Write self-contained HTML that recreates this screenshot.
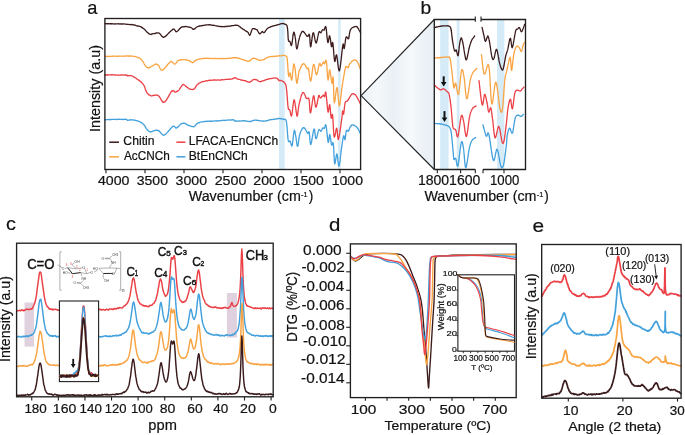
<!DOCTYPE html>
<html><head><meta charset="utf-8"><style>
html,body{margin:0;padding:0;background:#fff;}
svg{display:block;will-change:transform;}
text{font-family:"Liberation Sans", sans-serif;}
</style></head><body>
<svg width="685" height="435" viewBox="0 0 685 435">
<rect x="0" y="0" width="685" height="435" fill="#fff"/>
<rect x="279" y="19" width="5.7" height="150" fill="#d6ebf8" />
<rect x="338.1" y="19" width="2.6" height="150" fill="#d6ebf8" />
<path d="M105.2,23.7 L105.47,23.6 L105.76,23.77 L106.08,23.6 L106.42,23.71 L106.79,23.93 L107.18,23.55 L107.6,23.65 L108.03,23.82 L108.48,23.56 L108.95,23.6 L109.44,23.9 L109.94,23.97 L110.46,23.68 L110.99,23.63 L111.53,23.98 L112.08,23.7 L112.65,23.83 L113.22,23.84 L113.8,23.86 L114.39,23.99 L114.98,24.01 L115.58,23.9 L116.17,23.97 L116.77,23.97 L117.38,23.91 L117.98,23.83 L118.58,23.75 L119.17,23.78 L119.77,24.08 L120.35,23.99 L120.94,23.75 L121.51,24.12 L122.08,23.85 L122.63,24.05 L123.18,23.97 L123.71,23.9 L124.23,23.9 L124.73,24.08 L125.22,24.03 L125.7,24.15 L126.15,24.2 L126.59,24.28 L127,24.33 L127.4,24.26 L128.12,24.46 L128.82,24.32 L129.49,24.56 L130.13,24.61 L130.76,24.68 L131.35,24.46 L131.93,24.74 L132.49,24.81 L133.03,24.71 L133.55,24.93 L134.05,25.09 L134.53,24.96 L135,25.06 L135.46,25.42 L135.89,25.45 L136.32,25.8 L136.73,25.84 L137.13,25.94 L137.52,26.03 L137.91,25.88 L138.28,26.2 L138.64,26.02 L139,26.14 L139.75,26.47 L140.4,26.63 L140.95,26.76 L141.43,27.19 L141.86,27.62 L142.24,27.46 L142.6,27.77 L142.95,28.33 L143.31,28.43 L143.7,28.68 L144.14,29.01 L144.56,29.57 L144.96,29.82 L145.34,30.21 L145.71,30.62 L146.08,31.22 L146.45,31.28 L146.82,31.84 L147.2,32.26 L147.61,32.34 L147.99,32.83 L148.36,33.18 L148.73,33.63 L149.13,33.85 L149.58,34.06 L150.1,34.13 L150.7,34.27 L151.1,34.48 L151.56,34.08 L152.05,33.99 L152.58,33.91 L153.13,33.72 L153.7,33.61 L154.27,33.52 L154.85,33.55 L155.4,33.49 L155.94,32.92 L156.45,33.01 L156.92,32.79 L157.34,33.01 L157.7,33.02 L158.43,32.92 L158.87,32.79 L159.17,33.25 L159.49,33.57 L160,34.02 L160.32,34.16 L160.65,34.46 L160.98,35.18 L161.33,35.77 L161.7,36.04 L162.1,36.5 L162.55,36.71 L163.04,37.16 L163.59,37.36 L164.2,37.09 L164.49,36.8 L164.81,36.61 L165.15,36.7 L165.51,36.36 L165.89,35.84 L166.28,35.59 L166.68,35.04 L167.1,34.82 L167.52,34.16 L167.95,33.84 L168.38,33.47 L168.81,33.01 L169.24,32.48 L169.66,32.2 L170.08,31.59 L170.49,31.41 L170.89,31.03 L171.27,30.56 L171.64,30.4 L171.99,29.79 L172.32,29.86 L172.62,29.25 L172.9,29.33 L173.58,29.01 L174.11,29.15 L174.54,29.61 L174.9,30.17 L175.23,30.54 L175.56,31.14 L175.94,31.74 L176.4,31.73 L176.76,31.55 L177.13,31.45 L177.53,30.94 L177.94,30.7 L178.36,30.36 L178.78,29.76 L179.2,29.3 L179.61,28.72 L180.02,28.64 L180.4,28 L180.76,27.62 L181.1,27.38 L181.66,27.27 L182.1,26.8 L182.49,26.81 L182.91,26.71 L183.42,26.8 L184.1,26.74 L184.52,26.81 L185.01,26.51 L185.53,26.47 L186.1,26.53 L186.68,26.67 L187.28,26.7 L187.88,26.81 L188.47,27.16 L189.04,27.14 L189.57,27.17 L190.06,27.39 L190.5,27.37 L191.13,27.69 L191.66,28.03 L192.11,28.25 L192.52,28.99 L192.92,29.26 L193.33,29.21 L193.8,29.35 L194.18,28.98 L194.55,28.92 L194.92,28.72 L195.3,28.29 L195.68,27.78 L196.09,27.55 L196.52,27.07 L196.99,26.91 L197.5,26.68 L197.91,26.47 L198.34,26.46 L198.79,26.31 L199.26,25.9 L199.75,26.17 L200.24,25.93 L200.75,25.79 L201.27,25.68 L201.8,25.75 L202.33,25.45 L202.86,25.54 L203.4,25.35 L203.86,25.36 L204.31,25.32 L204.76,25.22 L205.22,25.18 L205.68,24.88 L206.14,24.9 L206.61,24.92 L207.1,24.85 L207.6,24.83 L208.11,24.78 L208.65,24.76 L209.21,24.84 L209.79,24.71 L210.4,24.73 L210.83,25.11 L211.27,25.06 L211.74,25.18 L212.22,25.05 L212.71,25.37 L213.21,25.26 L213.73,25.37 L214.25,25.28 L214.78,25.46 L215.31,25.75 L215.85,25.92 L216.38,25.82 L216.92,26.15 L217.45,26.18 L217.97,26 L218.49,26.19 L219,26.6 L219.5,26.46 L219.98,26.3 L220.45,26.64 L220.9,26.54 L221.47,26.45 L222.03,26.84 L222.58,26.6 L223.12,26.72 L223.64,26.55 L224.16,26.76 L224.66,26.6 L225.16,26.44 L225.65,26.37 L226.14,26.6 L226.62,26.42 L227.1,26.51 L227.58,26.11 L228.05,26.17 L228.53,26.23 L229,26.31 L229.55,26.16 L230.11,25.96 L230.67,26.09 L231.24,25.94 L231.81,25.67 L232.36,25.61 L232.91,25.62 L233.45,25.72 L233.96,25.49 L234.45,25.32 L234.91,25.38 L235.35,25.08 L235.74,25.24 L236.1,25.25 L236.96,25.29 L237.4,25.41 L237.77,25.22 L238.4,25.86 L238.74,26 L239.11,26.17 L239.51,26.56 L239.93,26.78 L240.37,27.1 L240.83,27.76 L241.29,28 L241.75,28.13 L242.21,28.59 L242.66,28.8 L243.1,29.24 L243.54,29.53 L243.99,29.67 L244.45,29.95 L244.92,30.37 L245.38,30.87 L245.84,30.82 L246.28,31.36 L246.71,31.26 L247.1,31.82 L247.47,31.77 L247.8,32.28 L248.23,32.55 L248.58,33.47 L248.86,34.1 L249.11,34.38 L249.35,35.15 L249.6,35.25 L249.9,34.9 L250.08,35.07 L250.25,34.55 L250.43,34.12 L250.61,33.63 L250.79,32.96 L250.97,32.65 L251.16,31.93 L251.35,31.33 L251.54,30.76 L251.75,29.96 L251.96,29.67 L252.17,29.3 L252.4,28.84 L252.87,28.67 L253.39,28.55 L253.93,28.75 L254.49,28.74 L255.02,28.9 L255.5,29.21 L255.9,29.42 L256.51,29.57 L256.91,29.7 L257.4,30.34 L257.66,30.86 L257.94,31.23 L258.23,31.83 L258.54,32.17 L258.86,32.86 L259.18,33.37 L259.49,33.62 L259.8,33.92 L260.2,33.63 L260.61,33.25 L261.03,32.79 L261.43,32.39 L261.82,31.93 L262.2,31.4 L262.71,31.85 L263.17,32.39 L263.65,32.64 L264.2,32.65 L264.48,32.36 L264.76,31.96 L265.06,31.81 L265.37,31.11 L265.69,30.48 L266.02,30.2 L266.36,29.66 L266.72,28.98 L267.1,28.8 L267.47,28.54 L267.84,28.12 L268.2,28 L268.58,27.57 L268.99,27.57 L269.43,27.36 L269.92,27.18 L270.47,26.85 L271.1,26.52 L271.5,26.63 L271.94,26.47 L272.41,26.11 L272.91,26.13 L273.44,25.89 L273.98,25.82 L274.54,25.66 L275.1,25.51 L275.66,25.24 L276.22,25.34 L276.76,25.05 L277.29,24.86 L277.79,24.64 L278.26,24.58 L278.7,24.71 L279.1,24.35 L279.8,24.17 L280.4,23.88 L280.92,23.83 L281.39,23.58 L281.83,23.58 L282.24,23.58 L282.66,23.61 L283.1,23.43 L283.63,23.66 L284.16,23.98 L284.67,23.99 L285.17,24.27 L285.63,24.42 L286.04,24.49 L286.4,24.98 L286.65,25.2 L286.86,25.72 L287.02,25.83 L287.16,26.48 L287.27,27.05 L287.38,27.45 L287.48,28.33 L287.6,28.94 L287.64,29.49 L287.68,30.01 L287.72,30.55 L287.76,30.98 L287.79,31.36 L287.83,31.89 L287.86,32.47 L287.89,33.02 L287.92,33.6 L287.95,34.26 L287.97,34.73 L288,35.29 L288.04,35.96 L288.07,36.49 L288.1,37.05 L288.13,37.86 L288.17,38.16 L288.21,38.79 L288.25,39.22 L288.3,39.48 L288.35,40.01 L288.4,40.25 L288.74,41.21 L289.15,41.48 L289.58,41.22 L290,41.64 L290.23,42.22 L290.45,42.68 L290.66,43.57 L290.89,44.5 L291.11,45.24 L291.35,45.51 L291.6,45.01 L291.67,45.01 L291.75,44.51 L291.82,44.45 L291.9,43.74 L291.98,43.31 L292.06,42.85 L292.14,42.31 L292.22,41.62 L292.31,41.12 L292.39,40.46 L292.47,39.65 L292.56,39.33 L292.64,38.42 L292.73,37.9 L292.81,37.15 L292.89,36.47 L292.98,35.96 L293.06,35.32 L293.14,34.91 L293.22,34.48 L293.3,33.94 L293.38,33.51 L293.45,33.12 L293.53,32.96 L293.6,32.48 L293.8,32.2 L293.98,32.24 L294.16,32.51 L294.34,33.22 L294.51,33.87 L294.68,34.5 L294.85,35.13 L295.02,36.18 L295.2,37.15 L295.27,37.69 L295.34,38.07 L295.41,38.38 L295.47,38.81 L295.54,39.59 L295.61,40.12 L295.67,40.98 L295.74,41.64 L295.81,42.24 L295.87,42.93 L295.94,43.25 L296.01,44.09 L296.08,44.53 L296.14,45.25 L296.21,46.13 L296.28,46.67 L296.35,47.07 L296.43,47.66 L296.5,47.99 L296.57,48.3 L296.65,48.68 L296.72,48.56 L296.8,48.93 L296.91,48.81 L297.02,48.55 L297.13,48.49 L297.24,48.25 L297.36,47.83 L297.48,47.3 L297.6,46.66 L297.71,45.9 L297.84,45.27 L297.96,44.71 L298.08,43.84 L298.2,43.41 L298.32,42.43 L298.44,41.76 L298.56,41.43 L298.68,40.78 L298.8,40.18 L298.95,39.7 L299.1,39.38 L299.25,38.45 L299.4,38.07 L299.55,37.6 L299.7,37.13 L299.85,36.48 L300,35.85 L300.16,35.32 L300.31,34.97 L300.47,34.68 L300.63,34.37 L300.8,33.85 L301.16,33.3 L301.51,32.64 L301.87,31.8 L302.26,31.4 L302.7,31.25 L303.2,31.62 L303.49,31.53 L303.81,32.17 L304.15,32.29 L304.51,32.6 L304.89,33.27 L305.27,33.94 L305.65,34.41 L306.02,35.01 L306.38,35.26 L306.71,35.82 L307.02,35.96 L307.3,36.49 L307.86,36.32 L308.32,35.48 L308.71,34.86 L309.06,34.06 L309.4,34.76 L309.47,34.97 L309.53,35.3 L309.59,35.62 L309.65,36.23 L309.7,36.86 L309.75,37.46 L309.8,37.93 L309.85,38.44 L309.89,39.45 L309.94,39.93 L309.98,40.97 L310.02,41.48 L310.07,42.28 L310.11,42.64 L310.16,43.37 L310.21,44.18 L310.26,44.5 L310.31,45.17 L310.36,45.82 L310.42,46.21 L310.49,46.5 L310.55,46.48 L310.62,46.83 L310.7,46.63 L310.77,46.67 L310.84,46.46 L310.91,46.16 L310.99,45.76 L311.07,45.67 L311.15,45.02 L311.23,44.46 L311.32,43.86 L311.4,43.26 L311.49,42.52 L311.58,41.8 L311.67,41.26 L311.76,40.72 L311.85,40.07 L311.94,39.28 L312.04,38.34 L312.13,37.69 L312.23,37.06 L312.32,36.52 L312.42,35.59 L312.52,35.4 L312.62,34.53 L312.71,34.14 L312.81,33.57 L312.91,33.22 L313.01,33.04 L313.1,33.06 L313.2,32.74 L313.33,32.98 L313.46,32.91 L313.59,33.2 L313.73,33.39 L313.86,34.03 L314,34.52 L314.14,34.96 L314.28,35.85 L314.42,36.38 L314.56,37.49 L314.7,38.23 L314.84,38.59 L314.98,39.66 L315.13,40.11 L315.27,40.98 L315.41,41.26 L315.55,41.89 L315.69,42.15 L315.83,42.69 L315.96,42.69 L316.1,43.1 L316.23,43.05 L316.36,42.75 L316.49,42.54 L316.63,42 L316.76,41.62 L316.9,41.05 L317.03,40.54 L317.16,39.94 L317.3,39.54 L317.43,38.9 L317.56,37.96 L317.69,37.45 L317.82,36.72 L317.95,36.07 L318.08,35.63 L318.2,34.81 L318.33,34.34 L318.45,33.75 L318.56,33.26 L318.68,32.71 L318.79,32.52 L318.9,32.1 L319.6,31.55 L320.2,32.27 L320.8,32.88 L321.08,32.37 L321.36,32.03 L321.65,31.49 L321.93,30.81 L322.2,30.25 L322.46,30.07 L322.7,29.69 L323.35,29.97 L324,30.09 L324.24,30.1 L324.5,29.06 L324.77,28.2 L325.05,27.61 L325.34,26.61 L325.62,26.46 L325.9,27.07 L325.96,27.53 L326.03,27.75 L326.09,28.12 L326.15,28.51 L326.22,28.99 L326.28,29.14 L326.34,29.93 L326.41,30.46 L326.47,31.14 L326.53,31.43 L326.6,32.25 L326.66,32.69 L326.72,33.49 L326.79,34.24 L326.85,35.01 L326.91,35.45 L326.98,36.11 L327.04,36.74 L327.1,37.4 L327.17,38.17 L327.23,38.79 L327.29,39.26 L327.36,39.93 L327.42,40.18 L327.48,40.81 L327.55,41.04 L327.61,41.35 L327.67,41.91 L327.74,41.91 L327.8,42.47 L327.95,42.49 L328.09,42.53 L328.24,41.97 L328.39,41.49 L328.54,40.69 L328.68,39.69 L328.83,38.87 L328.98,38.09 L329.12,37.23 L329.27,36.79 L329.41,36.12 L329.56,35.8 L329.7,36.16 L329.79,36.34 L329.88,36.59 L329.97,36.74 L330.06,37.08 L330.15,37.63 L330.24,38.14 L330.33,39.04 L330.42,39.59 L330.5,40.21 L330.59,40.74 L330.68,41.32 L330.77,42.24 L330.86,42.99 L330.94,43.77 L331.03,44.14 L331.11,44.59 L331.19,45.13 L331.27,45.9 L331.35,46.03 L331.43,46.5 L331.5,46.69 L331.68,46.63 L331.85,46.32 L332,45.24 L332.14,44.4 L332.29,43.3 L332.44,42.48 L332.61,42.44 L332.8,42.9 L332.84,43.21 L332.89,43.19 L332.94,43.63 L332.98,44.32 L333.03,44.65 L333.08,44.97 L333.13,45.35 L333.18,45.8 L333.23,46.6 L333.28,47.27 L333.34,47.75 L333.39,48.12 L333.44,48.72 L333.5,49.41 L333.55,50.23 L333.6,50.68 L333.66,51.7 L333.71,52.24 L333.77,53.08 L333.82,53.49 L333.88,54.06 L333.93,54.89 L333.99,55.49 L334.04,56.11 L334.1,56.56 L334.16,57.42 L334.21,57.86 L334.27,58.52 L334.32,59.06 L334.38,59.4 L334.43,59.81 L334.49,60.21 L334.54,60.56 L334.59,60.64 L334.65,61.02 L334.7,61.26 L334.84,61.65 L334.98,61.21 L335.12,61.02 L335.26,60.25 L335.39,59.36 L335.53,58.78 L335.66,57.74 L335.8,56.86 L335.95,55.93 L336.1,55.38 L336.26,54.98 L336.42,54.87 L336.6,55.11 L336.67,55.06 L336.75,55.29 L336.83,55.6 L336.9,56.29 L336.98,56.53 L337.06,57.26 L337.14,57.81 L337.22,58.27 L337.3,59.11 L337.39,59.76 L337.47,60.13 L337.55,61.07 L337.64,61.89 L337.73,62.59 L337.81,63.07 L337.9,64.04 L337.99,64.96 L338.08,65.57 L338.17,66.3 L338.26,66.72 L338.35,67.44 L338.44,67.95 L338.54,68.84 L338.63,69.15 L338.72,69.72 L338.82,70.17 L338.91,70.43 L339.01,70.44 L339.11,70.78 L339.2,70.88 L339.3,70.68 L339.4,70.62 L339.46,70.73 L339.52,70.37 L339.59,70.22 L339.65,70.1 L339.72,69.65 L339.79,69.23 L339.85,68.87 L339.92,68.87 L339.99,68.27 L340.06,67.9 L340.13,67.25 L340.2,67.01 L340.28,66.33 L340.35,66.08 L340.42,65.49 L340.5,64.84 L340.57,64.41 L340.65,63.81 L340.72,63.25 L340.8,62.25 L340.87,61.75 L340.95,61.26 L341.02,60.6 L341.09,59.98 L341.17,59.28 L341.24,58.62 L341.32,57.76 L341.39,57.34 L341.47,56.6 L341.54,55.78 L341.61,55.16 L341.68,54.63 L341.75,54.01 L341.82,53.42 L341.89,52.66 L341.96,51.82 L342.03,51.35 L342.1,50.53 L342.16,50 L342.23,49.39 L342.29,49.15 L342.35,48.44 L342.42,47.95 L342.48,47.77 L342.53,47.01 L342.59,46.87 L342.65,46.27 L342.7,45.86 L342.75,45.78 L342.8,45.31 L342.85,45.24 L342.9,44.96 L343.16,43.93 L343.37,44.15 L343.52,44.82 L343.65,45.76 L343.77,46.89 L343.88,47.95 L344.02,48.54 L344.2,48.61 L344.27,48.27 L344.34,48.22 L344.41,47.98 L344.49,47.48 L344.56,46.77 L344.64,46.45 L344.71,45.75 L344.79,45.22 L344.87,44.79 L344.95,44.17 L345.03,43.42 L345.12,42.9 L345.2,42.01 L345.29,41.53 L345.37,40.82 L345.46,40.34 L345.55,39.68 L345.64,38.9 L345.73,38.84 L345.82,38.25 L345.91,37.8 L346,37.61 L346.1,37.02 L346.57,36.79 L347.09,37.32 L347.61,38.1 L348.13,38.88 L348.6,38.57 L348.72,38.44 L348.82,37.81 L348.91,37.34 L349,37.01 L349.08,36.56 L349.16,35.9 L349.23,35.36 L349.31,34.78 L349.39,34.41 L349.47,33.62 L349.56,33.07 L349.65,32.56 L349.76,32.11 L349.87,31.54 L350.01,31.01 L350.15,30.61 L350.32,30.15 L350.5,29.8 L350.85,29.12 L351.27,28.63 L351.73,28.15 L352.23,27.66 L352.75,27.53 L353.28,27.18 L353.8,27.15 L354.31,26.78 L354.79,26.6 L355.22,26.72 L355.6,26.54 L356.17,26.33 L356.63,26.5 L357.01,26.79 L357.36,27.21 L357.71,27.8 L358.1,28.38 L358.36,28.59 L358.64,29.25 L358.93,29.87 L359.22,30.29 L359.51,30.78 L359.78,31.14 L360.03,31.91 L360.26,31.95 L360.45,32.64 L360.6,32.97" fill="none" stroke="#3b1b1c" stroke-width="1.3" stroke-linejoin="round" stroke-linecap="round" />
<path d="M105,56.29 L105.27,56.4 L105.56,56.24 L105.88,56.53 L106.22,56.26 L106.58,56.4 L106.97,56.55 L107.38,56.31 L107.8,56.55 L108.25,56.44 L108.71,56.35 L109.19,56.37 L109.69,56.34 L110.2,56.23 L110.73,56.5 L111.26,56.23 L111.81,56.47 L112.37,56.4 L112.94,56.02 L113.52,56.11 L114.11,56.2 L114.71,56.33 L115.31,56.04 L115.91,56.22 L116.52,56.1 L117.14,56.27 L117.75,56.32 L118.37,56.24 L118.98,55.97 L119.6,56.21 L120.21,56.06 L120.82,56.23 L121.43,56.06 L122.03,56.24 L122.63,56.27 L123.21,56.19 L123.8,56.19 L124.37,56.18 L124.93,56.08 L125.48,55.89 L126.02,56.24 L126.55,56.01 L127.06,55.82 L127.56,56 L128.04,56 L128.51,55.91 L128.96,56.25 L129.39,55.88 L129.8,56.24 L130.19,56.1 L130.56,55.94 L130.9,56.04 L131.9,56.13 L132.79,56.04 L133.58,56.39 L134.27,56.42 L134.88,56.65 L135.42,56.68 L135.89,56.76 L136.31,56.96 L136.69,57.05 L137.04,57.05 L137.36,57.14 L137.67,57.27 L137.98,57.55 L138.3,57.75 L138.64,57.87 L139,58.05 L139.53,57.96 L140.02,58.44 L140.47,58.62 L140.88,59.19 L141.26,59.56 L141.62,59.92 L141.95,60.43 L142.26,60.52 L142.55,61.11 L142.83,61.4 L143.1,61.57 L143.46,62.41 L143.73,62.5 L143.94,63.16 L144.13,63.66 L144.33,64.15 L144.57,64.77 L144.9,65.02 L145.23,65.59 L145.57,65.79 L145.93,66.36 L146.33,66.67 L146.76,67.29 L147.24,67.52 L147.78,67.88 L148.4,67.63 L148.77,67.72 L149.19,67.82 L149.64,67.22 L150.12,67.27 L150.63,67.02 L151.14,66.74 L151.67,66.35 L152.2,66.01 L152.73,65.89 L153.24,65.28 L153.74,65.17 L154.21,64.89 L154.65,64.7 L155.05,64.41 L155.4,64.09 L156.11,64.27 L156.63,64.03 L157.03,64.35 L157.4,64.66 L157.79,64.89 L158.3,65.16 L158.59,65.67 L158.87,65.89 L159.14,66.38 L159.43,67.06 L159.72,67.7 L160.02,68.31 L160.34,68.82 L160.69,69.26 L161.06,69.82 L161.47,69.93 L161.91,70.19 L162.4,69.88 L162.68,69.83 L162.98,69.98 L163.3,69.46 L163.63,69.26 L163.99,68.76 L164.35,68.7 L164.73,68.1 L165.11,67.54 L165.5,67.18 L165.9,66.99 L166.3,66.42 L166.7,65.6 L167.1,65.52 L167.5,64.64 L167.89,64.35 L168.27,63.91 L168.65,63.59 L169.01,62.9 L169.37,62.84 L169.7,62.27 L170.02,62.19 L170.32,62.05 L170.6,61.74 L171.24,61.3 L171.79,61.68 L172.27,61.87 L172.7,62.42 L173.1,62.93 L173.49,63.11 L173.87,63.72 L174.27,64.01 L174.7,64.19 L175.07,63.93 L175.42,63.7 L175.77,63.46 L176.12,62.82 L176.46,62.71 L176.81,62.15 L177.18,61.74 L177.55,61.1 L177.95,60.88 L178.36,60.51 L178.8,60.17 L179.27,60.31 L179.78,60.12 L180.31,59.82 L180.87,59.56 L181.43,59.88 L182,59.45 L182.57,59.59 L183.14,59.6 L183.68,59.73 L184.21,59.65 L184.7,59.65 L185.28,59.65 L185.83,59.94 L186.38,59.98 L186.9,59.91 L187.42,60.25 L187.91,60.48 L188.39,60.45 L188.85,60.45 L189.3,60.61 L189.84,61.27 L190.32,61.27 L190.78,61.89 L191.22,61.97 L191.66,62.27 L192.11,62.42 L192.6,62.74 L192.98,62.32 L193.35,62.28 L193.71,62.15 L194.08,61.7 L194.46,61.11 L194.88,60.74 L195.33,60.73 L195.83,60.18 L196.4,59.82 L196.79,59.87 L197.19,59.84 L197.61,59.49 L198.03,59.29 L198.48,59.18 L198.93,59.19 L199.41,59.21 L199.91,58.8 L200.43,58.99 L200.97,58.87 L201.54,58.73 L202.13,58.57 L202.75,58.35 L203.4,58.5 L203.81,58.43 L204.24,58.52 L204.69,58.23 L205.14,58.26 L205.61,58.19 L206.1,58.39 L206.59,58.2 L207.09,58.4 L207.6,58.36 L208.12,58.32 L208.64,58.27 L209.17,58.6 L209.7,58.41 L210.24,58.26 L210.78,58.48 L211.31,58.57 L211.85,58.46 L212.39,58.64 L212.92,58.63 L213.45,58.57 L213.97,58.29 L214.49,58.46 L215,58.5 L215.51,58.36 L216.03,58.5 L216.55,58.58 L217.07,58.62 L217.6,58.63 L218.13,58.63 L218.67,58.44 L219.2,58.58 L219.73,58.54 L220.27,58.66 L220.8,58.38 L221.33,58.41 L221.85,58.65 L222.37,58.66 L222.89,58.44 L223.39,58.68 L223.89,58.68 L224.39,58.62 L224.87,58.53 L225.35,58.34 L225.81,58.41 L226.26,58.63 L226.7,58.69 L227.31,58.32 L227.91,58.22 L228.49,58.3 L229.05,58.5 L229.6,58.11 L230.14,58.36 L230.66,58.22 L231.17,58.17 L231.67,58.16 L232.15,57.96 L232.63,57.69 L233.1,57.74 L233.56,57.69 L234.01,57.78 L234.46,57.63 L234.9,57.8 L235.51,57.53 L236.07,57.67 L236.59,57.76 L237.08,57.84 L237.56,58.21 L238.04,58.4 L238.52,58.19 L239.01,58.51 L239.53,58.46 L240.09,58.73 L240.7,58.84 L241.16,59.21 L241.64,59.41 L242.16,59.58 L242.69,59.5 L243.24,59.75 L243.81,59.86 L244.37,60.24 L244.94,60.23 L245.51,60.65 L246.06,60.68 L246.6,60.87 L247.12,61.14 L247.62,61.26 L248.08,61.05 L248.51,61.3 L248.9,61.1 L249.56,60.86 L250.11,60.95 L250.56,60.28 L250.94,59.87 L251.29,59.6 L251.64,59.23 L251.99,58.68 L252.4,58.6 L252.9,58.33 L253.41,58.13 L253.92,58.39 L254.42,58.3 L254.92,58.43 L255.42,58.64 L255.9,58.86 L256.43,58.86 L256.94,59.1 L257.43,59.52 L257.94,59.66 L258.49,60 L259.1,60.18 L259.55,60.06 L260.04,60.34 L260.54,60.38 L261.07,59.95 L261.61,59.92 L262.14,59.88 L262.68,59.96 L263.2,59.76 L263.7,59.8 L264.15,59.72 L264.55,59.24 L264.91,58.87 L265.27,58.54 L265.65,58.52 L266.08,58.15 L266.58,57.88 L267.18,57.65 L267.9,57.18 L268.28,57.22 L268.68,56.95 L269.12,56.78 L269.59,56.95 L270.07,56.73 L270.58,56.73 L271.11,56.68 L271.64,56.47 L272.19,56.31 L272.75,56.57 L273.31,56.52 L273.87,56.47 L274.43,56.23 L274.98,56.18 L275.53,56.26 L276.06,56.1 L276.57,56.23 L277.07,56.09 L277.55,56.05 L278,56.16 L278.62,55.77 L279.25,55.75 L279.87,55.82 L280.47,55.89 L281.07,55.85 L281.65,55.77 L282.22,55.42 L282.76,55.43 L283.28,55.38 L283.77,55.36 L284.23,55.36 L284.66,55.38 L285.05,55.74 L285.4,55.71 L285.95,56.09 L286.33,56.1 L286.58,56.36 L286.75,56.77 L286.88,57.16 L287.01,57.86 L287.2,59.16 L287.25,59.5 L287.3,59.74 L287.34,60.31 L287.39,60.84 L287.43,61.11 L287.48,61.47 L287.52,62.03 L287.57,62.69 L287.61,63.17 L287.65,63.87 L287.7,64.69 L287.74,64.97 L287.78,65.64 L287.82,66.37 L287.86,66.8 L287.9,67.74 L287.95,68.42 L287.99,68.61 L288.03,69.4 L288.07,70.18 L288.11,70.43 L288.15,71.24 L288.19,71.91 L288.23,72.52 L288.27,72.7 L288.31,73.51 L288.35,73.83 L288.39,74.32 L288.43,74.49 L288.47,74.77 L288.52,75.28 L288.56,75.78 L288.6,75.69 L288.83,76.56 L289.05,76.16 L289.28,74.99 L289.5,73.91 L289.74,73.33 L290,72.79 L290.12,73.28 L290.24,73.53 L290.36,74.34 L290.49,74.9 L290.61,75.71 L290.74,76.39 L290.88,77.39 L291.01,78.12 L291.14,78.46 L291.27,79.29 L291.41,79.58 L291.54,80.18 L291.67,80.25 L291.8,80.03 L291.86,79.8 L291.92,79.66 L291.98,79.08 L292.04,78.74 L292.1,78.61 L292.17,78.04 L292.23,77.38 L292.29,77.09 L292.35,76.44 L292.41,75.56 L292.48,75.34 L292.54,74.61 L292.6,73.95 L292.66,72.99 L292.73,72.29 L292.79,71.64 L292.85,71.26 L292.91,70.28 L292.97,69.73 L293.03,69.11 L293.09,68.53 L293.15,67.88 L293.21,67.23 L293.27,66.89 L293.32,66.2 L293.38,65.91 L293.44,65.46 L293.49,65.03 L293.55,64.74 L293.6,64.8 L293.82,63.95 L294.01,64.06 L294.2,64.44 L294.39,65.23 L294.58,66.04 L294.78,67.25 L295,68.56 L295.06,68.58 L295.12,68.95 L295.17,69.73 L295.23,69.98 L295.29,70.6 L295.35,71.1 L295.42,71.62 L295.48,72.35 L295.54,73.02 L295.6,73.83 L295.67,74.24 L295.73,74.86 L295.8,75.76 L295.86,76.55 L295.93,77.02 L295.99,77.62 L296.06,78.52 L296.13,79.12 L296.2,79.37 L296.26,79.97 L296.33,80.71 L296.4,81.11 L296.47,81.6 L296.54,81.96 L296.61,82.18 L296.68,82.75 L296.76,83.03 L296.83,83.06 L296.9,83.01 L296.99,83.2 L297.07,82.93 L297.16,82.68 L297.24,82.65 L297.32,82.31 L297.4,82.06 L297.49,81.4 L297.57,80.77 L297.65,80.42 L297.74,79.6 L297.82,79.08 L297.91,78.74 L298,77.81 L298.09,77.12 L298.19,76.7 L298.29,75.64 L298.39,75.26 L298.49,74.58 L298.6,74.03 L298.71,73.07 L298.82,72.63 L298.94,72.06 L299.07,71.42 L299.2,71.05 L299.41,70.43 L299.63,69.79 L299.86,69.44 L300.1,68.83 L300.35,68.09 L300.61,67.69 L300.87,67.12 L301.14,66.59 L301.41,65.8 L301.68,65.4 L301.96,64.88 L302.23,64.46 L302.51,64.56 L302.78,64.12 L303.04,63.98 L303.3,63.82 L303.62,63.7 L303.96,63.75 L304.31,64.16 L304.66,64.61 L305.02,64.94 L305.37,65.57 L305.72,66.42 L306.05,66.63 L306.37,67.42 L306.67,67.85 L306.94,68.42 L307.19,68.72 L307.4,68.86 L308.01,68.06 L308.4,67.92 L308.46,68.04 L308.53,68.58 L308.6,68.97 L308.68,69.55 L308.75,69.86 L308.83,70.35 L308.91,71.11 L308.99,71.85 L309.08,72.45 L309.16,73.02 L309.25,73.92 L309.34,74.45 L309.43,75.17 L309.52,76.16 L309.62,76.67 L309.71,77.62 L309.81,78.25 L309.91,78.78 L310,79.04 L310.1,79.58 L310.2,80.12 L310.3,80.5 L310.4,80.72 L310.5,80.7 L310.6,80.87 L310.7,81.19 L310.78,80.87 L310.86,80.75 L310.94,80.69 L311.02,80.09 L311.11,79.81 L311.19,79.5 L311.28,78.86 L311.36,78.42 L311.45,78.01 L311.53,77.43 L311.62,76.78 L311.71,76.16 L311.8,75.14 L311.89,74.47 L311.98,74 L312.07,73.34 L312.16,72.33 L312.25,71.77 L312.34,71.12 L312.43,70.33 L312.52,69.5 L312.61,69.06 L312.7,68.44 L312.79,67.82 L312.88,67.07 L312.97,66.6 L313.06,65.98 L313.15,65.75 L313.24,65.22 L313.33,65.01 L313.42,64.91 L313.51,64.52 L313.6,64.3 L313.74,64.42 L313.88,64.53 L314.01,64.54 L314.15,65.01 L314.29,65.57 L314.43,65.85 L314.57,66.72 L314.7,67.22 L314.84,68 L314.98,68.84 L315.12,69.79 L315.26,70.24 L315.4,71.02 L315.53,72.06 L315.67,72.34 L315.81,73.02 L315.95,73.75 L316.09,74.1 L316.22,74.56 L316.36,74.5 L316.5,74.83 L316.63,74.54 L316.77,74.3 L316.91,74.21 L317.04,73.72 L317.18,73.35 L317.32,73.07 L317.46,72.49 L317.61,71.82 L317.75,71.13 L317.89,70.22 L318.02,69.68 L318.16,69.18 L318.3,68.48 L318.43,67.47 L318.57,67 L318.7,66.48 L318.82,65.84 L318.95,65.24 L319.07,64.7 L319.18,64.37 L319.29,63.84 L319.4,63.98 L319.81,63.32 L320.14,63.93 L320.43,65.2 L320.74,65.86 L321.1,65.94 L321.34,65.79 L321.59,65.5 L321.87,64.85 L322.15,64.22 L322.43,63.63 L322.7,63.05 L322.96,62.62 L323.19,62.37 L323.4,61.96 L323.74,62.23 L323.98,62.81 L324.2,63.55 L324.5,63.79 L324.76,63.23 L325.05,62.42 L325.36,61.46 L325.68,60.47 L326,60.36 L326.3,60.9 L326.35,61.15 L326.39,61.37 L326.44,61.72 L326.48,62.11 L326.53,62.75 L326.57,62.97 L326.62,63.53 L326.66,64.08 L326.71,64.33 L326.75,64.86 L326.8,65.62 L326.84,66.13 L326.89,66.86 L326.93,67.4 L326.98,68.2 L327.02,68.8 L327.07,69.37 L327.11,70.27 L327.16,71.04 L327.2,71.4 L327.25,72.17 L327.29,72.74 L327.33,73.63 L327.38,73.96 L327.42,74.48 L327.47,75.46 L327.51,75.96 L327.56,76.39 L327.6,76.72 L327.64,77.33 L327.69,77.85 L327.73,78.31 L327.78,78.53 L327.82,78.93 L327.87,79.14 L327.91,79.41 L327.96,79.61 L328,79.86 L328.09,80.06 L328.18,80.1 L328.26,79.57 L328.35,79.49 L328.43,78.68 L328.52,77.94 L328.6,77.48 L328.68,76.8 L328.77,75.98 L328.86,74.93 L328.94,74.28 L329.03,73.43 L329.12,72.47 L329.21,71.84 L329.3,71.26 L329.4,70.8 L329.5,70.11 L329.6,70.07 L329.7,69.89 L329.78,70.01 L329.86,70.39 L329.94,70.53 L330.03,70.85 L330.12,71.69 L330.21,71.79 L330.31,72.64 L330.4,73.07 L330.49,73.68 L330.59,74.38 L330.69,75.1 L330.78,75.58 L330.88,76.63 L330.98,77.34 L331.07,77.98 L331.17,78.53 L331.26,79.28 L331.35,79.68 L331.44,80.45 L331.53,81.14 L331.62,81.66 L331.7,82.23 L331.78,82.36 L331.86,83.04 L331.93,82.91 L332,83.14 L332.15,83.51 L332.29,82.79 L332.41,82.49 L332.52,81.41 L332.63,80.16 L332.72,79.15 L332.82,78.03 L332.91,77.44 L333,76.87 L333.1,77.15 L333.2,77.8 L333.22,77.83 L333.24,78.03 L333.27,78.49 L333.29,78.86 L333.31,78.95 L333.33,79.52 L333.35,80.05 L333.36,80.37 L333.38,80.6 L333.4,81.44 L333.42,81.65 L333.44,82.29 L333.45,82.81 L333.47,83.45 L333.49,84.23 L333.5,84.57 L333.52,85.33 L333.54,85.96 L333.55,86.79 L333.57,87.28 L333.59,87.93 L333.6,88.53 L333.62,89.36 L333.64,90.13 L333.66,90.58 L333.67,91.46 L333.69,91.91 L333.71,92.55 L333.73,93.17 L333.75,93.89 L333.77,94.59 L333.79,95.18 L333.81,95.87 L333.83,96.56 L333.86,97.16 L333.88,97.42 L333.9,98.05 L333.93,98.76 L333.95,99.38 L333.98,99.5 L334.01,100.14 L334.03,100.37 L334.06,101.11 L334.09,101.48 L334.13,101.69 L334.16,101.89 L334.19,102.24 L334.23,102.47 L334.26,102.39 L334.3,102.78 L334.37,102.71 L334.43,102.54 L334.51,102.39 L334.58,102.33 L334.66,101.81 L334.74,101.74 L334.83,101.07 L334.92,100.76 L335,100.13 L335.1,99.31 L335.19,98.84 L335.28,97.84 L335.38,97.01 L335.48,96.4 L335.57,95.72 L335.67,94.86 L335.77,93.86 L335.87,92.99 L335.97,92.36 L336.07,91.83 L336.17,90.85 L336.27,90.16 L336.36,89.87 L336.46,89.26 L336.55,88.63 L336.65,88.29 L336.74,87.76 L336.83,87.76 L336.92,87.62 L337,87.48 L337.07,87.57 L337.14,87.7 L337.21,87.89 L337.27,88.37 L337.34,88.64 L337.4,89.14 L337.47,89.72 L337.53,89.91 L337.6,90.76 L337.66,91.14 L337.73,92 L337.79,92.34 L337.85,93.39 L337.91,93.91 L337.98,94.69 L338.04,95.33 L338.1,96.07 L338.16,96.61 L338.22,97.41 L338.29,98.48 L338.35,99.03 L338.41,99.63 L338.47,100.6 L338.53,101.27 L338.6,101.89 L338.66,102.31 L338.72,102.87 L338.78,103.58 L338.85,103.92 L338.91,104.5 L338.97,104.65 L339.04,105 L339.1,105.35 L339.17,105.79 L339.23,105.64 L339.3,105.81 L339.37,105.6 L339.44,105.75 L339.52,105.41 L339.59,105.35 L339.66,105.14 L339.74,104.95 L339.82,104.6 L339.89,104.09 L339.97,103.87 L340.05,103.15 L340.12,102.65 L340.2,102.31 L340.28,101.71 L340.36,100.84 L340.43,100.33 L340.51,99.93 L340.59,99.32 L340.66,98.41 L340.74,97.58 L340.82,97.27 L340.89,96.36 L340.97,95.75 L341.04,95.21 L341.12,94.31 L341.19,93.92 L341.26,93.04 L341.33,92.45 L341.4,91.75 L341.47,91.34 L341.54,90.59 L341.61,90.41 L341.67,89.79 L341.74,89.03 L341.8,88.59 L341.9,88.02 L341.99,87.64 L342.08,86.98 L342.16,86.46 L342.25,85.84 L342.33,85.25 L342.4,84.78 L342.48,84.36 L342.55,83.7 L342.63,83.4 L342.7,83 L342.77,82.44 L342.84,81.8 L342.92,81.42 L342.99,80.93 L343.07,80.47 L343.15,79.8 L343.23,79.34 L343.32,79.08 L343.41,78.46 L343.5,77.96 L343.59,77.64 L343.68,76.9 L343.77,76.43 L343.86,75.73 L343.96,75.17 L344.06,74.98 L344.16,74.36 L344.26,73.64 L344.36,73.15 L344.46,72.46 L344.56,71.9 L344.66,71.54 L344.77,70.6 L344.87,70.32 L344.98,69.72 L345.08,69.33 L345.18,68.66 L345.29,68.24 L345.39,67.78 L345.5,67.71 L345.6,67.04 L345.7,66.82 L345.8,66.65 L346.27,66.37 L346.75,66.58 L347.22,67.25 L347.68,67.61 L348.1,67.77 L348.33,67.69 L348.53,67.05 L348.7,66.59 L348.88,65.99 L349.06,65.45 L349.26,64.67 L349.51,64.13 L349.8,63.61 L350.11,63.34 L350.46,62.99 L350.84,62.6 L351.24,62.15 L351.65,61.42 L352.07,61.13 L352.49,60.81 L352.91,60.6 L353.3,60.4 L353.87,60.04 L354.44,60.07 L355,59.97 L355.56,60.1 L356.13,60.55 L356.7,61.05 L356.92,61.03 L357.16,61.66 L357.4,61.77 L357.65,62.45 L357.9,62.92 L358.16,63.61 L358.41,64.19 L358.66,64.61 L358.91,65.13 L359.14,65.62 L359.36,66.54 L359.57,67.03 L359.76,67.28 L359.93,67.67 L360.08,67.96 L360.2,68.55" fill="none" stroke="#f9a443" stroke-width="1.3" stroke-linejoin="round" stroke-linecap="round" />
<path d="M105,75.11 L105.27,74.71 L105.57,75 L105.9,74.9 L106.27,75.1 L106.66,74.87 L107.08,75.1 L107.53,74.77 L108,75.14 L108.49,74.88 L109.01,74.78 L109.54,74.86 L110.08,74.98 L110.65,74.72 L111.22,74.88 L111.81,74.72 L112.4,74.75 L113.01,74.79 L113.62,74.82 L114.23,74.85 L114.85,75.07 L115.47,74.92 L116.08,75.12 L116.7,75.14 L117.31,75.14 L117.91,75.17 L118.51,75.01 L119.09,75.06 L119.66,75.16 L120.22,75.02 L120.77,74.85 L121.3,75.02 L121.81,75.03 L122.3,74.89 L122.76,74.86 L123.21,74.91 L123.62,75.14 L124.01,75.2 L124.37,75.15 L124.7,75.06 L125,74.89 L126.57,75.02 L127.12,75.48 L127.13,75.62 L127.06,75.76 L127.4,75.76 L127.8,75.74 L128.23,75.73 L128.68,75.63 L129.16,75.75 L129.67,75.55 L130.21,75.62 L130.77,75.58 L131.37,75.73 L132,76.01 L132.38,76.18 L132.78,76.09 L133.2,76.67 L133.64,76.86 L134.09,77.11 L134.55,77.23 L135.02,77.75 L135.49,78 L135.97,78.07 L136.44,78.59 L136.9,78.99 L137.36,79.27 L137.8,79.66 L138.22,79.81 L138.62,80.18 L139,80.21 L139.44,80.82 L139.87,80.92 L140.28,81.5 L140.67,81.91 L141.06,82 L141.43,82.19 L141.78,82.51 L142.13,83.06 L142.46,83.25 L142.79,83.88 L143.1,84.21 L143.4,84.57 L143.7,85.08 L143.94,85.25 L144.17,85.82 L144.38,86.1 L144.57,86.8 L144.76,87.4 L144.93,87.63 L145.1,88.38 L145.27,89.02 L145.44,89.24 L145.61,89.69 L145.79,90.19 L145.97,90.91 L146.17,91.02 L146.38,91.74 L146.6,91.9 L146.93,92.6 L147.26,93.12 L147.62,93.54 L147.98,93.68 L148.35,94.22 L148.73,94.48 L149.11,95.06 L149.51,95.09 L149.9,95.29 L150.3,95.6 L150.7,95.62 L151.2,95.78 L151.73,95.98 L152.27,95.73 L152.81,95.52 L153.36,95.67 L153.9,95.19 L154.42,95.27 L154.93,95.11 L155.4,95.02 L155.95,95.08 L156.43,95.06 L156.89,95.22 L157.34,95.26 L157.8,95.26 L158.32,95.73 L158.9,96.1 L159.18,96.57 L159.46,96.58 L159.75,97.17 L160.04,97.9 L160.35,98.05 L160.65,98.91 L160.97,99.57 L161.29,100.01 L161.63,100.32 L161.96,101.14 L162.31,101.36 L162.67,101.85 L163.04,102.27 L163.42,102.24 L163.8,102.27 L164.2,102.13 L164.45,102.1 L164.72,101.81 L165,101.82 L165.28,101.57 L165.58,100.88 L165.88,100.69 L166.19,100.37 L166.5,99.89 L166.82,99.16 L167.14,98.76 L167.47,98.28 L167.79,97.66 L168.11,97.3 L168.43,96.69 L168.75,96.15 L169.07,95.22 L169.38,94.62 L169.69,94.34 L169.99,93.82 L170.28,93.19 L170.56,92.73 L170.83,92.55 L171.09,92.17 L171.34,91.49 L171.58,91.26 L171.8,91.3 L172.52,90.69 L173.1,90.52 L173.59,91.1 L174.02,91.22 L174.42,91.53 L174.84,91.99 L175.3,92.06 L175.74,92.07 L176.18,91.97 L176.61,91.48 L177.05,91.41 L177.49,91.31 L177.93,90.79 L178.36,90.59 L178.8,90.18 L179.1,89.8 L179.4,89.35 L179.71,88.67 L180.03,88.58 L180.34,87.79 L180.66,87.3 L180.96,86.89 L181.26,86.43 L181.54,86.1 L181.82,85.61 L182.07,85.44 L182.3,85.13 L182.99,84.55 L183.48,84.4 L184.1,84.86 L184.46,85 L184.85,85.4 L185.27,85.53 L185.7,86.14 L186.14,86.49 L186.58,86.63 L187,87.29 L187.47,87.45 L187.92,87.8 L188.38,88.11 L188.84,88.46 L189.35,88.92 L189.9,89.19 L190.36,89.12 L190.87,89.28 L191.4,89.37 L191.95,89.31 L192.5,89.69 L193.03,89.46 L193.54,89.18 L194,89.08 L194.33,88.87 L194.64,88.76 L194.92,88.11 L195.19,87.66 L195.45,87.52 L195.71,86.77 L195.98,86.57 L196.26,85.7 L196.57,85.3 L196.9,84.97 L197.24,84.71 L197.58,84.44 L197.91,84.03 L198.26,84 L198.62,83.7 L199.01,83.25 L199.43,83.17 L199.9,82.85 L200.42,82.65 L201,82.24 L201.39,81.88 L201.8,81.94 L202.23,81.58 L202.68,81.6 L203.14,81.73 L203.62,81.34 L204.12,81.35 L204.62,81.35 L205.15,81.13 L205.69,80.88 L206.24,80.84 L206.81,80.57 L207.39,80.77 L207.98,80.62 L208.58,80.4 L209.2,80.37 L209.64,80.51 L210.09,80.11 L210.56,80.15 L211.04,80.3 L211.53,80.34 L212.03,80.21 L212.54,80.22 L213.06,79.93 L213.58,80.16 L214.11,80.14 L214.64,79.91 L215.17,80.1 L215.71,79.97 L216.25,80 L216.78,80.18 L217.31,80.19 L217.85,79.81 L218.37,79.83 L218.89,80.05 L219.41,80.16 L219.91,80.01 L220.41,79.86 L220.9,80.01 L221.43,80.05 L221.98,79.64 L222.52,79.59 L223.08,79.73 L223.63,79.81 L224.19,79.69 L224.75,79.63 L225.3,79.45 L225.85,79.41 L226.39,79.31 L226.93,79.45 L227.45,79.32 L227.96,79.41 L228.46,79.32 L228.95,79.2 L229.41,79.35 L229.85,79.12 L230.28,79.13 L230.68,79.08 L231.05,79.14 L231.4,79.21 L232.27,78.94 L232.91,78.41 L233.39,78.52 L233.77,78.22 L234.1,78.1 L234.46,77.72 L234.9,77.69 L235.37,77.75 L235.8,77.95 L236.22,78.15 L236.66,78.65 L237.14,78.94 L237.72,79.03 L238.4,79.17 L238.8,79.38 L239.24,79.34 L239.72,79.5 L240.23,79.7 L240.76,80.01 L241.31,80.04 L241.86,79.88 L242.42,80.29 L242.97,80.48 L243.51,80.55 L244.03,80.34 L244.52,80.63 L244.98,80.89 L245.4,80.69 L246.05,81.04 L246.63,81.31 L247.15,81.71 L247.63,81.9 L248.09,81.96 L248.54,82.17 L249.01,82.09 L249.5,82.34 L249.96,81.96 L250.42,81.9 L250.89,81.36 L251.36,81.25 L251.82,80.9 L252.28,80.21 L252.73,80.01 L253.17,79.63 L253.6,79.61 L254.14,79.38 L254.67,79.68 L255.19,79.69 L255.7,79.45 L256.19,79.67 L256.66,79.84 L257.1,79.94 L257.64,80.41 L258.11,80.88 L258.56,81.18 L259.04,81.53 L259.6,81.55 L260.07,81.69 L260.57,81.79 L261.1,81.34 L261.65,81.24 L262.21,81.18 L262.76,80.98 L263.3,80.67 L263.78,80.73 L264.2,80.62 L264.6,80.18 L265.03,80.17 L265.54,79.92 L266.18,79.61 L267,79.21 L267.38,79.25 L267.82,79.33 L268.29,79.2 L268.8,78.93 L269.34,78.74 L269.9,78.64 L270.48,78.6 L271.07,78.68 L271.66,78.42 L272.26,78.38 L272.84,78.17 L273.41,78.2 L273.96,78.02 L274.49,77.93 L274.98,77.97 L275.43,78.1 L275.84,78.15 L276.2,78.21 L276.93,78.22 L277.44,78.63 L277.81,79.13 L278.08,79.16 L278.31,79.8 L278.57,80.02 L278.9,80.6 L279.44,80.4 L279.97,80.49 L280.51,80.47 L281.08,80.68 L281.7,80.88 L282.08,80.81 L282.51,81.24 L282.96,81.45 L283.41,81.67 L283.87,81.96 L284.31,82.54 L284.72,83.12 L285.09,83.68 L285.4,83.88 L285.57,84.27 L285.71,84.77 L285.83,85.1 L285.94,85.37 L286.03,85.65 L286.11,86.34 L286.19,86.57 L286.25,86.99 L286.32,87.6 L286.38,87.97 L286.45,88.75 L286.52,89.26 L286.61,90.1 L286.7,91.06 L286.74,91.47 L286.78,91.98 L286.83,92.28 L286.87,92.47 L286.91,93.18 L286.95,93.53 L287,94.02 L287.04,94.75 L287.08,95.15 L287.13,95.96 L287.17,96.37 L287.21,96.8 L287.26,97.38 L287.3,97.94 L287.35,98.93 L287.39,99.53 L287.44,99.93 L287.48,100.73 L287.53,101.24 L287.57,101.83 L287.62,102.38 L287.66,102.98 L287.71,103.25 L287.75,104.04 L287.8,104.49 L287.84,104.97 L287.89,105.37 L287.93,106.04 L287.98,106.54 L288.02,106.91 L288.07,107.03 L288.11,107.38 L288.16,107.97 L288.2,108.27 L288.57,109.39 L288.92,109.46 L289.3,109.55 L289.7,109.92 L289.84,110.27 L289.99,110.73 L290.14,111.18 L290.29,112.05 L290.44,112.84 L290.6,113.69 L290.76,114.63 L290.92,115.25 L291.09,115.39 L291.26,115.83 L291.43,116.01 L291.6,115.82 L291.67,115.43 L291.74,115.03 L291.81,114.93 L291.88,114.3 L291.96,114.18 L292.03,113.77 L292.11,113.27 L292.18,112.68 L292.26,111.86 L292.34,111.41 L292.42,110.66 L292.5,109.94 L292.58,109.62 L292.66,108.62 L292.74,108.18 L292.81,107.38 L292.89,106.83 L292.97,106.05 L293.05,105.53 L293.13,105.01 L293.2,104.03 L293.28,103.68 L293.35,103.03 L293.43,102.68 L293.5,101.91 L293.57,101.73 L293.64,101.16 L293.71,100.54 L293.77,100.29 L293.84,100.2 L293.9,100.04 L294.05,99.91 L294.19,99.69 L294.32,100.02 L294.45,100.25 L294.57,100.68 L294.68,101.51 L294.79,102.1 L294.91,102.69 L295.02,103.58 L295.14,104.25 L295.27,105.34 L295.4,106.09 L295.48,106.55 L295.57,106.85 L295.65,107.3 L295.74,108.09 L295.83,108.71 L295.91,109.54 L296,109.97 L296.09,110.88 L296.18,111.4 L296.27,112.13 L296.37,112.86 L296.46,113.39 L296.55,113.77 L296.64,114.38 L296.74,115.07 L296.83,115.47 L296.92,115.66 L297.01,115.89 L297.11,116.21 L297.2,116 L297.28,115.88 L297.36,115.74 L297.43,115.69 L297.5,115.35 L297.57,114.99 L297.64,114.83 L297.71,113.95 L297.78,113.77 L297.85,113.03 L297.92,112.48 L297.99,111.83 L298.07,111.22 L298.14,110.47 L298.22,109.84 L298.3,109.32 L298.39,108.88 L298.47,107.82 L298.57,107.43 L298.66,106.62 L298.76,106.06 L298.87,105.38 L298.98,104.98 L299.1,104.31 L299.22,103.81 L299.34,103.2 L299.48,102.79 L299.61,102.34 L299.75,101.51 L299.9,101.05 L300.04,100.29 L300.2,99.76 L300.35,99.06 L300.51,98.67 L300.67,97.77 L300.83,97.47 L301,96.56 L301.16,96.27 L301.33,95.56 L301.49,95.1 L301.66,94.53 L301.83,94.17 L301.99,93.87 L302.16,93.51 L302.32,93.2 L302.48,92.74 L302.64,92.66 L302.8,92.66 L303.07,92.38 L303.35,92.61 L303.63,92.83 L303.92,92.89 L304.21,93.56 L304.5,94.05 L304.78,94.81 L305.06,95.17 L305.34,96.11 L305.61,96.86 L305.88,97.41 L306.13,97.98 L306.37,98.04 L306.6,98.46 L307.32,98.64 L307.94,98.4 L308.5,97.98 L309,99.31 L309.07,99.37 L309.14,99.69 L309.2,100.29 L309.26,100.78 L309.31,101.41 L309.36,101.79 L309.41,102.56 L309.46,103.15 L309.51,103.83 L309.55,104.63 L309.6,105.49 L309.64,105.82 L309.68,106.95 L309.73,107.37 L309.77,108.16 L309.82,108.89 L309.87,109.54 L309.91,110.26 L309.97,110.57 L310.02,111.19 L310.08,111.73 L310.14,111.91 L310.2,112.36 L310.27,112.73 L310.34,112.63 L310.42,112.73 L310.5,112.83 L310.57,112.84 L310.64,112.62 L310.72,112.48 L310.8,112.13 L310.88,111.83 L310.96,111.53 L311.05,111.01 L311.14,110.22 L311.23,109.67 L311.32,109.22 L311.41,108.47 L311.51,107.92 L311.6,107.11 L311.7,106.58 L311.8,105.78 L311.9,105.13 L312,104.59 L312.1,103.91 L312.2,102.82 L312.3,102.32 L312.4,101.72 L312.5,100.79 L312.6,100.41 L312.7,99.54 L312.8,99.21 L312.89,98.37 L312.99,97.94 L313.08,97.49 L313.17,96.93 L313.26,96.75 L313.35,96.11 L313.44,96.13 L313.52,95.95 L313.6,95.89 L313.72,95.69 L313.83,95.87 L313.94,95.81 L314.04,96.41 L314.14,96.54 L314.24,97.42 L314.34,98.02 L314.44,98.28 L314.53,99.38 L314.62,100 L314.72,100.81 L314.81,101.7 L314.9,102.26 L314.99,103.11 L315.09,103.89 L315.18,104.49 L315.28,105.24 L315.37,105.89 L315.47,106.34 L315.58,106.79 L315.68,106.99 L315.79,106.94 L315.9,107.03 L316.02,107.28 L316.13,107.09 L316.26,106.9 L316.38,106.29 L316.51,106.03 L316.64,105.34 L316.78,105.16 L316.91,104.49 L317.05,103.86 L317.18,103.25 L317.32,102.56 L317.46,101.5 L317.59,101.04 L317.72,100.23 L317.86,99.62 L317.99,98.76 L318.11,98.27 L318.24,97.92 L318.36,97.23 L318.48,96.79 L318.59,96.4 L318.7,96.05 L318.8,95.52 L319.2,95.37 L319.51,95.95 L319.79,96.92 L320.1,97.61 L320.5,97.81 L320.82,97.77 L321.18,97.65 L321.58,97 L321.99,96.38 L322.39,96.27 L322.77,95.76 L323.12,95.15 L323.4,95.21 L323.79,95.37 L324.04,96.15 L324.25,96.49 L324.5,96.91 L324.66,96.59 L324.81,95.76 L324.97,94.92 L325.14,93.63 L325.31,92.93 L325.49,92.15 L325.69,92.03 L325.9,92.66 L325.95,93.15 L325.99,93.49 L326.04,93.8 L326.09,94.06 L326.14,94.16 L326.2,94.91 L326.25,95.38 L326.3,95.59 L326.36,96.12 L326.41,96.68 L326.47,97.58 L326.53,97.86 L326.58,98.65 L326.64,99.02 L326.7,99.75 L326.76,100.69 L326.81,101.23 L326.87,101.77 L326.93,102.7 L326.99,103.1 L327.05,103.97 L327.11,104.26 L327.17,104.88 L327.23,105.82 L327.28,106.27 L327.34,106.92 L327.4,107.66 L327.46,107.92 L327.52,108.78 L327.57,109.21 L327.63,109.47 L327.68,110.21 L327.74,110.4 L327.79,110.58 L327.85,110.9 L327.9,111.31 L327.95,111.84 L328,111.99 L328.13,111.98 L328.27,112.12 L328.39,111.86 L328.52,111.23 L328.64,110.22 L328.77,109.8 L328.89,108.71 L329.01,107.66 L329.12,106.73 L329.24,106.27 L329.36,105.36 L329.47,104.95 L329.59,104.69 L329.7,105.1 L329.76,104.92 L329.82,105.35 L329.88,105.41 L329.94,105.98 L330,106.41 L330.06,107.1 L330.12,107.52 L330.18,108.02 L330.24,108.49 L330.3,109.09 L330.35,109.88 L330.41,110.5 L330.47,111.14 L330.53,111.81 L330.58,112.54 L330.64,113.14 L330.7,113.71 L330.75,114.42 L330.81,115.36 L330.86,115.92 L330.92,116.21 L330.98,116.57 L331.03,117.14 L331.09,117.57 L331.14,117.66 L331.2,118.05 L331.44,118.23 L331.67,117.33 L331.89,116.16 L332.12,114.9 L332.36,114.36 L332.6,115.13 L332.64,115.37 L332.67,115.66 L332.71,116.02 L332.74,116.46 L332.78,117.03 L332.81,117.29 L332.84,117.72 L332.88,118.32 L332.91,118.81 L332.95,119.27 L332.98,119.93 L333.02,120.47 L333.05,121.14 L333.09,121.77 L333.12,122.18 L333.15,123.22 L333.19,123.55 L333.22,124.51 L333.26,124.9 L333.3,125.69 L333.33,126.36 L333.37,127.22 L333.4,127.71 L333.44,128.12 L333.48,129.09 L333.52,129.59 L333.55,130.06 L333.59,130.69 L333.63,131.64 L333.67,132.05 L333.71,132.41 L333.75,133.26 L333.79,133.66 L333.84,134.15 L333.88,134.68 L333.92,135.18 L333.97,135.51 L334.01,135.93 L334.06,135.94 L334.1,136.39 L334.15,136.37 L334.2,136.61 L334.32,137.07 L334.46,136.91 L334.6,136.56 L334.74,136.58 L334.89,136.06 L335.05,135.32 L335.21,134.44 L335.36,133.8 L335.52,132.93 L335.68,132.16 L335.84,130.94 L336,130.31 L336.15,129.51 L336.3,129.04 L336.44,128.61 L336.57,128.36 L336.7,128.24 L336.8,128.69 L336.89,128.6 L336.97,129.07 L337.05,129.55 L337.13,130.48 L337.2,130.84 L337.27,131.64 L337.34,132.44 L337.41,133.26 L337.47,134.26 L337.54,135 L337.61,135.44 L337.68,136.58 L337.75,137.06 L337.83,137.94 L337.91,138.26 L337.99,138.88 L338.09,139.26 L338.18,139.21 L338.29,139.2 L338.4,139.37 L338.47,138.95 L338.54,138.82 L338.61,138.55 L338.68,138.29 L338.76,138.02 L338.84,137.61 L338.93,137.46 L339.01,137.2 L339.1,136.73 L339.19,136.18 L339.28,135.37 L339.37,134.87 L339.47,134.69 L339.56,133.77 L339.66,133.39 L339.75,132.85 L339.85,132.39 L339.95,131.49 L340.04,130.99 L340.14,130.13 L340.24,129.86 L340.33,129.05 L340.43,128.55 L340.52,127.61 L340.61,127.32 L340.7,126.49 L340.79,125.88 L340.88,125.42 L340.96,124.5 L341.04,124.23 L341.12,123.54 L341.2,122.96 L341.28,122.42 L341.35,121.94 L341.42,121.42 L341.48,120.85 L341.54,120.43 L341.6,119.99 L341.71,119.46 L341.81,118.65 L341.89,118.03 L341.97,117.33 L342.04,116.79 L342.1,115.83 L342.15,115.39 L342.2,114.59 L342.24,114.2 L342.28,113.81 L342.31,113.2 L342.35,112.73 L342.38,112.61 L342.42,112.03 L342.46,111.88 L342.5,111.27 L342.55,111.34 L342.6,110.95 L342.76,110.86 L342.91,111.81 L343.06,112.58 L343.22,113.68 L343.4,114.14 L343.6,114.22 L343.66,113.71 L343.71,113.7 L343.77,113.18 L343.83,112.63 L343.89,112.25 L343.96,111.7 L344.02,111.5 L344.08,110.9 L344.15,110.2 L344.22,109.6 L344.28,108.99 L344.35,108.46 L344.42,107.8 L344.5,107.09 L344.57,106.24 L344.64,105.78 L344.72,105.25 L344.79,104.78 L344.87,104.19 L344.95,103.63 L345.03,103.18 L345.12,102.73 L345.2,102.71 L345.62,101.58 L346.09,101.48 L346.58,101.39 L347.06,101.13 L347.5,101 L347.82,100.32 L348.1,99.93 L348.37,99.77 L348.64,99.06 L348.95,98.73 L349.3,98.16 L349.56,97.74 L349.84,96.87 L350.13,96.46 L350.44,96.12 L350.75,95.43 L351.08,95.01 L351.41,94.74 L351.75,94.25 L352.1,93.79 L352.55,93.85 L353,93.85 L353.47,93.69 L353.95,93.91 L354.46,94.27 L355.01,94.32 L355.6,95.05 L355.81,95.57 L356.04,95.76 L356.29,95.91 L356.55,96.62 L356.81,96.83 L357.09,97.34 L357.37,97.72 L357.66,98.64 L357.94,98.95 L358.23,99.29 L358.51,100.07 L358.79,100.46 L359.06,101.12 L359.32,101.45 L359.57,102.09 L359.8,102.72 L360.02,103.11 L360.23,103.31 L360.41,103.62 L360.57,104.16 L360.7,104.25" fill="none" stroke="#ea4046" stroke-width="1.3" stroke-linejoin="round" stroke-linecap="round" />
<path d="M105,119.65 L105.27,119.77 L105.57,119.57 L105.9,119.68 L106.27,119.77 L106.66,119.59 L107.08,119.67 L107.53,119.66 L108,119.71 L108.49,119.34 L109.01,119.39 L109.54,119.75 L110.08,119.63 L110.65,119.4 L111.22,119.6 L111.81,119.34 L112.4,119.42 L113.01,119.44 L113.62,119.34 L114.23,119.29 L114.85,119.44 L115.47,119.49 L116.08,119.34 L116.7,119.48 L117.31,119.62 L117.91,119.2 L118.51,119.29 L119.09,119.2 L119.66,119.46 L120.22,119.34 L120.77,119.34 L121.3,119.26 L121.81,119.49 L122.3,119.48 L122.76,119.34 L123.21,119.51 L123.62,119.25 L124.01,119.31 L124.37,119.58 L124.7,119.27 L125,119.24 L126.57,119.34 L127.12,119.87 L127.13,120.2 L127.06,120.09 L127.4,120.39 L127.8,120.35 L128.23,120.25 L128.68,120.12 L129.16,120.07 L129.67,119.84 L130.21,120.07 L130.77,119.68 L131.37,119.79 L132,119.86 L132.43,119.92 L132.89,119.9 L133.38,120 L133.89,120.27 L134.42,120.04 L134.95,120.17 L135.49,120.34 L136.03,120.67 L136.57,120.67 L137.1,120.8 L137.61,120.82 L138.1,121 L138.57,121.4 L139,121.38 L139.52,121.7 L140.01,121.82 L140.48,122.08 L140.93,122.27 L141.36,122.83 L141.77,122.97 L142.18,123.19 L142.57,123.37 L142.95,123.95 L143.33,124.17 L143.7,124.34 L144.03,124.73 L144.35,125.47 L144.66,125.64 L144.96,126.15 L145.24,126.49 L145.52,127.32 L145.8,127.53 L146.08,128.14 L146.35,128.66 L146.63,129 L146.91,129.31 L147.2,129.59 L147.63,130.22 L148.05,130.42 L148.46,130.92 L148.87,131.37 L149.3,131.6 L149.74,131.68 L150.21,131.77 L150.7,131.65 L151.18,131.92 L151.69,131.85 L152.22,131.42 L152.77,131.07 L153.33,131.03 L153.88,130.75 L154.41,130.72 L154.92,130.51 L155.4,130.27 L155.95,130.26 L156.43,130.21 L156.89,130.3 L157.34,130.35 L157.8,130.48 L158.32,130.49 L158.9,131.03 L159.24,130.94 L159.58,131.36 L159.93,131.89 L160.29,132.11 L160.65,132.85 L161.03,133.21 L161.42,133.68 L161.83,134 L162.26,134.51 L162.71,134.88 L163.18,134.84 L163.68,135.24 L164.2,135.21 L164.5,134.89 L164.82,134.72 L165.16,134.6 L165.51,134.25 L165.88,133.94 L166.26,133.49 L166.65,133.12 L167.04,132.64 L167.44,132.08 L167.85,131.92 L168.25,131.4 L168.66,130.64 L169.07,130.5 L169.47,130.12 L169.87,129.4 L170.26,129.17 L170.64,128.42 L171.01,128.19 L171.37,127.88 L171.71,127.35 L172.04,126.98 L172.35,126.64 L172.63,126.59 L172.9,126.31 L173.66,126.13 L174.24,126.33 L174.7,126.55 L175.09,127.14 L175.46,127.46 L175.88,128.05 L176.4,128.1 L176.75,127.76 L177.13,127.48 L177.52,127.35 L177.92,126.9 L178.33,126.65 L178.74,126.19 L179.16,125.62 L179.57,125.18 L179.97,124.84 L180.37,124.48 L180.74,124.12 L181.1,123.92 L181.66,123.56 L182.18,123.5 L182.67,123.28 L183.14,123.07 L183.63,123.29 L184.14,123.22 L184.7,123.33 L185.12,123.56 L185.55,123.87 L186,123.89 L186.46,124.14 L186.93,124.52 L187.4,124.9 L187.88,125.16 L188.36,125.5 L188.83,125.32 L189.3,125.71 L189.82,125.82 L190.36,126.01 L190.9,126.17 L191.45,126.46 L191.99,126.67 L192.52,126.72 L193.03,126.51 L193.53,126.67 L194,126.74 L194.43,126.37 L194.81,126.04 L195.17,125.72 L195.51,125.43 L195.85,124.86 L196.2,124.37 L196.58,123.88 L197.01,123.55 L197.5,123.48 L197.89,123.01 L198.28,122.93 L198.67,122.72 L199.08,122.79 L199.5,122.63 L199.94,122.14 L200.42,122.03 L200.92,121.95 L201.47,121.78 L202.06,121.81 L202.7,121.9 L203.4,121.56 L203.79,121.63 L204.18,121.51 L204.59,121.65 L205,121.38 L205.43,121.47 L205.87,121.2 L206.32,121.29 L206.78,121.12 L207.25,121.31 L207.73,121.34 L208.22,121.13 L208.72,121.24 L209.24,121.31 L209.76,121.14 L210.3,121.39 L210.84,120.99 L211.4,121.1 L211.97,121.35 L212.56,121.33 L213.15,121.09 L213.75,120.92 L214.37,120.96 L215,120.96 L215.43,120.91 L215.88,120.92 L216.35,120.85 L216.83,121.05 L217.33,120.65 L217.85,120.97 L218.38,120.72 L218.92,120.95 L219.48,120.87 L220.04,120.84 L220.61,120.63 L221.18,120.73 L221.76,120.37 L222.34,120.42 L222.93,120.29 L223.51,120.21 L224.09,120.55 L224.67,120.27 L225.24,120.16 L225.81,120.42 L226.37,120.34 L226.93,120.22 L227.47,120.04 L228,119.93 L228.51,119.9 L229.01,120.09 L229.5,120.19 L229.96,120.05 L230.41,119.86 L230.84,119.8 L231.24,120.08 L231.62,120.03 L231.97,119.9 L232.3,119.94 L232.6,119.7 L233.93,119.84 L234.28,120.45 L234.2,120.34 L234.23,120.96 L234.9,120.85 L235.25,121.12 L235.65,120.88 L236.1,120.85 L236.58,121.1 L237.1,121.2 L237.64,121 L238.21,121.15 L238.79,121.02 L239.38,121.08 L239.98,120.92 L240.58,121.03 L241.17,120.92 L241.75,120.78 L242.32,120.76 L242.86,120.94 L243.37,120.59 L243.86,120.78 L244.3,120.63 L244.97,120.99 L245.59,120.94 L246.17,121.15 L246.72,121.06 L247.24,121.2 L247.74,121.36 L248.22,121.48 L248.69,121.4 L249.16,121.38 L249.63,121.61 L250.1,121.43 L250.65,121.52 L251.13,121.21 L251.58,121.22 L252.02,120.96 L252.46,120.57 L252.94,120.63 L253.47,120.29 L254.09,120.36 L254.8,120.02 L255.2,120.1 L255.64,120.07 L256.11,120.25 L256.6,120.15 L257.12,120.32 L257.65,120.35 L258.2,120.32 L258.76,120.75 L259.32,120.56 L259.88,120.91 L260.45,120.88 L261,120.89 L261.55,120.95 L262.08,120.96 L262.6,120.97 L263.09,121.09 L263.56,121.39 L264,121.05 L264.6,121.17 L265.15,121.1 L265.66,120.95 L266.13,120.7 L266.58,120.89 L267.02,120.65 L267.46,120.54 L267.9,120.32 L268.37,120.37 L268.87,120.06 L269.41,120 L270,119.68 L270.45,119.68 L270.94,119.69 L271.44,119.74 L271.97,119.58 L272.52,119.51 L273.08,119.27 L273.64,119.31 L274.21,119.24 L274.79,119.15 L275.35,118.79 L275.92,118.98 L276.46,119 L277,118.87 L277.51,118.76 L278,118.43 L278.47,118.55 L278.9,118.4 L279.58,118.68 L280.22,118.66 L280.82,118.84 L281.39,118.53 L281.91,118.8 L282.41,119.09 L282.87,119.15 L283.3,118.95 L283.71,119.21 L284.1,119.62 L284.66,119.42 L285.1,119.44 L285.46,119.22 L285.78,119.77 L286.08,120.45 L286.4,121.57 L286.46,121.73 L286.51,122.17 L286.56,122.67 L286.62,123.19 L286.67,123.44 L286.72,123.85 L286.77,124.22 L286.82,124.8 L286.87,125.33 L286.92,126.09 L286.97,126.48 L287.02,127.2 L287.07,127.53 L287.11,128.08 L287.16,128.73 L287.21,129.34 L287.25,130.31 L287.3,130.72 L287.35,131.28 L287.39,131.78 L287.44,132.48 L287.49,133.29 L287.53,133.89 L287.58,134.43 L287.63,134.9 L287.67,135.69 L287.72,136.03 L287.77,136.77 L287.81,136.93 L287.86,137.83 L287.91,138.12 L287.96,138.71 L288,139.17 L288.05,139.18 L288.1,139.5 L288.15,139.92 L288.2,140.16 L288.67,141.74 L289.14,141.56 L289.62,141.02 L290.1,141.2 L290.32,141.36 L290.54,142.18 L290.76,142.83 L290.98,143.85 L291.2,144.84 L291.42,145.11 L291.65,145.78 L291.87,146.03 L292.1,145.64 L292.17,145.18 L292.24,145.12 L292.31,144.64 L292.38,144.34 L292.45,143.69 L292.52,143.52 L292.6,142.95 L292.67,142.29 L292.74,141.7 L292.81,141.04 L292.89,140.75 L292.96,139.93 L293.03,139.21 L293.11,138.87 L293.18,137.86 L293.25,137.29 L293.33,136.49 L293.4,135.91 L293.47,135.39 L293.54,134.67 L293.61,134.37 L293.68,133.51 L293.75,133.24 L293.82,132.6 L293.88,132.24 L293.95,131.87 L294.01,131.54 L294.08,131.23 L294.14,130.88 L294.2,130.43 L294.37,130.19 L294.53,130.24 L294.68,130.72 L294.82,131.04 L294.96,131.78 L295.1,132.18 L295.24,133.43 L295.38,134.28 L295.54,135.15 L295.7,135.74 L295.78,136.14 L295.86,136.71 L295.95,137.33 L296.03,137.58 L296.12,138.44 L296.2,139.24 L296.29,139.94 L296.38,140.42 L296.47,140.9 L296.56,141.92 L296.65,142.47 L296.74,143.14 L296.84,143.6 L296.93,144.37 L297.02,144.84 L297.12,145.04 L297.21,145.72 L297.31,146.14 L297.41,146.1 L297.5,146.29 L297.6,146.2 L297.68,146.04 L297.77,146.27 L297.85,145.94 L297.93,145.4 L298.01,145.39 L298.09,144.82 L298.17,144.4 L298.25,143.72 L298.33,143.16 L298.41,142.5 L298.5,141.97 L298.58,141.49 L298.67,140.57 L298.75,139.88 L298.84,139.29 L298.94,138.66 L299.03,138.27 L299.13,137.66 L299.23,136.98 L299.34,136.16 L299.45,135.5 L299.56,135.39 L299.68,134.76 L299.8,134.51 L300.01,133.79 L300.22,132.85 L300.45,132.49 L300.69,131.62 L300.93,131.03 L301.19,130.66 L301.44,130.19 L301.71,129.56 L301.97,129.3 L302.24,128.75 L302.52,128.19 L302.79,127.86 L303.06,128.01 L303.33,127.75 L303.6,127.74 L303.89,127.58 L304.2,127.83 L304.53,128.12 L304.86,128.74 L305.19,128.9 L305.52,129.38 L305.86,129.99 L306.18,130.67 L306.5,131.43 L306.8,131.84 L307.08,132.38 L307.35,132.58 L307.59,133.24 L307.8,133.43 L308.43,132.78 L308.74,131.67 L309.1,131.97 L309.16,131.98 L309.22,132.67 L309.28,133.02 L309.33,133.2 L309.39,133.95 L309.45,134.56 L309.5,135.27 L309.56,135.94 L309.62,136.39 L309.68,137.19 L309.74,138.1 L309.8,138.73 L309.86,139.26 L309.93,140.13 L309.99,140.51 L310.06,141.29 L310.13,142 L310.2,142.37 L310.28,142.93 L310.36,143.46 L310.44,143.57 L310.52,144.22 L310.61,144.38 L310.7,144.23 L310.8,144.43 L310.88,144.35 L310.97,143.97 L311.06,143.65 L311.15,143.65 L311.24,143.26 L311.34,142.7 L311.44,142.44 L311.55,141.63 L311.66,141.17 L311.76,140.39 L311.87,140.06 L311.98,139.24 L312.1,138.73 L312.21,137.75 L312.32,137.22 L312.44,136.45 L312.55,135.87 L312.67,135.1 L312.78,134.26 L312.89,133.97 L313,133.28 L313.11,132.7 L313.22,132.11 L313.33,131.46 L313.43,130.86 L313.54,130.65 L313.63,129.88 L313.73,129.75 L313.82,129.5 L313.91,129.39 L314,129.29 L314.13,128.85 L314.26,129.33 L314.37,129.29 L314.49,129.83 L314.59,130.15 L314.69,130.99 L314.79,131.85 L314.89,132.37 L314.98,133.2 L315.07,133.79 L315.16,134.89 L315.26,135.54 L315.35,136.27 L315.45,136.9 L315.55,137.55 L315.65,138.22 L315.76,138.52 L315.88,138.51 L316,138.6 L316.14,138.63 L316.28,138.39 L316.43,138.22 L316.58,137.91 L316.74,137.54 L316.9,136.95 L317.06,136.11 L317.23,135.38 L317.39,134.95 L317.56,133.96 L317.72,133.33 L317.89,132.74 L318.05,132.04 L318.21,131.45 L318.36,130.8 L318.52,130.43 L318.66,130.04 L318.8,129.88 L319.27,129.58 L319.7,129.94 L320.1,130.27 L320.5,131.21 L320.9,131.24 L321.2,130.97 L321.5,130.51 L321.8,130.06 L322.09,129.27 L322.38,128.63 L322.65,128.2 L322.9,127.79 L323.4,127.81 L323.83,128.36 L324.3,128.51 L324.56,127.7 L324.83,126.74 L325.1,125.69 L325.39,125.12 L325.68,124.75 L326,125.5 L326.06,125.77 L326.12,125.76 L326.18,126.35 L326.25,126.6 L326.31,127.28 L326.38,127.7 L326.44,128.1 L326.51,128.62 L326.58,129.25 L326.65,129.86 L326.72,130.39 L326.79,131.13 L326.86,131.54 L326.93,132.41 L327,133.06 L327.07,133.59 L327.14,134.34 L327.21,135.11 L327.28,135.95 L327.35,136.54 L327.42,136.97 L327.49,137.83 L327.56,138.08 L327.63,138.94 L327.7,139.26 L327.76,139.69 L327.83,140.44 L327.89,140.68 L327.96,141.06 L328.02,141.71 L328.08,141.73 L328.14,142.07 L328.2,142.4 L328.32,142.47 L328.44,142.23 L328.56,141.97 L328.66,141.42 L328.77,140.95 L328.87,140.01 L328.97,139.32 L329.07,138.39 L329.17,137.44 L329.27,136.79 L329.37,135.89 L329.48,135.56 L329.58,134.82 L329.69,134.53 L329.8,134.76 L329.89,134.75 L329.97,135.04 L330.06,135.47 L330.15,135.88 L330.24,136.31 L330.33,136.66 L330.42,137.64 L330.51,138.26 L330.6,138.77 L330.69,139.52 L330.79,140.01 L330.88,141.08 L330.97,141.73 L331.06,142.15 L331.15,142.87 L331.24,143.38 L331.33,143.75 L331.42,144.4 L331.51,144.53 L331.6,144.85 L332.04,145.14 L332.48,143.81 L332.9,142.54 L333.3,143.8 L333.34,143.92 L333.38,144.17 L333.42,144.64 L333.45,144.69 L333.49,145.37 L333.52,145.77 L333.56,146.46 L333.59,146.75 L333.63,147.25 L333.66,148.11 L333.69,148.64 L333.73,148.99 L333.76,149.57 L333.79,150.2 L333.82,151.19 L333.86,151.6 L333.89,152.16 L333.92,153.07 L333.95,153.74 L333.98,154.53 L334.02,154.96 L334.05,155.53 L334.08,156.2 L334.12,157.03 L334.15,157.72 L334.19,158.1 L334.22,159.02 L334.26,159.46 L334.29,160.05 L334.33,160.59 L334.37,161.15 L334.4,161.25 L334.44,161.77 L334.48,162.4 L334.52,162.74 L334.57,162.93 L334.61,163.3 L334.65,163.54 L334.7,163.49 L334.8,163.83 L334.9,163.46 L335,163.61 L335.11,162.89 L335.22,162.74 L335.34,161.96 L335.46,161.32 L335.57,160.46 L335.7,159.72 L335.82,158.72 L335.94,158.17 L336.06,157.38 L336.19,156.36 L336.31,155.82 L336.43,155 L336.55,154.73 L336.67,154.15 L336.79,153.91 L336.9,153.83 L336.99,154.29 L337.08,154.24 L337.16,154.77 L337.25,155.27 L337.34,155.74 L337.42,156.39 L337.5,157.01 L337.59,157.37 L337.67,158.19 L337.76,159.17 L337.84,159.86 L337.92,160.67 L338.01,161.51 L338.09,162.06 L338.18,162.96 L338.27,163.55 L338.35,164.13 L338.44,164.9 L338.53,165.38 L338.62,165.4 L338.71,165.7 L338.81,166.23 L338.9,166.28 L339,165.91 L339.07,166.16 L339.13,165.71 L339.2,165.48 L339.27,165.25 L339.34,165.06 L339.41,164.69 L339.48,164.41 L339.56,164.05 L339.63,163.58 L339.7,163.06 L339.78,162.37 L339.85,162.18 L339.93,161.57 L340,160.92 L340.08,160.42 L340.15,159.71 L340.23,159.14 L340.31,158.35 L340.38,158.02 L340.46,156.97 L340.53,156.7 L340.61,155.79 L340.68,155.4 L340.76,154.71 L340.83,153.9 L340.91,153.26 L340.98,152.6 L341.05,151.88 L341.12,151.48 L341.2,150.65 L341.27,150.08 L341.33,149.75 L341.4,149.37 L341.47,148.67 L341.54,148.01 L341.6,147.6 L341.7,147.26 L341.8,146.31 L341.89,145.61 L341.99,145.33 L342.09,144.64 L342.18,143.82 L342.27,143.23 L342.36,142.71 L342.45,142.01 L342.54,141.28 L342.63,140.86 L342.72,140.4 L342.8,139.69 L342.89,139.16 L342.97,138.6 L343.05,138.46 L343.14,137.8 L343.22,137.38 L343.3,136.92 L343.37,136.56 L343.45,136.29 L343.53,136.25 L343.6,135.88 L343.83,135.72 L344.04,136.06 L344.24,137.05 L344.43,138.28 L344.62,138.88 L344.81,139.58 L345,139.62 L345.08,139.3 L345.15,138.82 L345.23,138.4 L345.3,138.37 L345.37,137.54 L345.44,136.97 L345.52,136.5 L345.59,135.83 L345.66,135.34 L345.74,134.6 L345.81,133.68 L345.89,133.03 L345.97,132.51 L346.05,132.14 L346.13,131.46 L346.22,131.33 L346.31,130.72 L346.4,130.69 L346.86,130.2 L347.36,130.57 L347.88,131.1 L348.4,131.3 L348.6,130.72 L348.8,130.34 L349,130.13 L349.2,129.6 L349.4,128.95 L349.6,128.36 L349.82,127.66 L350.03,127.19 L350.26,126.69 L350.5,126.51 L350.91,125.99 L351.33,125.58 L351.77,125.01 L352.24,124.91 L352.75,124.8 L353.3,124.96 L353.71,125.29 L354.15,125.19 L354.62,125.72 L355.1,125.79 L355.6,126.22 L356.08,126.3 L356.55,126.98 L356.99,127.47 L357.4,128 L357.69,128.34 L357.97,128.53 L358.26,128.98 L358.53,129.61 L358.8,129.99 L359.06,130.65 L359.3,131.42 L359.52,131.76 L359.73,132.29 L359.91,132.56 L360.07,133.2 L360.2,133.29" fill="none" stroke="#42a0dc" stroke-width="1.3" stroke-linejoin="round" stroke-linecap="round" />
<rect x="104.9" y="18.5" width="255.7" height="151.0" fill="none" stroke="#202020" stroke-width="1.35"/>
<line x1="106" y1="169.4" x2="106" y2="173.3" stroke="#202020" stroke-width="1.1"/>
<line x1="145" y1="169.4" x2="145" y2="173.3" stroke="#202020" stroke-width="1.1"/>
<line x1="184" y1="169.4" x2="184" y2="173.3" stroke="#202020" stroke-width="1.1"/>
<line x1="223" y1="169.4" x2="223" y2="173.3" stroke="#202020" stroke-width="1.1"/>
<line x1="262" y1="169.4" x2="262" y2="173.3" stroke="#202020" stroke-width="1.1"/>
<line x1="301" y1="169.4" x2="301" y2="173.3" stroke="#202020" stroke-width="1.1"/>
<line x1="340" y1="169.4" x2="340" y2="173.3" stroke="#202020" stroke-width="1.1"/>
<text x="97.92" y="185.3" font-size="13.5" fill="#111" textLength="31.47" lengthAdjust="spacingAndGlyphs" stroke="#111" stroke-width="0.2">4000</text>
<text x="136.74" y="185.3" font-size="13.5" fill="#111" textLength="31.25" lengthAdjust="spacingAndGlyphs" stroke="#111" stroke-width="0.2">3500</text>
<text x="175.63" y="185.3" font-size="13.5" fill="#111" textLength="31.46" lengthAdjust="spacingAndGlyphs" stroke="#111" stroke-width="0.2">3000</text>
<text x="214.69" y="185.3" font-size="13.5" fill="#111" textLength="31.71" lengthAdjust="spacingAndGlyphs" stroke="#111" stroke-width="0.2">2500</text>
<text x="253.39" y="185.3" font-size="13.5" fill="#111" textLength="31.5" lengthAdjust="spacingAndGlyphs" stroke="#111" stroke-width="0.2">2000</text>
<text x="292.75" y="185.3" font-size="13.5" fill="#111" textLength="31.03" lengthAdjust="spacingAndGlyphs" stroke="#111" stroke-width="0.2">1500</text>
<text x="331.75" y="185.3" font-size="13.5" fill="#111" textLength="31.24" lengthAdjust="spacingAndGlyphs" stroke="#111" stroke-width="0.2">1000</text>
<text x="188.73" y="201.4" font-size="14" fill="#111" textLength="112.08" lengthAdjust="spacingAndGlyphs" stroke="#111" stroke-width="0.2">Wavenumber (cm</text>
<text x="301.07" y="197" font-size="8" fill="#111" textLength="6.45" lengthAdjust="spacingAndGlyphs" stroke="#111" stroke-width="0.2">-1</text>
<text x="308.63" y="201.4" font-size="14" fill="#111" textLength="4.52" lengthAdjust="spacingAndGlyphs" stroke="#111" stroke-width="0.2">)</text>
<text transform="translate(99.5,130.7) rotate(-90)" x="-1.29" y="0" font-size="14.2" fill="#111" stroke="#111" stroke-width="0.2" textLength="86.9" lengthAdjust="spacingAndGlyphs">Intensity (a.u)</text>
<text x="87.37" y="13.6" font-size="19" fill="#111" textLength="10.15" lengthAdjust="spacingAndGlyphs" stroke="#111" stroke-width="0.2">a</text>
<line x1="109.2" y1="142.2" x2="119" y2="142.2" stroke="#3b1b1c" stroke-width="1.5"/>
<text x="123.39" y="145.3" font-size="12" fill="#111" textLength="31.12" lengthAdjust="spacingAndGlyphs" stroke="#111" stroke-width="0.2">Chitin</text>
<line x1="109.2" y1="156.8" x2="119" y2="156.8" stroke="#f9a443" stroke-width="1.5"/>
<text x="124" y="159.8" font-size="12" fill="#111" textLength="45.76" lengthAdjust="spacingAndGlyphs" stroke="#111" stroke-width="0.2">AcCNCh</text>
<line x1="176.4" y1="142.2" x2="185.4" y2="142.2" stroke="#ea4046" stroke-width="1.5"/>
<text x="188.74" y="145.3" font-size="12" fill="#111" textLength="89.47" lengthAdjust="spacingAndGlyphs" stroke="#111" stroke-width="0.2">LFACA-EnCNCh</text>
<line x1="176.4" y1="156.8" x2="185.4" y2="156.8" stroke="#42a0dc" stroke-width="1.5"/>
<text x="188.73" y="159.8" font-size="12" fill="#111" textLength="59.06" lengthAdjust="spacingAndGlyphs" stroke="#111" stroke-width="0.2">BtEnCNCh</text>
<defs><linearGradient id="zg" x1="0" y1="0" x2="1" y2="0">
<stop offset="0" stop-color="#edf2f6"/><stop offset="0.22" stop-color="#f5f8fa"/>
<stop offset="0.45" stop-color="#e9f0f5"/><stop offset="0.68" stop-color="#f7f9fb"/>
<stop offset="0.88" stop-color="#ebf1f6"/><stop offset="1" stop-color="#e8eff5"/></linearGradient></defs>
<polygon points="361.1,95.7 434.3,19.5 434.3,169.5" fill="url(#zg)"/>
<line x1="361.1" y1="95.7" x2="434.3" y2="19.5" stroke="#202020" stroke-width="1.1"/>
<line x1="361.1" y1="95.7" x2="434.3" y2="169.5" stroke="#202020" stroke-width="1.1"/>
<rect x="440.1" y="20" width="8.5" height="149" fill="#d6ebf8" />
<rect x="456.7" y="20" width="2.9" height="149" fill="#d6ebf8" />
<rect x="497" y="20" width="7.4" height="149" fill="#d6ebf8" />
<path d="M434.5,27.44 L434.79,27.46 L435.15,27.27 L435.57,27.33 L436.05,27.11 L436.57,26.94 L437.12,26.98 L437.7,26.82 L438.3,26.71 L438.9,26.54 L439.5,26.31 L439.98,26.3 L440.5,26.19 L441.04,26.29 L441.61,25.99 L442.2,26.17 L442.79,25.92 L443.37,25.91 L443.95,25.96 L444.51,25.93 L445.04,25.85 L445.54,25.84 L446,25.83 L446.4,25.83 L447.26,25.69 L447.91,25.79 L448.42,25.8 L448.86,26.14 L449.3,26.34 L449.65,26.55 L449.96,26.74 L450.23,27.18 L450.48,27.34 L450.73,28.26 L451,29.32 L451.07,29.44 L451.14,29.99 L451.2,30.19 L451.27,30.75 L451.34,31.05 L451.4,31.58 L451.47,32.13 L451.53,32.62 L451.6,33.28 L451.67,33.78 L451.73,34.15 L451.8,34.88 L451.86,35.32 L451.93,35.92 L452,36.56 L452.07,37.12 L452.13,37.77 L452.2,38.46 L452.27,38.96 L452.34,39.44 L452.41,40.06 L452.48,40.38 L452.55,41.04 L452.63,41.59 L452.7,42.03 L452.8,42.52 L452.91,43.16 L453.02,43.72 L453.13,44.36 L453.25,45.15 L453.36,45.5 L453.48,46.32 L453.6,46.72 L453.71,47.39 L453.83,47.93 L453.94,48.3 L454.06,48.93 L454.17,49.25 L454.28,49.95 L454.39,50.34 L454.5,50.58 L454.6,50.93 L454.7,51.17 L455.22,51.12 L455.69,50.04 L456.2,49.86 L456.35,50.17 L456.5,50.66 L456.66,51.32 L456.82,52.03 L456.98,52.72 L457.15,53.29 L457.32,54.11 L457.48,54.83 L457.64,55.42 L457.8,55.51 L457.95,55.87 L458.1,55.69 L458.17,55.49 L458.24,55.42 L458.31,54.95 L458.38,54.58 L458.45,54.27 L458.51,53.85 L458.58,53.21 L458.64,52.78 L458.71,52.14 L458.77,51.7 L458.83,50.88 L458.89,50.5 L458.96,49.76 L459.02,49.04 L459.08,48.44 L459.14,47.94 L459.2,47.27 L459.27,46.56 L459.33,46 L459.4,45.44 L459.46,45.08 L459.53,44.67 L459.6,44.08 L459.72,43.61 L459.85,42.84 L459.98,42.23 L460.11,41.39 L460.23,40.73 L460.37,40.24 L460.5,39.79 L460.63,39.15 L460.76,38.71 L460.9,38.41 L461.03,37.98 L461.17,37.86 L461.3,37.86 L461.44,38.04 L461.57,38.12 L461.71,38.46 L461.85,38.75 L461.99,39.25 L462.13,39.75 L462.27,40.17 L462.41,40.94 L462.55,41.53 L462.69,42.27 L462.83,42.87 L462.96,43.43 L463.1,44.07 L463.19,44.65 L463.27,45.14 L463.36,45.66 L463.45,45.99 L463.53,46.47 L463.62,47.05 L463.7,47.84 L463.79,48.3 L463.87,48.72 L463.96,49.5 L464.04,50.03 L464.12,50.65 L464.21,51.03 L464.29,51.79 L464.38,52.17 L464.46,52.77 L464.55,53.08 L464.63,53.77 L464.72,54.23 L464.8,54.5 L464.96,55.34 L465.12,56.02 L465.27,57.05 L465.42,57.86 L465.57,58.63 L465.73,59.23 L465.9,59.53 L466.08,59.96 L466.28,59.95 L466.5,59.58 L466.59,59.38 L466.69,59.17 L466.8,58.87 L466.9,58.64 L467.01,58.23 L467.13,57.85 L467.24,57.31 L467.36,56.8 L467.48,56.26 L467.6,55.54 L467.73,55.07 L467.85,54.48 L467.98,53.76 L468.1,53.13 L468.23,52.72 L468.35,51.93 L468.47,51.2 L468.6,50.6 L468.72,50.14 L468.84,49.67 L468.96,48.89 L469.07,48.51 L469.18,47.99 L469.29,47.5 L469.4,47.07 L469.58,46.34 L469.75,45.72 L469.92,45.1 L470.08,44.72 L470.24,44.11 L470.4,43.74 L470.55,43.22 L470.7,42.65 L470.86,42.37 L471.02,41.89 L471.18,41.47 L471.35,41.05 L471.52,40.55 L471.7,40.35 L471.98,39.67 L472.29,39.04 L472.62,38.61 L472.96,38.28 L473.29,37.87 L473.62,37.31 L473.92,36.88 L474.2,36.65 L474.42,36.45 L474.6,35.97" fill="none" stroke="#3b1b1c" stroke-width="1.3" stroke-linejoin="round" stroke-linecap="round" />
<path d="M482.1,27.5 L482.16,27.8 L482.24,28.23 L482.33,28.49 L482.43,28.94 L482.54,29.55 L482.66,30.01 L482.78,30.53 L482.91,31.12 L483.04,31.68 L483.17,32.21 L483.3,32.93 L483.43,33.57 L483.56,34.06 L483.68,34.56 L483.8,34.95 L483.93,35.54 L484.06,36.04 L484.18,36.84 L484.3,37.34 L484.43,37.97 L484.55,38.79 L484.68,39.18 L484.8,39.91 L484.93,40.28 L485.07,40.73 L485.21,41.01 L485.35,41.1 L485.5,41.36 L485.69,41.15 L485.89,40.88 L486.1,40.3 L486.32,39.66 L486.54,39.05 L486.76,38.22 L486.98,37.63 L487.2,37.14 L487.41,36.68 L487.61,36.18 L487.8,35.98 L487.96,36.12 L488.11,36.19 L488.25,36.47 L488.38,36.9 L488.51,37.29 L488.64,37.57 L488.77,38.24 L488.9,38.82 L489.03,39.49 L489.18,40.14 L489.33,41.01 L489.5,41.78 L489.57,42.31 L489.64,42.69 L489.71,43.11 L489.79,43.49 L489.86,44.13 L489.94,44.45 L490.02,44.92 L490.1,45.5 L490.19,46.21 L490.27,46.55 L490.35,47.31 L490.44,47.94 L490.52,48.5 L490.61,48.98 L490.69,49.57 L490.78,50.29 L490.87,50.83 L490.95,51.44 L491.04,51.83 L491.12,52.52 L491.21,53.11 L491.29,53.49 L491.38,54 L491.46,54.69 L491.54,55.08 L491.62,55.48 L491.7,55.93 L491.78,56.25 L491.85,56.61 L491.93,56.89 L492,57.27 L492.5,58.75 L492.94,59.6 L493.38,59.47 L493.9,58.63 L494.03,58.19 L494.16,57.95 L494.3,57.31 L494.44,56.79 L494.58,56.06 L494.72,55.47 L494.87,54.6 L495.02,53.91 L495.17,53.15 L495.32,52.49 L495.48,51.94 L495.63,51.2 L495.79,50.7 L495.95,50.21 L496.11,49.79 L496.27,49.41 L496.44,49.31 L496.6,49.39 L496.7,49.63 L496.81,49.76 L496.91,50.18 L497.02,50.26 L497.12,50.59 L497.23,51.14 L497.34,51.56 L497.45,51.87 L497.56,52.47 L497.67,53.04 L497.79,53.72 L497.9,54.3 L498.01,54.94 L498.12,55.46 L498.24,56.21 L498.35,56.71 L498.46,57.3 L498.58,57.9 L498.69,58.75 L498.81,59.32 L498.92,59.93 L499.03,60.64 L499.14,61.11 L499.25,61.57 L499.36,62.22 L499.47,62.78 L499.58,63.01 L499.69,63.66 L499.8,63.87 L500.04,64.57 L500.27,65.48 L500.51,66.33 L500.74,66.99 L500.97,67.62 L501.2,68.4 L501.43,68.76 L501.66,69.4 L501.89,69.67 L502.12,69.99 L502.35,70.06 L502.57,69.95 L502.8,69.71 L502.91,69.73 L503.01,69.39 L503.12,69.06 L503.23,68.83 L503.34,68.51 L503.44,67.89 L503.55,67.55 L503.66,66.98 L503.77,66.65 L503.88,65.89 L503.99,65.56 L504.1,64.9 L504.21,64.29 L504.31,63.69 L504.42,62.99 L504.53,62.42 L504.63,61.72 L504.73,61.15 L504.84,60.61 L504.94,60.02 L505.04,59.35 L505.14,58.86 L505.24,58.37 L505.33,57.84 L505.43,57.12 L505.52,56.81 L505.61,56.28 L505.7,56.1 L505.88,55.3 L506.05,54.63 L506.21,54.13 L506.36,53.62 L506.51,53.09 L506.65,52.91 L506.79,52.26 L506.93,51.87 L507.07,51.55 L507.22,51.06 L507.37,50.65 L507.53,50.17 L507.7,49.47 L507.81,49.21 L507.92,48.53 L508.03,48.18 L508.14,47.62 L508.26,46.88 L508.38,46.32 L508.5,45.45 L508.63,45.05 L508.75,44.23 L508.88,43.53 L509,43.05 L509.12,42.25 L509.25,41.53 L509.37,40.93 L509.5,40.61 L509.62,39.91 L509.74,39.6 L509.86,39.03 L509.97,38.92 L510.08,38.71 L510.19,38.35 L510.3,38.39 L510.42,38.46 L510.54,38.49 L510.65,38.94 L510.76,39.61 L510.86,40.23 L510.96,40.82 L511.06,41.59 L511.16,42.25 L511.26,43.32 L511.35,44.18 L511.46,44.86 L511.56,45.49 L511.67,46.12 L511.78,46.82 L511.9,47.27 L512.02,47.52 L512.16,47.7 L512.3,47.36 L512.38,47.21 L512.47,47.05 L512.56,46.86 L512.65,46.48 L512.74,46.19 L512.84,45.79 L512.94,45.55 L513.04,44.99 L513.14,44.39 L513.25,43.96 L513.36,43.29 L513.46,42.96 L513.57,42.09 L513.68,41.52 L513.79,40.99 L513.9,40.44 L514.01,39.72 L514.12,38.91 L514.23,38.4 L514.34,37.79 L514.45,37.21 L514.56,36.49 L514.66,35.75 L514.77,35.32 L514.87,34.7 L514.97,34.2 L515.07,33.46 L515.16,33.15 L515.26,32.57 L515.35,32.06 L515.44,31.68 L515.52,31.28 L515.6,31.22 L516.07,29.66 L516.46,29.27 L516.8,29.08 L517.14,29.15 L517.5,29.06 L517.99,28.71 L518.49,27.94 L519,27.7 L519.5,27.75 L519.75,28.1 L520,28.65 L520.25,29.37 L520.51,30.01 L520.76,30.76 L521.01,31.35 L521.25,31.74 L521.5,31.66 L521.75,31.55 L522,31.36 L522.25,30.77 L522.5,30.22 L522.74,29.62 L522.98,28.95 L523.2,28.41 L523.4,27.88 L523.62,27.17 L523.83,26.71 L524.03,26.11 L524.21,25.57 L524.37,25.17 L524.5,24.77 L524.6,24.46" fill="none" stroke="#3b1b1c" stroke-width="1.3" stroke-linejoin="round" stroke-linecap="round" />
<path d="M434.5,58.13 L434.78,57.88 L435.13,58.09 L435.54,57.84 L435.99,57.87 L436.49,57.96 L437.01,57.75 L437.57,57.76 L438.14,57.61 L438.72,57.8 L439.31,57.76 L439.89,57.48 L440.45,57.42 L441,57.49 L441.51,57.47 L442.06,57.5 L442.63,57.31 L443.21,57.33 L443.81,57.14 L444.4,57.1 L444.99,57 L445.57,57.1 L446.13,57.07 L446.67,57.06 L447.17,57.14 L447.63,56.96 L448.04,57 L448.4,57.09 L449.12,57.32 L449.52,57.18 L449.74,57.4 L449.92,58.05 L450.2,59.36 L450.27,59.55 L450.34,59.85 L450.41,60.39 L450.48,60.74 L450.55,61.15 L450.62,61.42 L450.69,61.96 L450.76,62.39 L450.83,62.97 L450.9,63.64 L450.97,64.19 L451.04,64.69 L451.11,65.1 L451.19,65.72 L451.26,66.39 L451.33,66.8 L451.4,67.39 L451.47,68.07 L451.54,68.54 L451.61,69.16 L451.68,69.71 L451.75,70.42 L451.82,70.9 L451.89,71.34 L451.96,71.87 L452.03,72.61 L452.1,72.98 L452.16,73.65 L452.23,74.05 L452.29,74.69 L452.35,75.19 L452.42,75.87 L452.48,76.3 L452.54,76.98 L452.6,77.67 L452.67,78.16 L452.73,79 L452.79,79.62 L452.85,80.23 L452.91,80.83 L452.98,81.43 L453.04,81.92 L453.1,82.58 L453.16,83.02 L453.22,83.46 L453.28,84.25 L453.34,84.76 L453.41,85.04 L453.47,85.53 L453.53,85.92 L453.59,86.46 L453.65,86.65 L453.71,87.17 L453.78,87.22 L453.84,87.57 L453.9,87.88 L454.09,88.05 L454.28,87.67 L454.46,86.98 L454.65,86.28 L454.83,85.11 L455.03,84.23 L455.23,83.57 L455.46,83.07 L455.7,83.06 L455.81,83.5 L455.92,83.81 L456.03,84.22 L456.14,84.6 L456.26,85.33 L456.38,86.16 L456.51,86.75 L456.63,87.45 L456.76,88.44 L456.89,89.07 L457.02,89.91 L457.15,90.58 L457.28,91.53 L457.42,92.17 L457.55,92.75 L457.69,93.29 L457.82,93.71 L457.96,94.1 L458.09,94.35 L458.23,94.31 L458.37,94.47 L458.5,94.28 L458.56,93.9 L458.62,93.74 L458.69,93.67 L458.75,93.29 L458.81,92.91 L458.88,92.73 L458.94,92.44 L459.01,91.84 L459.07,91.47 L459.14,90.99 L459.2,90.5 L459.27,90 L459.34,89.55 L459.4,88.98 L459.47,88.4 L459.54,87.75 L459.6,87.16 L459.67,86.53 L459.74,85.89 L459.81,85.23 L459.87,84.6 L459.94,83.73 L460.01,83.1 L460.08,82.58 L460.14,81.84 L460.21,81.11 L460.28,80.57 L460.34,79.78 L460.41,79.29 L460.48,78.52 L460.54,78.06 L460.61,77.25 L460.67,76.83 L460.74,76.05 L460.8,75.6 L460.87,74.85 L460.93,74.41 L460.99,73.85 L461.06,73.51 L461.12,72.99 L461.18,72.51 L461.24,71.96 L461.3,71.7 L461.37,71.26 L461.42,70.9 L461.48,70.8 L461.54,70.52 L461.6,70.45 L461.81,69.86 L462,69.33 L462.19,69.54 L462.38,69.56 L462.56,70.03 L462.73,70.32 L462.91,71.01 L463.08,71.85 L463.25,72.59 L463.43,73.59 L463.62,74.59 L463.8,75.66 L464,76.81 L464.06,77.14 L464.12,77.63 L464.18,77.85 L464.24,78.3 L464.3,78.78 L464.36,79.19 L464.41,79.82 L464.47,80.37 L464.53,80.86 L464.59,81.58 L464.65,82.05 L464.71,82.89 L464.77,83.57 L464.83,84.11 L464.89,84.64 L464.96,85.29 L465.02,85.93 L465.08,86.64 L465.14,87.51 L465.2,88.16 L465.26,88.86 L465.32,89.37 L465.39,90.09 L465.45,90.78 L465.51,91.41 L465.58,92.03 L465.64,92.45 L465.71,93.34 L465.77,93.79 L465.84,94.25 L465.9,94.8 L465.97,95.44 L466.03,95.97 L466.1,96.15 L466.17,96.63 L466.24,96.97 L466.31,97.5 L466.37,97.81 L466.44,98.09 L466.51,98.2 L466.58,98.46 L466.66,98.75 L466.73,98.69 L466.8,98.71 L466.88,98.72 L466.97,98.84 L467.05,98.56 L467.14,98.53 L467.23,98.29 L467.32,98.08 L467.41,97.54 L467.5,97.26 L467.59,97.06 L467.69,96.48 L467.78,95.89 L467.87,95.4 L467.97,94.89 L468.07,94.47 L468.16,93.78 L468.26,93.11 L468.36,92.54 L468.45,92.06 L468.55,91.38 L468.65,90.64 L468.75,89.9 L468.84,89.17 L468.94,88.49 L469.04,88.04 L469.13,87.28 L469.23,86.43 L469.33,85.99 L469.42,85.38 L469.51,84.58 L469.61,84.1 L469.7,83.32 L469.79,82.74 L469.88,82.19 L469.97,81.69 L470.06,81.14 L470.15,80.62 L470.23,80.14 L470.32,79.8 L470.4,79.52 L470.61,78.77 L470.81,77.96 L471,77.22 L471.18,76.57 L471.36,75.94 L471.53,75.6 L471.71,75.18 L471.88,74.63 L472.05,74.36 L472.23,74.02 L472.41,73.53 L472.6,73.09 L472.79,73 L472.99,72.56 L473.2,72.07 L473.55,71.7 L473.94,71.21 L474.36,70.75 L474.79,70.33 L475.23,69.91 L475.64,69.4 L476.03,69.34 L476.38,68.99 L476.68,68.81 L476.9,68.51" fill="none" stroke="#f9a443" stroke-width="1.3" stroke-linejoin="round" stroke-linecap="round" />
<path d="M481.5,54.68 L481.54,54.91 L481.58,55.42 L481.62,55.65 L481.67,55.94 L481.71,56.57 L481.76,56.84 L481.82,57.38 L481.87,57.87 L481.93,58.59 L481.99,59.23 L482.05,59.76 L482.12,60.26 L482.19,61.07 L482.25,61.73 L482.32,62.22 L482.39,62.86 L482.47,63.64 L482.54,64.4 L482.62,65.05 L482.7,65.7 L482.77,66.31 L482.85,66.81 L482.93,67.57 L483.02,68.13 L483.1,68.81 L483.18,69.35 L483.26,69.83 L483.35,70.58 L483.43,70.84 L483.52,71.42 L483.6,71.87 L483.69,72.49 L483.77,72.61 L483.86,73.1 L483.95,73.51 L484.03,73.67 L484.12,73.97 L484.2,73.97 L484.37,74.15 L484.56,74.11 L484.75,73.93 L484.95,73.6 L485.16,73.07 L485.37,72.79 L485.58,72.07 L485.8,71.35 L486.01,70.55 L486.23,69.67 L486.44,68.9 L486.65,68.35 L486.85,67.56 L487.05,66.76 L487.24,66.23 L487.42,65.77 L487.59,65.08 L487.75,64.89 L487.9,64.77 L488.08,64.7 L488.23,64.76 L488.37,64.75 L488.49,64.83 L488.59,65.26 L488.69,65.41 L488.78,65.92 L488.87,66.21 L488.96,66.87 L489.05,67.66 L489.14,68.38 L489.25,69.5 L489.37,70.59 L489.5,71.97 L489.53,72.26 L489.56,72.75 L489.59,73.03 L489.63,73.34 L489.66,73.85 L489.69,74.25 L489.72,74.63 L489.75,75.26 L489.78,75.69 L489.81,76.03 L489.85,76.71 L489.88,77.2 L489.91,77.66 L489.94,78.49 L489.97,78.96 L490.01,79.67 L490.04,80.11 L490.07,80.71 L490.1,81.24 L490.14,82.02 L490.17,82.6 L490.2,83.15 L490.24,84 L490.27,84.57 L490.31,85.08 L490.34,86 L490.37,86.49 L490.41,87.31 L490.44,87.81 L490.48,88.37 L490.51,89.17 L490.55,89.78 L490.59,90.55 L490.62,91.11 L490.66,91.71 L490.7,92.36 L490.73,93.01 L490.77,93.71 L490.81,94.34 L490.85,94.82 L490.89,95.33 L490.93,95.87 L490.97,96.62 L491,97.06 L491.05,97.79 L491.09,98.18 L491.13,98.85 L491.17,99.07 L491.21,99.77 L491.25,100.01 L491.3,100.49 L491.34,100.95 L491.38,101.3 L491.43,101.72 L491.47,102.08 L491.52,102.44 L491.56,102.56 L491.61,103.01 L491.66,103.18 L491.7,103.47 L491.75,103.56 L491.8,103.87 L491.85,103.82 L491.9,103.88 L491.97,104.14 L492.05,104.12 L492.13,103.91 L492.2,103.81 L492.28,103.62 L492.36,103.28 L492.45,103.06 L492.53,102.63 L492.61,102.24 L492.7,101.81 L492.79,101.1 L492.87,100.56 L492.96,100.07 L493.05,99.4 L493.14,98.76 L493.23,97.93 L493.32,97.19 L493.42,96.4 L493.51,95.71 L493.6,94.93 L493.7,94.29 L493.79,93.39 L493.89,92.74 L493.98,91.75 L494.08,91.03 L494.18,90.3 L494.27,89.49 L494.37,88.82 L494.47,88.25 L494.56,87.4 L494.66,86.66 L494.76,86.14 L494.86,85.52 L494.95,85.04 L495.05,84.3 L495.15,84.02 L495.24,83.55 L495.34,83.08 L495.43,82.79 L495.53,82.44 L495.62,82.5 L495.71,82.18 L495.81,82.16 L495.9,82.24 L495.98,82.34 L496.05,82.41 L496.13,82.5 L496.21,82.76 L496.29,82.95 L496.37,83.15 L496.45,83.6 L496.53,83.73 L496.61,84.1 L496.69,84.58 L496.77,85.01 L496.86,85.35 L496.94,86.01 L497.02,86.58 L497.1,86.98 L497.18,87.53 L497.27,88.01 L497.35,88.54 L497.43,89.2 L497.52,89.93 L497.6,90.6 L497.68,91.09 L497.76,91.73 L497.85,92.39 L497.93,93.12 L498.01,93.71 L498.09,94.46 L498.17,95.24 L498.25,95.72 L498.33,96.56 L498.41,97.12 L498.49,97.78 L498.57,98.52 L498.65,99.25 L498.73,99.85 L498.81,100.49 L498.88,101.2 L498.96,101.79 L499.04,102.51 L499.11,103.16 L499.18,103.73 L499.26,104.21 L499.33,104.61 L499.4,105.22 L499.47,105.69 L499.54,106.24 L499.61,106.57 L499.68,107.24 L499.75,107.44 L499.81,107.81 L499.87,108.34 L499.94,108.5 L500,108.66 L500.72,111.3 L501.31,112.47 L501.84,111.56 L502.4,109.16 L502.44,108.72 L502.48,108.43 L502.53,108.26 L502.57,107.83 L502.61,107.43 L502.65,107.23 L502.69,106.72 L502.74,106.4 L502.78,106.13 L502.82,105.66 L502.87,105.22 L502.91,104.63 L502.95,104.19 L502.99,103.63 L503.04,103.22 L503.08,102.76 L503.12,101.95 L503.17,101.39 L503.21,100.97 L503.25,100.45 L503.3,99.88 L503.34,99.18 L503.38,98.58 L503.43,98.06 L503.47,97.59 L503.51,96.86 L503.56,96.37 L503.6,95.67 L503.64,95.16 L503.69,94.34 L503.73,93.89 L503.77,93.16 L503.81,92.59 L503.86,91.89 L503.9,91.47 L503.94,90.8 L503.98,90.25 L504.02,89.6 L504.07,88.91 L504.11,88.51 L504.15,87.73 L504.19,87.22 L504.23,86.73 L504.27,86.29 L504.31,85.67 L504.35,85.19 L504.39,84.76 L504.43,84.24 L504.47,83.55 L504.5,83.14 L504.54,82.6 L504.58,82.38 L504.62,81.86 L504.66,81.46 L504.69,80.94 L504.73,80.65 L504.76,80.27 L504.8,80.14 L504.93,78.87 L505.05,78.12 L505.16,77.12 L505.27,76.58 L505.38,75.88 L505.48,75.39 L505.59,74.98 L505.69,74.82 L505.79,74.41 L505.89,74.01 L505.98,73.76 L506.08,73.55 L506.19,73.19 L506.29,72.9 L506.39,72.33 L506.5,71.96 L506.61,71.41 L506.72,71.04 L506.83,70.58 L506.94,69.82 L507.05,69.38 L507.16,69.05 L507.27,68.5 L507.38,67.73 L507.49,67.34 L507.61,66.87 L507.72,66.31 L507.83,65.88 L507.95,65.35 L508.06,64.82 L508.18,64.33 L508.3,63.78 L508.45,63.41 L508.6,62.55 L508.76,61.78 L508.92,61.17 L509.09,60.24 L509.25,59.66 L509.41,59.02 L509.57,58.25 L509.73,57.91 L509.88,57.57 L510.03,57.2 L510.17,57.12 L510.3,57.39 L510.36,57.53 L510.42,57.87 L510.48,58.06 L510.53,58.64 L510.58,58.97 L510.63,59.63 L510.68,60.09 L510.73,60.71 L510.77,61.38 L510.82,62.31 L510.86,62.98 L510.91,63.77 L510.95,64.4 L510.99,64.96 L511.04,65.84 L511.08,66.53 L511.13,67.12 L511.17,67.85 L511.22,68.51 L511.27,68.91 L511.32,69.29 L511.37,69.6 L511.42,70.16 L511.48,70.3 L511.54,70.31 L511.6,70.49 L511.66,70.26 L511.71,70.16 L511.77,70.01 L511.83,69.88 L511.89,69.54 L511.96,69.1 L512.02,68.68 L512.08,68.16 L512.15,67.78 L512.21,67.2 L512.28,66.69 L512.35,65.95 L512.42,65.4 L512.49,64.95 L512.56,64.23 L512.63,63.62 L512.7,62.92 L512.77,62.17 L512.84,61.42 L512.91,60.72 L512.98,60.32 L513.05,59.63 L513.12,59.04 L513.19,58.32 L513.26,57.8 L513.33,57.09 L513.4,56.82 L513.47,56.19 L513.53,55.75 L513.6,55.26 L513.73,54.63 L513.87,54.1 L514,53.49 L514.14,52.71 L514.27,52.11 L514.4,51.73 L514.54,51.08 L514.67,50.69 L514.81,50.41 L514.94,49.98 L515.07,49.44 L515.21,49.18 L515.34,48.66 L515.47,48.36 L515.6,47.99 L515.98,47.21 L516.36,46.71 L516.74,46.35 L517.12,46.15 L517.5,46.12 L517.89,46.22 L518.29,46.76 L518.7,46.97 L519.1,47.52 L519.5,48.12 L519.79,48.61 L520.07,49.2 L520.36,50.09 L520.65,50.55 L520.94,51.31 L521.22,51.34 L521.5,51.43 L521.64,51.32 L521.78,50.96 L521.93,50.37 L522.08,49.88 L522.22,49.37 L522.37,48.62 L522.51,48.18 L522.65,47.39 L522.79,46.7 L522.93,46.11 L523.05,45.58 L523.18,45.02 L523.29,44.67 L523.4,44.18 L523.84,43.29 L524.17,42.87 L524.4,42.55" fill="none" stroke="#f9a443" stroke-width="1.3" stroke-linejoin="round" stroke-linecap="round" />
<path d="M434.5,85.19 L434.73,85.43 L435.02,85.61 L435.36,86.07 L435.74,86.14 L436.16,86.8 L436.6,87.1 L437.06,87.53 L437.53,87.92 L438,88.13 L438.47,88.67 L438.92,88.95 L439.35,89.09 L439.74,89.54 L440.1,89.58 L440.74,89.81 L441.32,89.56 L441.85,89.55 L442.37,89.11 L442.87,88.91 L443.37,88.81 L443.9,88.86 L444.34,89.23 L444.79,89.41 L445.26,89.77 L445.73,90.37 L446.19,90.79 L446.63,91.11 L447.03,91.46 L447.39,91.98 L447.7,92.21 L448.29,92.49 L448.59,92.59 L448.9,93.36 L448.99,93.71 L449.08,93.96 L449.17,94.29 L449.26,94.84 L449.36,95.21 L449.45,95.63 L449.54,96.2 L449.64,96.84 L449.73,97.44 L449.83,97.77 L449.92,98.6 L450.01,99.06 L450.11,99.86 L450.2,100.52 L450.26,100.76 L450.32,101.3 L450.38,101.72 L450.43,102.07 L450.49,102.75 L450.55,103.13 L450.61,103.7 L450.66,103.95 L450.72,104.48 L450.78,105.19 L450.84,105.52 L450.9,106.06 L450.95,106.57 L451.01,107.27 L451.07,107.66 L451.13,108.17 L451.19,108.73 L451.25,109.55 L451.31,109.87 L451.37,110.5 L451.44,111.14 L451.5,111.82 L451.55,112.36 L451.59,112.88 L451.64,113.23 L451.68,113.8 L451.72,114.23 L451.77,114.83 L451.81,115.25 L451.85,116.03 L451.9,116.54 L451.94,117.16 L451.98,117.8 L452.03,118.38 L452.07,119.02 L452.12,119.53 L452.16,119.93 L452.21,120.57 L452.26,121.23 L452.3,121.65 L452.35,122.28 L452.4,122.83 L452.46,123.28 L452.51,123.87 L452.56,124.45 L452.62,125 L452.68,125.37 L452.74,125.79 L452.8,126.06 L452.86,126.68 L452.93,126.96 L453,127.26 L453.33,128.21 L453.7,128.81 L454.1,128.92 L454.51,129.08 L454.93,129.08 L455.33,129.57 L455.7,129.86 L455.88,130.39 L456.05,131.04 L456.22,131.68 L456.37,132.64 L456.53,133.49 L456.68,134.18 L456.83,134.84 L456.99,135.76 L457.15,136.26 L457.32,136.51 L457.5,136.91 L457.69,136.8 L457.9,136.54 L457.97,136.24 L458.04,135.95 L458.11,135.58 L458.19,135.28 L458.27,135.09 L458.34,134.73 L458.42,134.16 L458.51,133.77 L458.59,133.18 L458.67,132.61 L458.76,132.14 L458.84,131.56 L458.93,131.19 L459.02,130.37 L459.11,129.8 L459.2,129.24 L459.28,128.76 L459.37,127.93 L459.46,127.29 L459.55,126.77 L459.65,126.03 L459.74,125.51 L459.83,124.75 L459.92,124.03 L460,123.58 L460.09,122.87 L460.18,122.2 L460.27,121.71 L460.36,120.98 L460.44,120.38 L460.53,119.83 L460.61,119.32 L460.69,118.99 L460.78,118.52 L460.86,117.89 L460.93,117.44 L461.01,117.11 L461.09,116.72 L461.16,116.6 L461.23,116.26 L461.3,116.14 L461.57,115.4 L461.81,115.3 L462.03,115.38 L462.23,115.55 L462.43,116.29 L462.63,116.8 L462.83,117.87 L463.03,118.82 L463.26,119.8 L463.5,120.68 L463.58,121.15 L463.67,121.6 L463.75,121.89 L463.84,122.52 L463.93,122.94 L464.01,123.49 L464.1,124.3 L464.19,124.89 L464.28,125.57 L464.38,126.05 L464.47,126.85 L464.56,127.44 L464.66,128.29 L464.75,129.01 L464.85,129.66 L464.94,130.38 L465.04,131.05 L465.13,131.58 L465.23,132.32 L465.33,133.03 L465.43,133.54 L465.52,133.92 L465.62,134.47 L465.72,134.92 L465.82,135.25 L465.91,135.7 L466.01,135.93 L466.11,136.2 L466.21,136.43 L466.3,136.56 L466.4,136.42 L466.48,136.22 L466.55,136.32 L466.63,136.16 L466.71,135.9 L466.79,135.47 L466.87,135.26 L466.95,134.83 L467.03,134.57 L467.11,134.23 L467.19,133.72 L467.27,133.19 L467.35,132.74 L467.43,132.05 L467.51,131.58 L467.59,130.89 L467.67,130.3 L467.75,129.69 L467.83,129.18 L467.92,128.5 L468,128.02 L468.08,127.18 L468.16,126.62 L468.24,125.98 L468.32,125.26 L468.4,124.61 L468.48,123.97 L468.56,123.41 L468.64,122.86 L468.72,122.11 L468.8,121.66 L468.88,120.82 L468.96,120.43 L469.04,119.84 L469.12,119.36 L469.19,118.66 L469.27,118.2 L469.35,117.73 L469.42,117.38 L469.5,117.12 L469.67,116.45 L469.84,115.58 L470,114.99 L470.16,114.13 L470.32,113.54 L470.47,113.1 L470.63,112.7 L470.78,112.03 L470.94,111.75 L471.1,111.42 L471.26,110.92 L471.42,110.59 L471.59,110.13 L471.76,109.93 L471.93,109.57 L472.11,109.24 L472.3,108.79 L472.69,108.27 L473.13,107.72 L473.6,107.27 L474.09,107.15 L474.56,106.73 L475.01,106.42 L475.41,106.2 L475.75,106.25 L476,105.96" fill="none" stroke="#ea4046" stroke-width="1.3" stroke-linejoin="round" stroke-linecap="round" />
<path d="M479,80.57 L479.03,80.81 L479.07,81.28 L479.11,81.49 L479.16,81.89 L479.2,82.29 L479.25,82.66 L479.3,83.2 L479.36,83.75 L479.41,84.01 L479.47,84.68 L479.53,85.13 L479.59,85.81 L479.65,86.38 L479.72,86.8 L479.79,87.42 L479.86,88.17 L479.93,88.9 L480,89.52 L480.07,90.17 L480.14,90.62 L480.22,91.34 L480.29,92.06 L480.37,92.66 L480.44,93.28 L480.52,94.14 L480.6,94.71 L480.68,95.28 L480.75,95.94 L480.83,96.64 L480.91,97.28 L480.99,97.9 L481.07,98.36 L481.14,99.13 L481.22,99.63 L481.3,100.03 L481.37,100.52 L481.45,101.11 L481.52,101.54 L481.6,102.18 L481.67,102.35 L481.74,102.99 L481.81,103.17 L481.88,103.71 L481.95,103.9 L482.01,104.09 L482.08,104.58 L482.14,104.61 L482.2,104.94 L482.33,104.98 L482.47,104.99 L482.59,104.97 L482.72,104.59 L482.85,104.3 L482.97,103.83 L483.09,103.19 L483.21,102.31 L483.33,101.76 L483.44,100.85 L483.56,100.08 L483.67,99.37 L483.79,98.55 L483.9,97.54 L484.01,96.78 L484.13,96.28 L484.24,95.58 L484.35,95.15 L484.47,94.73 L484.58,94.57 L484.7,94.41 L484.84,94.46 L484.98,94.56 L485.12,94.68 L485.26,94.95 L485.4,95.27 L485.54,95.94 L485.68,96.35 L485.82,96.93 L485.96,97.48 L486.09,98.14 L486.23,98.85 L486.36,99.57 L486.49,100.14 L486.62,100.75 L486.75,101.53 L486.87,102.24 L486.99,102.7 L487.1,103.34 L487.21,103.65 L487.32,104.41 L487.42,104.93 L487.52,105.41 L487.61,106.09 L487.7,106.9 L487.79,107.56 L487.88,107.99 L487.96,108.76 L488.05,109.41 L488.13,109.77 L488.22,110.45 L488.31,110.71 L488.4,111.11 L488.49,111.64 L488.59,111.93 L488.7,112.06 L488.91,112.03 L489.14,111.71 L489.37,111.04 L489.61,110.25 L489.85,109.5 L490.1,108.61 L490.34,107.98 L490.57,107.72 L490.8,108.01 L490.88,108.27 L490.96,108.39 L491.04,108.63 L491.12,108.92 L491.2,109.44 L491.28,109.61 L491.35,110.14 L491.43,110.53 L491.51,111.18 L491.58,111.69 L491.66,112.2 L491.73,112.57 L491.81,113.19 L491.88,113.78 L491.96,114.57 L492.04,115.19 L492.12,115.76 L492.19,116.33 L492.27,116.91 L492.36,117.6 L492.44,118.22 L492.52,118.81 L492.61,119.39 L492.7,119.97 L492.76,120.47 L492.82,120.91 L492.88,121.58 L492.94,122.13 L493.01,122.49 L493.07,123.27 L493.13,123.83 L493.19,124.31 L493.25,125.04 L493.31,125.59 L493.37,126.28 L493.44,126.95 L493.5,127.65 L493.56,128.19 L493.63,128.73 L493.69,129.5 L493.75,130.14 L493.82,130.73 L493.89,131.3 L493.95,132.1 L494.02,132.68 L494.09,133.19 L494.16,133.66 L494.23,134.24 L494.3,134.6 L494.38,135.03 L494.45,135.54 L494.53,136.06 L494.61,136.54 L494.68,136.82 L494.76,137.09 L494.85,137.18 L494.93,137.62 L495.01,137.55 L495.1,137.71 L495.24,137.88 L495.38,137.86 L495.52,137.43 L495.67,137.3 L495.83,136.83 L495.98,136.3 L496.14,135.66 L496.31,135.11 L496.47,134.34 L496.64,133.34 L496.81,132.82 L496.98,131.95 L497.15,131.26 L497.32,130.48 L497.49,129.58 L497.66,128.81 L497.83,128.42 L498,127.58 L498.16,127.14 L498.33,126.79 L498.49,126.71 L498.65,126.39 L498.8,126.54 L498.91,126.52 L499.03,126.8 L499.14,126.97 L499.26,127.38 L499.37,127.67 L499.49,128.17 L499.6,128.35 L499.71,128.84 L499.83,129.5 L499.94,130.13 L500.06,130.75 L500.17,131.11 L500.28,132 L500.4,132.48 L500.51,133.29 L500.62,133.68 L500.73,134.46 L500.84,135.18 L500.94,135.9 L501.05,136.57 L501.15,137.01 L501.26,137.76 L501.36,138.22 L501.46,138.97 L501.56,139.32 L501.65,140.07 L501.75,140.4 L501.84,140.86 L501.93,141.26 L502.01,141.41 L502.1,141.92 L502.66,143.15 L503.11,143.46 L503.52,142.84 L504,140.98 L504.06,140.85 L504.13,140.27 L504.19,139.95 L504.26,139.76 L504.32,139.41 L504.39,139 L504.46,138.37 L504.53,137.96 L504.6,137.51 L504.67,137.22 L504.74,136.64 L504.82,136.02 L504.89,135.49 L504.96,135.07 L505.04,134.42 L505.11,133.84 L505.18,133.4 L505.26,132.68 L505.33,132.14 L505.4,131.51 L505.47,130.95 L505.55,130.5 L505.62,129.73 L505.69,129.21 L505.76,128.65 L505.83,128.08 L505.9,127.49 L505.96,126.9 L506.03,126.35 L506.09,125.97 L506.16,125.29 L506.22,124.75 L506.28,124.21 L506.34,123.82 L506.4,123.34 L506.47,122.88 L506.53,122.32 L506.59,121.67 L506.65,121.18 L506.7,120.39 L506.76,119.98 L506.81,119.45 L506.86,118.82 L506.91,118.46 L506.96,117.82 L507.01,117.12 L507.06,116.72 L507.11,116.08 L507.15,115.55 L507.2,114.98 L507.25,114.59 L507.29,113.94 L507.34,113.5 L507.39,113.1 L507.44,112.63 L507.49,111.96 L507.54,111.56 L507.59,111.15 L507.64,110.47 L507.7,110.14 L507.75,109.73 L507.81,109.32 L507.87,108.87 L507.93,108.39 L508,107.99 L508.11,107.35 L508.23,106.62 L508.36,105.81 L508.49,105.25 L508.62,104.58 L508.76,103.93 L508.89,103.32 L509.03,102.5 L509.18,102.03 L509.32,101.43 L509.46,100.98 L509.6,100.59 L509.74,100.16 L509.88,99.7 L510.01,99.6 L510.15,99.47 L510.28,99.21 L510.4,99.14 L510.51,99.4 L510.62,99.55 L510.73,99.96 L510.84,100.42 L510.94,101.11 L511.04,101.67 L511.14,102.41 L511.24,103.38 L511.34,104.04 L511.44,104.95 L511.54,105.52 L511.64,106.33 L511.75,106.99 L511.85,107.58 L511.95,108.12 L512.06,108.6 L512.17,108.89 L512.28,108.84 L512.4,108.91 L512.47,108.79 L512.54,108.57 L512.61,108.31 L512.69,107.89 L512.76,107.67 L512.83,107.03 L512.91,106.78 L512.98,106.27 L513.06,105.64 L513.13,105.18 L513.21,104.5 L513.29,103.91 L513.37,103.33 L513.44,102.68 L513.52,102.25 L513.6,101.43 L513.68,100.93 L513.76,100.16 L513.84,99.57 L513.92,98.96 L514,98.09 L514.08,97.45 L514.16,96.93 L514.24,96.38 L514.32,95.85 L514.41,95.11 L514.49,94.82 L514.57,94.11 L514.65,93.82 L514.73,93.23 L514.82,93.08 L514.9,92.84 L515.29,91.52 L515.69,90.93 L516.1,90.64 L516.51,90.25 L516.92,90.25 L517.32,90.28 L517.7,90.25 L518.21,90.31 L518.69,90.55 L519.16,90.77 L519.63,91.06 L520.1,91 L520.51,90.91 L520.93,90.61 L521.35,90.07 L521.76,89.44 L522.15,88.95 L522.5,88.7 L522.99,88.1 L523.45,87.66 L523.83,87.31 L524.1,87.07" fill="none" stroke="#ea4046" stroke-width="1.3" stroke-linejoin="round" stroke-linecap="round" />
<path d="M434.5,123.37 L434.78,123.5 L435.13,123.46 L435.54,123.53 L435.99,123.48 L436.49,123.68 L437.01,123.61 L437.57,123.69 L438.14,123.78 L438.72,123.7 L439.31,123.74 L439.89,123.71 L440.45,123.99 L441,123.87 L441.48,124.05 L441.98,124.09 L442.5,124.36 L443.03,124.39 L443.57,124.52 L444.12,124.65 L444.67,124.87 L445.21,125.05 L445.74,125.02 L446.25,125.34 L446.74,125.47 L447.21,125.67 L447.64,125.96 L448.04,125.96 L448.4,126.25 L448.79,126.6 L449.13,126.83 L449.42,127.09 L449.68,127.33 L449.9,127.84 L450.09,128.19 L450.27,128.55 L450.43,128.99 L450.59,129.42 L450.75,130.05 L450.92,130.85 L451.1,131.66 L451.16,132.03 L451.23,132.5 L451.29,132.88 L451.35,133.37 L451.41,133.78 L451.47,134.09 L451.54,134.79 L451.6,135.16 L451.65,135.68 L451.71,136.17 L451.77,136.7 L451.83,137.41 L451.89,137.98 L451.94,138.31 L452,139.1 L452.05,139.65 L452.11,140.23 L452.16,140.65 L452.22,141.42 L452.27,141.91 L452.32,142.46 L452.37,142.91 L452.42,143.63 L452.47,144.1 L452.52,144.7 L452.57,145.43 L452.61,145.82 L452.66,146.49 L452.71,146.88 L452.75,147.31 L452.79,147.89 L452.84,148.3 L452.88,148.75 L452.92,149.34 L452.96,149.77 L453,150 L453.07,150.92 L453.14,151.59 L453.2,152.16 L453.25,152.83 L453.3,153.66 L453.34,154.34 L453.38,154.9 L453.42,155.4 L453.46,155.77 L453.49,156.48 L453.53,156.74 L453.57,157.4 L453.61,157.61 L453.66,158.25 L453.71,158.45 L453.77,158.69 L453.83,158.93 L453.9,159.23 L454.28,159.65 L454.72,158.89 L455.2,158.15 L455.7,158.48 L455.83,158.62 L455.96,159.11 L456.1,159.76 L456.23,160.47 L456.36,161.32 L456.49,162.11 L456.63,162.95 L456.77,163.79 L456.91,164.63 L457.06,165.43 L457.22,165.92 L457.38,166.17 L457.54,166.19 L457.72,166.31 L457.9,165.73 L457.96,165.62 L458.02,165.4 L458.09,165.09 L458.15,164.73 L458.22,164.59 L458.28,163.98 L458.35,163.65 L458.42,163.33 L458.49,162.75 L458.57,162.19 L458.64,161.7 L458.71,161.36 L458.79,160.75 L458.86,160.14 L458.94,159.7 L459.01,159.04 L459.09,158.29 L459.17,157.67 L459.25,157.24 L459.32,156.45 L459.4,155.85 L459.48,155.14 L459.56,154.65 L459.64,153.9 L459.72,153.31 L459.8,152.52 L459.88,151.96 L459.95,151.13 L460.03,150.51 L460.11,149.93 L460.19,149.31 L460.26,148.9 L460.34,148.1 L460.41,147.62 L460.49,147.16 L460.56,146.52 L460.63,146.12 L460.71,145.57 L460.78,145.11 L460.85,144.49 L460.92,144.12 L460.98,143.91 L461.05,143.41 L461.11,143.21 L461.18,142.89 L461.24,142.75 L461.3,142.41 L461.53,141.96 L461.73,141.63 L461.93,141.56 L462.12,141.84 L462.3,142.16 L462.47,142.67 L462.64,143.5 L462.8,144.32 L462.97,145.22 L463.14,146.28 L463.32,147.26 L463.5,148.42 L463.56,148.66 L463.62,149.17 L463.67,149.47 L463.73,150.06 L463.79,150.33 L463.84,151.15 L463.9,151.47 L463.95,152.15 L464.01,152.72 L464.06,153.52 L464.12,154.14 L464.17,154.73 L464.23,155.31 L464.28,156.11 L464.33,156.92 L464.39,157.62 L464.44,158.15 L464.5,159.04 L464.56,159.52 L464.61,160.39 L464.67,160.81 L464.73,161.43 L464.79,162.24 L464.85,162.76 L464.91,163.44 L464.97,163.97 L465.03,164.41 L465.09,165.12 L465.16,165.32 L465.22,165.83 L465.29,166.3 L465.36,166.66 L465.43,166.87 L465.5,167.1 L465.57,167.26 L465.65,167.6 L465.72,167.55 L465.8,167.51 L465.87,167.68 L465.95,167.56 L466.03,167.45 L466.11,167.16 L466.19,167.06 L466.28,166.61 L466.36,166.44 L466.45,166.1 L466.54,165.6 L466.63,165.14 L466.72,164.72 L466.81,164.25 L466.9,163.6 L466.99,163.28 L467.09,162.64 L467.18,162.12 L467.28,161.49 L467.38,160.68 L467.47,160 L467.57,159.42 L467.67,158.93 L467.76,158.32 L467.86,157.44 L467.96,156.81 L468.06,156.04 L468.15,155.48 L468.25,154.76 L468.35,154.26 L468.44,153.61 L468.54,153.06 L468.63,152.21 L468.72,151.66 L468.81,151.06 L468.9,150.62 L468.99,150.02 L469.08,149.55 L469.17,148.88 L469.25,148.49 L469.34,148.15 L469.42,147.81 L469.5,147.48 L469.71,146.42 L469.91,145.74 L470.11,144.94 L470.3,144.42 L470.48,143.91 L470.66,143.18 L470.84,142.67 L471.01,142.32 L471.19,142.1 L471.36,141.48 L471.54,141.16 L471.72,140.92 L471.91,140.61 L472.1,140.43 L472.3,139.85 L472.71,139.58 L473.17,138.93 L473.65,138.77 L474.13,138.39 L474.58,138 L475,137.82 L475.34,137.9 L475.6,137.53" fill="none" stroke="#42a0dc" stroke-width="1.3" stroke-linejoin="round" stroke-linecap="round" />
<path d="M483,124.77 L483.08,125.26 L483.17,125.66 L483.27,125.89 L483.39,126.5 L483.51,126.84 L483.65,127.42 L483.79,128.07 L483.94,128.45 L484.09,129 L484.25,129.66 L484.42,130.25 L484.58,131 L484.75,131.52 L484.92,132.12 L485.09,132.78 L485.26,133.38 L485.42,134.06 L485.58,134.3 L485.74,134.95 L485.89,135.44 L486.03,135.74 L486.17,135.87 L486.3,136.1 L486.73,136.22 L487.08,135.2 L487.41,134.19 L487.76,133.05 L488.18,132.78 L488.7,133.85 L488.77,134.19 L488.84,134.29 L488.91,134.49 L488.98,134.92 L489.06,135.31 L489.14,135.82 L489.21,136 L489.29,136.7 L489.38,137.01 L489.46,137.41 L489.54,138.09 L489.63,138.7 L489.71,139.17 L489.8,139.77 L489.89,140.26 L489.98,140.84 L490.07,141.33 L490.16,142.2 L490.26,142.74 L490.35,143.24 L490.44,143.9 L490.54,144.65 L490.63,145.35 L490.73,146.09 L490.82,146.59 L490.92,147.28 L491.02,147.98 L491.11,148.45 L491.21,149.37 L491.31,149.84 L491.4,150.66 L491.5,151.26 L491.6,151.87 L491.69,152.27 L491.79,152.97 L491.89,153.57 L491.98,154.09 L492.08,154.7 L492.17,155.19 L492.26,155.8 L492.36,156.34 L492.45,156.81 L492.54,157.31 L492.63,157.74 L492.72,158.02 L492.81,158.5 L492.9,158.89 L492.99,159.01 L493.07,159.49 L493.16,159.69 L493.24,159.83 L493.32,160.07 L493.4,160.38 L493.58,160.59 L493.76,160.61 L493.93,160.62 L494.1,160.28 L494.27,159.73 L494.44,159.43 L494.6,158.8 L494.76,158.21 L494.92,157.43 L495.08,156.68 L495.23,155.65 L495.39,155.01 L495.54,154.03 L495.7,153.18 L495.85,152.57 L496.01,151.84 L496.16,151.2 L496.31,150.42 L496.47,150.09 L496.62,149.61 L496.78,149.35 L496.94,149.26 L497.1,149.3 L497.21,149.18 L497.32,149.52 L497.43,149.74 L497.54,150.04 L497.65,150.28 L497.77,150.83 L497.88,151.02 L497.99,151.67 L498.11,151.97 L498.22,152.47 L498.33,153.02 L498.45,153.84 L498.56,154.18 L498.67,154.87 L498.79,155.64 L498.9,156.15 L499.01,156.99 L499.12,157.62 L499.24,158.16 L499.35,158.89 L499.46,159.58 L499.57,160.17 L499.68,160.87 L499.79,161.3 L499.89,161.97 L500,162.43 L500.1,162.91 L500.21,163.63 L500.31,163.98 L500.41,164.33 L500.51,164.9 L500.61,165.3 L500.71,165.41 L500.8,165.74 L501.4,167.15 L501.95,167.61 L502.46,167.3 L502.97,166.61 L503.5,164.82 L503.57,164.6 L503.64,164.47 L503.72,164.14 L503.79,163.5 L503.87,163.13 L503.94,162.91 L504.02,162.4 L504.1,161.89 L504.18,161.47 L504.26,161.16 L504.34,160.45 L504.42,160.06 L504.5,159.5 L504.58,158.9 L504.66,158.39 L504.74,157.88 L504.82,157.16 L504.89,156.74 L504.97,155.98 L505.05,155.39 L505.13,154.85 L505.21,154.32 L505.28,153.75 L505.36,153.21 L505.43,152.51 L505.5,152.13 L505.58,151.48 L505.65,151.02 L505.71,150.37 L505.78,149.73 L505.85,149.41 L505.91,148.78 L505.97,148.21 L506.03,147.79 L506.09,147.3 L506.15,146.9 L506.2,146.3 L506.25,146.11 L506.3,145.62 L506.39,144.88 L506.46,144.06 L506.52,143.46 L506.58,143.01 L506.62,142.33 L506.66,141.8 L506.7,141.28 L506.72,140.69 L506.75,140.08 L506.78,139.6 L506.8,139.4 L506.82,138.86 L506.85,138.5 L506.88,138.03 L506.91,137.58 L506.95,137.06 L507,136.75 L507.06,136.27 L507.12,135.85 L507.2,135.38 L507.32,134.86 L507.44,134.31 L507.58,133.68 L507.72,133.06 L507.87,132.17 L508.03,131.7 L508.2,131.05 L508.37,130.44 L508.54,130.02 L508.71,129.38 L508.89,128.96 L509.07,128.8 L509.25,128.54 L509.43,128.25 L509.6,128.18 L509.84,128.29 L510.08,128.42 L510.33,129.03 L510.58,129.84 L510.84,130.58 L511.1,131.53 L511.36,132.2 L511.62,132.72 L511.88,133.3 L512.14,133.21 L512.4,133.03 L512.49,132.87 L512.58,132.66 L512.68,132.15 L512.77,131.87 L512.86,131.68 L512.95,131.12 L513.04,130.6 L513.13,130.17 L513.23,129.67 L513.32,129.12 L513.41,128.45 L513.5,127.95 L513.59,127.22 L513.69,126.8 L513.78,126.2 L513.87,125.39 L513.96,124.78 L514.06,124.32 L514.15,123.68 L514.24,122.89 L514.34,122.43 L514.43,121.77 L514.53,121.09 L514.62,120.75 L514.72,120.05 L514.81,119.63 L514.91,119.1 L515.01,118.82 L515.1,118.33 L515.2,118.14 L515.3,117.55 L515.69,116.75 L516.1,116.16 L516.51,115.57 L516.93,115.51 L517.35,115.23 L517.75,115.37 L518.14,115.21 L518.5,115.18 L519.03,115.41 L519.52,115.8 L519.98,116.11 L520.43,116.29 L520.9,116.57 L521.33,116.2 L521.79,116.1 L522.25,115.51 L522.68,115.18 L523.04,114.62 L523.3,114.4" fill="none" stroke="#42a0dc" stroke-width="1.3" stroke-linejoin="round" stroke-linecap="round" />
<path d="M434.3,169.5 L434.3,19.5 L475.3,19.5 M481.0,19.5 L525.5,19.5 L525.5,169.5 L483.0,169.5 M475.3,169.5 L434.3,169.5" fill="none" stroke="#202020" stroke-width="1.35"/>
<line x1="475.3" y1="16.6" x2="475.3" y2="21.8" stroke="#202020" stroke-width="1.1"/>
<line x1="481" y1="16.6" x2="481" y2="21.8" stroke="#202020" stroke-width="1.1"/>
<line x1="475.3" y1="169.5" x2="475.3" y2="173.3" stroke="#202020" stroke-width="1.1"/>
<line x1="483" y1="169.5" x2="483" y2="173.3" stroke="#202020" stroke-width="1.1"/>
<line x1="437.3" y1="169.5" x2="437.3" y2="173.3" stroke="#202020" stroke-width="1.1"/>
<line x1="460.6" y1="169.5" x2="460.6" y2="173.3" stroke="#202020" stroke-width="1.1"/>
<line x1="504" y1="169.5" x2="504" y2="173.3" stroke="#202020" stroke-width="1.1"/>
<text x="417.95" y="185.3" font-size="13.8" fill="#111" textLength="62.33" lengthAdjust="spacingAndGlyphs" stroke="#111" stroke-width="0.2">18001600</text>
<text x="490.01" y="185.3" font-size="13.8" fill="#111" textLength="29.35" lengthAdjust="spacingAndGlyphs" stroke="#111" stroke-width="0.2">1000</text>
<text x="424.43" y="201.4" font-size="14" fill="#111" textLength="112.08" lengthAdjust="spacingAndGlyphs" stroke="#111" stroke-width="0.2">Wavenumber (cm</text>
<text x="536.77" y="197" font-size="8" fill="#111" textLength="6.45" lengthAdjust="spacingAndGlyphs" stroke="#111" stroke-width="0.2">-1</text>
<text x="544.33" y="201.4" font-size="14" fill="#111" textLength="4.52" lengthAdjust="spacingAndGlyphs" stroke="#111" stroke-width="0.2">)</text>
<text x="420.54" y="13.8" font-size="19" fill="#111" textLength="10.75" lengthAdjust="spacingAndGlyphs" stroke="#111" stroke-width="0.2">b</text>
<path d="M443.7,76.3 L443.7,82.5" stroke="#111" stroke-width="2.0"/>
<polygon points="440.9,82 446.5,82 443.7,86.5" fill="#111"/>
<path d="M444.5,111.1 L444.5,117.9" stroke="#111" stroke-width="2.0"/>
<polygon points="441.7,117.4 447.3,117.4 444.5,121.9" fill="#111"/>
<rect x="24.5" y="302.5" width="9.5" height="44.1" fill="#dfd1de" />
<rect x="226.9" y="293" width="10" height="44.5" fill="#dfd1de" />
<path d="M17,310.56 L17.4,310.63 L17.8,311.02 L18.2,310.72 L18.6,310.62 L19,310.64 L19.4,310.24 L19.8,310.38 L20.2,310.54 L20.6,310.77 L21,310.16 L21.4,310.08 L21.8,309.81 L22.2,310.4 L22.6,310.53 L23,309.92 L23.4,310.56 L23.8,310.82 L24.2,310.6 L24.6,310.44 L25,309.89 L25.4,309.47 L25.8,309.77 L26.2,309.4 L26.6,309.34 L27,309.33 L27.4,309.07 L27.8,309.35 L28.2,309.41 L28.6,309.78 L29,309.57 L29.4,309.54 L29.8,309.31 L30.2,309.29 L30.6,308.99 L31,308.56 L31.4,308.95 L31.8,308.96 L32.2,308.6 L32.6,308.06 L33,307.1 L33.4,306.19 L33.8,305.34 L34.2,304.14 L34.6,303.55 L35,302.03 L35.4,300.74 L35.8,298.48 L36.2,296.65 L36.6,294.18 L37,290.56 L37.4,287.38 L37.8,284.87 L38.2,281.55 L38.6,278.98 L39,275.91 L39.4,273.27 L39.8,272.21 L40.2,272.03 L40.6,272.13 L41,273.16 L41.4,275.38 L41.8,278.73 L42.2,281.83 L42.6,284.38 L43,287.38 L43.4,290.19 L43.8,292.86 L44.2,296.09 L44.6,298.04 L45,300.24 L45.4,301.92 L45.8,303.07 L46.2,304.66 L46.6,305.19 L47,306.29 L47.4,306.52 L47.8,307.14 L48.2,307.38 L48.6,307.68 L49,308.63 L49.4,308.99 L49.8,308.73 L50.2,309.26 L50.6,308.88 L51,308.95 L51.4,309.48 L51.8,309.55 L52.2,309.08 L52.6,309.79 L53,309.37 L53.4,309.25 L53.8,309.73 L54.2,309.53 L54.6,309.43 L55,309.18 L55.4,309.11 L55.8,309.58 L56.2,309.47 L56.6,309.79 L57,309.72 L57.4,309.78 L57.8,310.33 L58.2,310.11 L58.6,310.11 L59,310.41 L59.4,309.87 L59.8,309.61 L60.2,310.25 L60.6,310.45 L61,309.98 L61.4,309.72 L61.8,310.15 L62.2,310.55 L62.6,309.99 L63,310.5 L63.4,310.66 L63.8,310.46 L64.2,310.19 L64.6,309.75 L65,309.49 L65.4,310.3 L65.8,309.94 L66.2,310.25 L66.6,309.94 L67,310.37 L67.4,310.34 L67.8,310.02 L68.2,309.76 L68.6,310.19 L69,309.73 L69.4,309.69 L69.8,310 L70.2,310.43 L70.6,310.38 L71,310.03 L71.4,310.51 L71.8,310.01 L72.2,309.6 L72.6,309.66 L73,309.87 L73.4,309.57 L73.8,309.56 L74.2,309.74 L74.6,310.03 L75,309.71 L75.4,309.8 L75.8,310.37 L76.2,310.71 L76.6,310.54 L77,310.49 L77.4,310.37 L77.8,309.86 L78.2,309.53 L78.6,309.36 L79,310.17 L79.4,310.33 L79.8,310.66 L80.2,309.86 L80.6,310.12 L81,310.08 L81.4,310.3 L81.8,309.99 L82.2,310.53 L82.6,309.84 L83,310 L83.4,310.26 L83.8,310.54 L84.2,310.5 L84.6,310.45 L85,310.51 L85.4,310.65 L85.8,310.15 L86.2,310.26 L86.6,310.52 L87,310.6 L87.4,310.18 L87.8,310.37 L88.2,310.52 L88.6,310.29 L89,310.24 L89.4,309.97 L89.8,310.04 L90.2,310.1 L90.6,309.59 L91,309.92 L91.4,310.41 L91.8,310.52 L92.2,310.41 L92.6,310.02 L93,310.19 L93.4,310.1 L93.8,309.92 L94.2,310.23 L94.6,309.61 L95,309.99 L95.4,309.44 L95.8,309.76 L96.2,309.78 L96.6,309.53 L97,309.88 L97.4,309.83 L97.8,309.92 L98.2,310.26 L98.6,309.74 L99,309.26 L99.4,309.33 L99.8,309.73 L100.2,309.43 L100.6,309.25 L101,309.9 L101.4,309.94 L101.8,309.74 L102.2,310.09 L102.6,309.67 L103,309.82 L103.4,309.41 L103.8,309.44 L104.2,309.83 L104.6,310.1 L105,310.18 L105.4,309.71 L105.8,309.69 L106.2,309.41 L106.6,309.09 L107,309.29 L107.4,309.72 L107.8,309.91 L108.2,309.84 L108.6,310.04 L109,309.45 L109.4,309.06 L109.8,309.15 L110.2,309 L110.6,308.86 L111,308.98 L111.4,309.23 L111.8,309.2 L112.2,308.99 L112.6,309.4 L113,309.71 L113.4,309.29 L113.8,308.71 L114.2,308.38 L114.6,309.05 L115,308.5 L115.4,308.89 L115.8,308.9 L116.2,308.62 L116.6,308.94 L117,308.28 L117.4,308.07 L117.8,308.25 L118.2,307.87 L118.6,308.45 L119,308.08 L119.4,307.77 L119.8,307.48 L120.2,307.87 L120.6,307.81 L121,307.89 L121.4,307.88 L121.8,307.95 L122.2,308.04 L122.6,307.72 L123,306.98 L123.4,306.8 L123.8,306.29 L124.2,305.75 L124.6,305.81 L125,305.89 L125.4,305.18 L125.8,304.73 L126.2,304.33 L126.6,304.2 L127,303.61 L127.4,303.04 L127.8,302.46 L128.2,301.3 L128.6,300.54 L129,299.59 L129.4,297.48 L129.8,296.39 L130.2,294.54 L130.6,291.82 L131,289.48 L131.4,287.06 L131.8,284.72 L132.2,281.74 L132.6,279.55 L133,278.36 L133.4,277.89 L133.8,278.61 L134.2,279.71 L134.6,281.92 L135,284.06 L135.4,287.05 L135.8,289.86 L136.2,292.15 L136.6,294.28 L137,295.62 L137.4,297.66 L137.8,299.29 L138.2,300.56 L138.6,301.16 L139,302.07 L139.4,302.35 L139.8,303.35 L140.2,304 L140.6,304 L141,303.92 L141.4,304.4 L141.8,304.86 L142.2,305.41 L142.6,305.48 L143,305.13 L143.4,305.84 L143.8,305.47 L144.2,306.09 L144.6,305.78 L145,305.84 L145.4,306.34 L145.8,305.93 L146.2,305.76 L146.6,306.05 L147,306.38 L147.4,306.63 L147.8,306.57 L148.2,306.76 L148.6,306.35 L149,306.58 L149.4,305.75 L149.8,305.45 L150.2,305.54 L150.6,305.24 L151,305.44 L151.4,305.32 L151.8,305 L152.2,305.02 L152.6,304.56 L153,303.89 L153.4,303.41 L153.8,303.38 L154.2,303.09 L154.6,301.89 L155,301.55 L155.4,301 L155.8,299.71 L156.2,298.47 L156.6,296.72 L157,295.31 L157.4,293.54 L157.8,291.6 L158.2,288.78 L158.6,287.03 L159,284.39 L159.4,281.9 L159.8,280.39 L160.2,279.22 L160.6,278.97 L161,279.94 L161.4,280.95 L161.8,283.2 L162.2,285.39 L162.6,288.08 L163,290.26 L163.4,291.4 L163.8,292.77 L164.2,293.54 L164.6,294.55 L165,295.61 L165.4,296.27 L165.8,296.12 L166.2,295.73 L166.6,295.13 L167,294.82 L167.4,294.34 L167.8,292.44 L168.2,291.06 L168.6,288.14 L169,284.99 L169.4,281.08 L169.8,276.69 L170.2,270.92 L170.6,265.11 L171,260.61 L171.4,257.62 L171.8,257.77 L172.2,258.26 L172.6,259.18 L173,258.76 L173.4,257.42 L173.8,256.23 L174.2,255.65 L174.6,256.85 L175,260.27 L175.4,265.36 L175.8,270.64 L176.2,275.96 L176.6,281.14 L177,285.38 L177.4,288.68 L177.8,291.7 L178.2,293.8 L178.6,295.79 L179,296.7 L179.4,298.15 L179.8,299.31 L180.2,300.28 L180.6,300.41 L181,300.7 L181.4,301.63 L181.8,301.47 L182.2,302.28 L182.6,302.6 L183,302.01 L183.4,301.83 L183.8,302.19 L184.2,301.79 L184.6,301.31 L185,301.64 L185.4,301.13 L185.8,300.96 L186.2,299.82 L186.6,299.1 L187,298.46 L187.4,296.78 L187.8,295.35 L188.2,294.2 L188.6,292.82 L189,291.18 L189.4,288.67 L189.8,287.35 L190.2,286.93 L190.6,286.88 L191,287.77 L191.4,288.49 L191.8,289.43 L192.2,290.46 L192.6,291.21 L193,292.21 L193.4,292.58 L193.8,292.54 L194.2,291.65 L194.6,290.63 L195,289.3 L195.4,288.22 L195.8,286.52 L196.2,284.11 L196.6,280.44 L197,276.97 L197.4,274.67 L197.8,271.97 L198.2,270.6 L198.6,269.97 L199,271.07 L199.4,273.41 L199.8,276.43 L200.2,279.99 L200.6,282.87 L201,286.49 L201.4,289.67 L201.8,291.62 L202.2,293.78 L202.6,295.89 L203,297.22 L203.4,298.22 L203.8,299.17 L204.2,300.39 L204.6,300.84 L205,302.25 L205.4,303.09 L205.8,303.63 L206.2,304.26 L206.6,304.51 L207,304.58 L207.4,304.96 L207.8,305.18 L208.2,305.89 L208.6,306.14 L209,305.82 L209.4,306.42 L209.8,306.6 L210.2,306.8 L210.6,307 L211,306.74 L211.4,307.18 L211.8,307.41 L212.2,307.38 L212.6,307.49 L213,307.57 L213.4,307.29 L213.8,307.52 L214.2,307 L214.6,307.07 L215,307.26 L215.4,306.92 L215.8,307.13 L216.2,307.53 L216.6,307.72 L217,307.43 L217.4,308.03 L217.8,308.04 L218.2,307.73 L218.6,307.93 L219,307.94 L219.4,307.92 L219.8,307.77 L220.2,308.33 L220.6,308.23 L221,308.25 L221.4,308.32 L221.8,308.58 L222.2,307.74 L222.6,307.96 L223,308.18 L223.4,307.8 L223.8,307.77 L224.2,307.41 L224.6,307.38 L225,307.54 L225.4,307.33 L225.8,307.38 L226.2,308.04 L226.6,307.96 L227,307.86 L227.4,308.25 L227.8,307.99 L228.2,308.25 L228.6,307.95 L229,307.91 L229.4,307.03 L229.8,306.98 L230.2,306.84 L230.6,305.6 L231,305.18 L231.4,303.25 L231.8,302.46 L232.2,302.95 L232.6,304.46 L233,305.57 L233.4,305.61 L233.8,306.53 L234.2,306.4 L234.6,306.39 L235,306.37 L235.4,306.01 L235.8,305.62 L236.2,305.62 L236.6,305.28 L237,304.54 L237.4,304.24 L237.8,303.16 L238.2,301.71 L238.6,300.37 L239,298.29 L239.4,295.67 L239.8,292.49 L240.2,286.88 L240.6,279.34 L241,268.45 L241.4,255.57 L241.8,249.05 L242.2,253.25 L242.6,264 L243,276.22 L243.4,284.91 L243.8,291.07 L244.2,295.8 L244.6,298.26 L245,300.42 L245.4,302.4 L245.8,303.54 L246.2,304.16 L246.6,305.24 L247,305.8 L247.4,306.04 L247.8,305.82 L248.2,306.36 L248.6,306.55 L249,306.48 L249.4,306.38 L249.8,306.89 L250.2,306.77 L250.6,307.1 L251,307.51 L251.4,307.53 L251.8,307.39 L252.2,307.67 L252.6,307.67 L253,308.05 L253.4,308 L253.8,308.47 L254.2,308.66 L254.6,308.54 L255,308.01 L255.4,307.66 L255.8,308.29 L256.2,308.48 L256.6,308.42 L257,308.14 L257.4,307.93 L257.8,308.26 L258.2,308.3 L258.6,308.35 L259,308.42 L259.4,308.58 L259.8,308.09 L260.2,307.94 L260.6,308.61 L261,308.85 L261.4,308.92 L261.8,308.12 L262.2,307.79 L262.6,307.85 L263,308.03 L263.4,308.32 L263.8,307.93 L264.2,308.2 L264.6,307.85 L265,307.71 L265.4,308.24 L265.8,308.35 L266.2,308.48 L266.6,308.29 L267,308.31 L267.4,308.05 L267.8,308.07 L268.2,308.48 L268.6,308.75 L269,308.12 L269.4,307.88 L269.8,308.46 L270.2,308.53 L270.6,308.71 L271,308.24 L271.4,308.24 L271.8,308.07 L272.2,308.55 L272.6,308.32" fill="none" stroke="#ea4046" stroke-width="1.45" stroke-linejoin="round" stroke-linecap="round" />
<path d="M17,336.86 L17.4,337.02 L17.8,337.09 L18.2,336.6 L18.6,336.23 L19,336.42 L19.4,336.4 L19.8,336.92 L20.2,337.02 L20.6,336.97 L21,336.89 L21.4,336.95 L21.8,336.45 L22.2,336.51 L22.6,336.24 L23,336.85 L23.4,336.27 L23.8,336.75 L24.2,336.2 L24.6,336.55 L25,336.34 L25.4,336.29 L25.8,336.68 L26.2,336.01 L26.6,335.73 L27,336.42 L27.4,336.3 L27.8,335.79 L28.2,336.43 L28.6,336.63 L29,335.84 L29.4,335.75 L29.8,335.37 L30.2,335.31 L30.6,335.52 L31,335.07 L31.4,335.31 L31.8,334.65 L32.2,334.33 L32.6,334.65 L33,334.15 L33.4,333.66 L33.8,333.24 L34.2,332.48 L34.6,331.46 L35,329.93 L35.4,329.06 L35.8,327.85 L36.2,326.08 L36.6,323.55 L37,320.51 L37.4,317.42 L37.8,314.53 L38.2,311.36 L38.6,307.58 L39,304.41 L39.4,301.85 L39.8,300.08 L40.2,299.4 L40.6,299.24 L41,299.73 L41.4,302.21 L41.8,304.67 L42.2,307.74 L42.6,310.71 L43,314.05 L43.4,317.19 L43.8,320.5 L44.2,322.64 L44.6,325.19 L45,326.92 L45.4,329 L45.8,329.91 L46.2,331.06 L46.6,332.05 L47,333.1 L47.4,333.23 L47.8,333.89 L48.2,334.09 L48.6,334.37 L49,334.8 L49.4,335.55 L49.8,335.49 L50.2,336 L50.6,335.49 L51,336.07 L51.4,335.82 L51.8,335.57 L52.2,336.05 L52.6,336.46 L53,335.77 L53.4,335.75 L53.8,336.27 L54.2,336.09 L54.6,335.94 L55,335.65 L55.4,335.57 L55.8,336.13 L56.2,336.77 L56.6,337.08 L57,336.74 L57.4,336.12 L57.8,336.15 L58.2,336.64 L58.6,336.91 L59,336.85 L59.4,336.42 L59.8,336.53 L60.2,336.54 L60.6,336.7 L61,336.42 L61.4,336.98 L61.8,337.18 L62.2,336.55 L62.6,336.4 L63,336.92 L63.4,336.56 L63.8,337.07 L64.2,336.87 L64.6,336.97 L65,337.02 L65.4,336.56 L65.8,336.43 L66.2,336.34 L66.6,336.73 L67,336.92 L67.4,336.44 L67.8,336.99 L68.2,336.77 L68.6,336.49 L69,336.56 L69.4,337.14 L69.8,336.98 L70.2,336.97 L70.6,337.27 L71,337.44 L71.4,337.32 L71.8,336.92 L72.2,336.92 L72.6,337.23 L73,337.25 L73.4,337.06 L73.8,336.74 L74.2,336.61 L74.6,336.93 L75,336.89 L75.4,336.33 L75.8,336.77 L76.2,337.16 L76.6,337.23 L77,337.37 L77.4,337.44 L77.8,337.09 L78.2,337.19 L78.6,336.83 L79,336.38 L79.4,336.43 L79.8,336.41 L80.2,337.03 L80.6,337.06 L81,336.92 L81.4,336.94 L81.8,336.45 L82.2,336.64 L82.6,336.89 L83,336.69 L83.4,336.46 L83.8,336.51 L84.2,336.45 L84.6,336.78 L85,336.38 L85.4,336.15 L85.8,336.27 L86.2,336.7 L86.6,336.96 L87,336.98 L87.4,337.25 L87.8,336.81 L88.2,336.27 L88.6,336.48 L89,336.53 L89.4,336.29 L89.8,336.67 L90.2,336.51 L90.6,336.33 L91,336.34 L91.4,336.95 L91.8,336.29 L92.2,336.34 L92.6,336.28 L93,336.18 L93.4,336.36 L93.8,336.22 L94.2,336.86 L94.6,336.72 L95,336.85 L95.4,336.37 L95.8,336.46 L96.2,336.63 L96.6,336.94 L97,336.49 L97.4,336.49 L97.8,336.88 L98.2,337.03 L98.6,336.49 L99,336.55 L99.4,336.8 L99.8,336.54 L100.2,336.69 L100.6,336.75 L101,337.08 L101.4,336.8 L101.8,336.8 L102.2,336.46 L102.6,336.68 L103,336.37 L103.4,336.4 L103.8,336.27 L104.2,336.15 L104.6,335.91 L105,335.89 L105.4,336.19 L105.8,336.03 L106.2,335.74 L106.6,336.36 L107,336.11 L107.4,336.64 L107.8,336.53 L108.2,336.26 L108.6,336.62 L109,336.79 L109.4,336.28 L109.8,335.84 L110.2,336.15 L110.6,336.48 L111,336.38 L111.4,336.49 L111.8,336.16 L112.2,336.2 L112.6,335.84 L113,335.81 L113.4,335.75 L113.8,335.71 L114.2,335.69 L114.6,336.06 L115,335.57 L115.4,335.36 L115.8,335.29 L116.2,335.95 L116.6,335.77 L117,335.19 L117.4,335.67 L117.8,335.9 L118.2,335.91 L118.6,335.41 L119,335.52 L119.4,335.09 L119.8,334.68 L120.2,335.17 L120.6,335.3 L121,334.67 L121.4,334.98 L121.8,334.19 L122.2,334.03 L122.6,333.58 L123,333.42 L123.4,333.23 L123.8,333.58 L124.2,333.17 L124.6,332.72 L125,332.34 L125.4,332.09 L125.8,332.31 L126.2,331.89 L126.6,330.91 L127,330.71 L127.4,330.08 L127.8,329.26 L128.2,328.45 L128.6,327.6 L129,326.65 L129.4,325.08 L129.8,323.52 L130.2,321.51 L130.6,319.44 L131,316.76 L131.4,313.92 L131.8,311.01 L132.2,308.22 L132.6,305.11 L133,303.44 L133.4,302.04 L133.8,302.33 L134.2,303.5 L134.6,305.93 L135,308.54 L135.4,311.21 L135.8,313.98 L136.2,316.84 L136.6,319.47 L137,321.76 L137.4,322.95 L137.8,324.15 L138.2,325.36 L138.6,326.4 L139,327.3 L139.4,328.03 L139.8,328.93 L140.2,329.49 L140.6,330.55 L141,331.17 L141.4,331.98 L141.8,332.5 L142.2,332.66 L142.6,333.05 L143,332.4 L143.4,332.4 L143.8,333.17 L144.2,333.14 L144.6,332.9 L145,333.39 L145.4,333.31 L145.8,333.42 L146.2,333.26 L146.6,333.13 L147,332.92 L147.4,333.34 L147.8,333.86 L148.2,334.12 L148.6,333.98 L149,334.06 L149.4,333.48 L149.8,333.1 L150.2,333.5 L150.6,333.28 L151,333.17 L151.4,332.37 L151.8,332.11 L152.2,332.12 L152.6,332.23 L153,332.21 L153.4,331.93 L153.8,331.17 L154.2,330.6 L154.6,330.53 L155,330.26 L155.4,329.22 L155.8,327.96 L156.2,327.24 L156.6,326.13 L157,324.61 L157.4,322.8 L157.8,320.95 L158.2,318.95 L158.6,315.96 L159,313.26 L159.4,310.64 L159.8,307.61 L160.2,304.57 L160.6,302.96 L161,302.38 L161.4,303.97 L161.8,306.22 L162.2,308.49 L162.6,311.47 L163,314.19 L163.4,316.46 L163.8,318.12 L164.2,319.4 L164.6,320.45 L165,321.8 L165.4,321.83 L165.8,321.94 L166.2,321.7 L166.6,320.88 L167,320.11 L167.4,318.7 L167.8,317.01 L168.2,314.73 L168.6,311.67 L169,308.29 L169.4,302.89 L169.8,296.68 L170.2,290.18 L170.6,283.54 L171,278.83 L171.4,277.01 L171.8,276.97 L172.2,278.76 L172.6,279.23 L173,278.92 L173.4,278.5 L173.8,278.58 L174.2,280.2 L174.6,284 L175,290.2 L175.4,296.76 L175.8,303.48 L176.2,308.41 L176.6,312.54 L177,316.36 L177.4,319.28 L177.8,321.52 L178.2,323.19 L178.6,325.05 L179,325.9 L179.4,327.19 L179.8,327.57 L180.2,328.1 L180.6,328.46 L181,329.16 L181.4,329.66 L181.8,329.47 L182.2,329.75 L182.6,330.11 L183,330.05 L183.4,330.16 L183.8,330.11 L184.2,330.08 L184.6,329.58 L185,329.11 L185.4,328.39 L185.8,328.63 L186.2,328.26 L186.6,327.22 L187,326.76 L187.4,325.77 L187.8,323.7 L188.2,322.4 L188.6,320.15 L189,317.64 L189.4,315 L189.8,312.67 L190.2,310.4 L190.6,309.19 L191,309.26 L191.4,310.51 L191.8,312.13 L192.2,313.91 L192.6,316.26 L193,317.44 L193.4,318.39 L193.8,318.98 L194.2,319.39 L194.6,318.35 L195,317.28 L195.4,316.46 L195.8,314.89 L196.2,312.63 L196.6,309.34 L197,305.6 L197.4,301.57 L197.8,298.56 L198.2,295.79 L198.6,294.11 L199,294.54 L199.4,296.12 L199.8,299.53 L200.2,303.95 L200.6,307.44 L201,311.52 L201.4,314.6 L201.8,318.04 L202.2,320.74 L202.6,322.73 L203,324.22 L203.4,325.15 L203.8,326.61 L204.2,327.62 L204.6,328.53 L205,328.97 L205.4,330.33 L205.8,330.81 L206.2,331.3 L206.6,332.01 L207,332.56 L207.4,332.63 L207.8,332.8 L208.2,333.31 L208.6,333.18 L209,333.76 L209.4,333.24 L209.8,333.86 L210.2,333.95 L210.6,334.16 L211,334.68 L211.4,334.21 L211.8,334.24 L212.2,334.69 L212.6,334.89 L213,334.8 L213.4,335.05 L213.8,335.1 L214.2,335.35 L214.6,335.28 L215,334.98 L215.4,334.8 L215.8,334.54 L216.2,334.49 L216.6,334.4 L217,335.32 L217.4,334.91 L217.8,335.21 L218.2,334.89 L218.6,335.59 L219,335.49 L219.4,335.09 L219.8,335.58 L220.2,335.84 L220.6,336.08 L221,335.44 L221.4,335.34 L221.8,335.56 L222.2,335.28 L222.6,335.45 L223,335.66 L223.4,335.8 L223.8,335.94 L224.2,335.93 L224.6,335.45 L225,335.71 L225.4,335.5 L225.8,335.13 L226.2,334.81 L226.6,335.26 L227,335.18 L227.4,334.87 L227.8,335.12 L228.2,335.13 L228.6,335.03 L229,335.21 L229.4,335.23 L229.8,335.21 L230.2,335.62 L230.6,335.69 L231,335.08 L231.4,335.33 L231.8,334.83 L232.2,335.17 L232.6,334.38 L233,334.21 L233.4,334.66 L233.8,334.49 L234.2,334.34 L234.6,333.63 L235,333.07 L235.4,333.46 L235.8,332.51 L236.2,331.92 L236.6,331.57 L237,331.39 L237.4,330.65 L237.8,329.97 L238.2,328.61 L238.6,326.55 L239,324.62 L239.4,321.18 L239.8,316.66 L240.2,311.84 L240.6,304.68 L241,295.24 L241.4,285.05 L241.8,277.61 L242.2,277.39 L242.6,284.15 L243,294.03 L243.4,303.74 L243.8,311.75 L244.2,317.6 L244.6,321.39 L245,324.43 L245.4,326.49 L245.8,328.42 L246.2,329.76 L246.6,331.09 L247,331.91 L247.4,332.41 L247.8,332.79 L248.2,332.74 L248.6,333.2 L249,333.53 L249.4,333.52 L249.8,333.67 L250.2,334.05 L250.6,334.06 L251,334.59 L251.4,334.6 L251.8,335.33 L252.2,335.4 L252.6,335.31 L253,335.23 L253.4,335.2 L253.8,335.02 L254.2,335.74 L254.6,336.04 L255,335.94 L255.4,335.92 L255.8,335.42 L256.2,335.62 L256.6,335.35 L257,335.41 L257.4,335.71 L257.8,335.44 L258.2,335.4 L258.6,335.89 L259,335.88 L259.4,336.29 L259.8,335.76 L260.2,335.46 L260.6,336.18 L261,336.18 L261.4,336.28 L261.8,336.19 L262.2,335.75 L262.6,336.39 L263,336.2 L263.4,336.54 L263.8,335.93 L264.2,335.8 L264.6,336.01 L265,335.81 L265.4,336.34 L265.8,335.98 L266.2,335.65 L266.6,335.58 L267,335.67 L267.4,336.38 L267.8,336.64 L268.2,336.55 L268.6,336.27 L269,335.76 L269.4,336.33 L269.8,335.88 L270.2,335.75 L270.6,335.94 L271,336.45 L271.4,336 L271.8,335.68 L272.2,336.38 L272.6,335.8" fill="none" stroke="#42a0dc" stroke-width="1.45" stroke-linejoin="round" stroke-linecap="round" />
<path d="M17,365.96 L17.4,366.27 L17.8,366.4 L18.2,366.61 L18.6,366.04 L19,365.82 L19.4,365.63 L19.8,365.61 L20.2,366.1 L20.6,365.71 L21,365.92 L21.4,365.69 L21.8,365.66 L22.2,365.76 L22.6,366.21 L23,366.16 L23.4,365.53 L23.8,365.5 L24.2,365.34 L24.6,365.97 L25,366.18 L25.4,366.24 L25.8,366.27 L26.2,366.18 L26.6,366.32 L27,366.2 L27.4,365.58 L27.8,365.86 L28.2,365.59 L28.6,365.7 L29,365.52 L29.4,365.25 L29.8,365.02 L30.2,364.92 L30.6,364.69 L31,364.31 L31.4,364.75 L31.8,364.81 L32.2,364.89 L32.6,364.46 L33,363.91 L33.4,363.58 L33.8,362.48 L34.2,362.09 L34.6,361.13 L35,359.76 L35.4,358.36 L35.8,357.07 L36.2,355.08 L36.6,353.09 L37,350.88 L37.4,348.11 L37.8,344.93 L38.2,342.19 L38.6,339.09 L39,336.27 L39.4,333.84 L39.8,332.24 L40.2,331.09 L40.6,331.57 L41,333.02 L41.4,334.44 L41.8,336.97 L42.2,340.02 L42.6,342.2 L43,344.91 L43.4,348.31 L43.8,351.25 L44.2,353.58 L44.6,355.18 L45,357.03 L45.4,359.04 L45.8,360.55 L46.2,361.62 L46.6,361.86 L47,362.92 L47.4,363.14 L47.8,363.76 L48.2,363.61 L48.6,364.48 L49,364.61 L49.4,364.86 L49.8,364.53 L50.2,364.84 L50.6,365 L51,365.12 L51.4,364.98 L51.8,365.33 L52.2,365.13 L52.6,365.02 L53,364.87 L53.4,365.34 L53.8,365.01 L54.2,364.99 L54.6,364.85 L55,365.37 L55.4,365.54 L55.8,365.61 L56.2,365.16 L56.6,365.36 L57,365.37 L57.4,365.14 L57.8,364.95 L58.2,365.87 L58.6,365.41 L59,365.4 L59.4,365.36 L59.8,365.68 L60.2,365.32 L60.6,365.55 L61,365.55 L61.4,366.03 L61.8,365.42 L62.2,365.48 L62.6,365.67 L63,366.23 L63.4,366.03 L63.8,365.91 L64.2,366.05 L64.6,365.74 L65,365.34 L65.4,365.63 L65.8,366.17 L66.2,366.25 L66.6,365.8 L67,366.03 L67.4,366.29 L67.8,365.83 L68.2,365.95 L68.6,365.77 L69,365.58 L69.4,365.53 L69.8,365.43 L70.2,365.53 L70.6,365.27 L71,365.51 L71.4,365.3 L71.8,365.88 L72.2,365.98 L72.6,365.43 L73,365.96 L73.4,365.61 L73.8,365.74 L74.2,365.87 L74.6,365.71 L75,365.59 L75.4,365.69 L75.8,365.43 L76.2,366.04 L76.6,365.56 L77,366.05 L77.4,365.67 L77.8,365.58 L78.2,365.63 L78.6,365.29 L79,365.23 L79.4,365.44 L79.8,365.61 L80.2,366.12 L80.6,366.46 L81,365.67 L81.4,365.8 L81.8,365.45 L82.2,365.97 L82.6,365.72 L83,366.17 L83.4,366.03 L83.8,365.54 L84.2,365.2 L84.6,365.28 L85,365.94 L85.4,365.52 L85.8,365.65 L86.2,365.6 L86.6,365.55 L87,365.98 L87.4,365.59 L87.8,365.91 L88.2,366 L88.6,366.31 L89,366.03 L89.4,366.3 L89.8,365.94 L90.2,365.91 L90.6,365.94 L91,366.17 L91.4,366.33 L91.8,365.61 L92.2,365.31 L92.6,365.57 L93,365.96 L93.4,365.85 L93.8,365.57 L94.2,366.1 L94.6,365.67 L95,365.26 L95.4,365.04 L95.8,364.91 L96.2,365.55 L96.6,365.21 L97,365.66 L97.4,366.01 L97.8,366.3 L98.2,366.23 L98.6,365.81 L99,365.82 L99.4,366.03 L99.8,366 L100.2,365.55 L100.6,365.82 L101,365.28 L101.4,365.23 L101.8,365.89 L102.2,365.66 L102.6,365.35 L103,365.71 L103.4,365.54 L103.8,365.01 L104.2,364.79 L104.6,364.91 L105,365.03 L105.4,365.68 L105.8,365.28 L106.2,365.69 L106.6,365.87 L107,365.51 L107.4,365.91 L107.8,365.85 L108.2,365.54 L108.6,365.17 L109,365.19 L109.4,365.63 L109.8,365.45 L110.2,365.01 L110.6,364.99 L111,365.06 L111.4,364.8 L111.8,365.05 L112.2,364.61 L112.6,365.18 L113,364.78 L113.4,364.51 L113.8,364.85 L114.2,364.71 L114.6,365.2 L115,365.01 L115.4,364.93 L115.8,365.18 L116.2,364.65 L116.6,364.91 L117,364.91 L117.4,364.65 L117.8,365.04 L118.2,364.24 L118.6,364.68 L119,364.12 L119.4,364.52 L119.8,363.97 L120.2,363.57 L120.6,363.78 L121,364.24 L121.4,363.71 L121.8,363.63 L122.2,363.63 L122.6,363.18 L123,363.17 L123.4,362.53 L123.8,362.56 L124.2,362.75 L124.6,362.26 L125,361.75 L125.4,361.15 L125.8,361.31 L126.2,360.84 L126.6,360.82 L127,360.29 L127.4,359.01 L127.8,358.77 L128.2,358.12 L128.6,357.04 L129,355.78 L129.4,354.11 L129.8,352.27 L130.2,350.04 L130.6,347.39 L131,344.08 L131.4,340.51 L131.8,337.52 L132.2,334.31 L132.6,331.17 L133,330.06 L133.4,330.23 L133.8,331.74 L134.2,334.66 L134.6,338.15 L135,341.16 L135.4,344.63 L135.8,347.31 L136.2,349.77 L136.6,351.7 L137,353.9 L137.4,355.08 L137.8,356.69 L138.2,357.27 L138.6,358.27 L139,359.29 L139.4,359.82 L139.8,359.99 L140.2,359.98 L140.6,360.55 L141,360.91 L141.4,361.6 L141.8,361.99 L142.2,362.47 L142.6,362.23 L143,362.16 L143.4,362.34 L143.8,362.66 L144.2,362.17 L144.6,362.12 L145,362.06 L145.4,362.23 L145.8,362.29 L146.2,362.99 L146.6,362.54 L147,363.06 L147.4,362.64 L147.8,362.34 L148.2,362.95 L148.6,362.31 L149,362 L149.4,361.83 L149.8,361.64 L150.2,361.81 L150.6,361.63 L151,361.42 L151.4,361.08 L151.8,361.5 L152.2,360.91 L152.6,360.68 L153,360.75 L153.4,360.91 L153.8,360.53 L154.2,360.16 L154.6,359.7 L155,359.24 L155.4,358.69 L155.8,357.28 L156.2,355.98 L156.6,355.3 L157,354.11 L157.4,352.63 L157.8,351.11 L158.2,348.49 L158.6,346.32 L159,343.34 L159.4,340.18 L159.8,336.84 L160.2,333.99 L160.6,332.27 L161,331.62 L161.4,332.63 L161.8,333.97 L162.2,336.71 L162.6,338.95 L163,341.92 L163.4,343.92 L163.8,346.41 L164.2,348.3 L164.6,348.9 L165,350 L165.4,350.01 L165.8,350.04 L166.2,349.62 L166.6,349.36 L167,348.28 L167.4,347.52 L167.8,345.87 L168.2,343.44 L168.6,340.64 L169,336.37 L169.4,331.45 L169.8,325.71 L170.2,319.16 L170.6,314.24 L171,309.94 L171.4,308.52 L171.8,310.04 L172.2,311.98 L172.6,312.86 L173,312.69 L173.4,311.32 L173.8,309.84 L174.2,310.12 L174.6,311.96 L175,315.94 L175.4,322.16 L175.8,327.49 L176.2,333.08 L176.6,338.29 L177,342.44 L177.4,345.12 L177.8,348.12 L178.2,350.22 L178.6,352 L179,353.73 L179.4,354.88 L179.8,355.61 L180.2,356.46 L180.6,356.84 L181,357.3 L181.4,357.95 L181.8,358.18 L182.2,358.13 L182.6,357.82 L183,358.47 L183.4,358.31 L183.8,358.28 L184.2,358.03 L184.6,358.06 L185,357.75 L185.4,357.8 L185.8,357.29 L186.2,356.64 L186.6,356.1 L187,354.93 L187.4,353.77 L187.8,352.58 L188.2,350.96 L188.6,349.02 L189,346.94 L189.4,344.31 L189.8,341.97 L190.2,339.89 L190.6,339.02 L191,339.49 L191.4,340.85 L191.8,343.03 L192.2,344.2 L192.6,345.84 L193,347.52 L193.4,348.3 L193.8,349.11 L194.2,348.63 L194.6,348.63 L195,347.65 L195.4,346.44 L195.8,344.18 L196.2,341.99 L196.6,339.57 L197,336.34 L197.4,332.56 L197.8,328.83 L198.2,325.6 L198.6,324.74 L199,325.25 L199.4,327.84 L199.8,331.38 L200.2,335.22 L200.6,339.6 L201,342.67 L201.4,346.4 L201.8,348.46 L202.2,351.3 L202.6,353.04 L203,354.39 L203.4,356.08 L203.8,356.91 L204.2,357.71 L204.6,357.98 L205,359.15 L205.4,359.79 L205.8,359.91 L206.2,360.04 L206.6,360.59 L207,361.51 L207.4,362 L207.8,361.94 L208.2,361.6 L208.6,362.34 L209,362.14 L209.4,362.66 L209.8,362.74 L210.2,363.31 L210.6,362.81 L211,363.29 L211.4,363.48 L211.8,362.91 L212.2,363.25 L212.6,363.17 L213,363.58 L213.4,364.06 L213.8,364.01 L214.2,363.85 L214.6,363.91 L215,363.61 L215.4,363.72 L215.8,363.43 L216.2,363.93 L216.6,363.52 L217,363.81 L217.4,363.61 L217.8,363.92 L218.2,363.57 L218.6,363.39 L219,363.92 L219.4,364.27 L219.8,364.6 L220.2,364.55 L220.6,364.85 L221,364.14 L221.4,364.31 L221.8,364.4 L222.2,363.98 L222.6,363.77 L223,363.77 L223.4,364.06 L223.8,364.45 L224.2,364.55 L224.6,364.46 L225,363.92 L225.4,364.32 L225.8,364.28 L226.2,363.92 L226.6,364.2 L227,363.95 L227.4,363.89 L227.8,363.99 L228.2,364.33 L228.6,363.82 L229,363.91 L229.4,363.73 L229.8,364.07 L230.2,364.34 L230.6,363.88 L231,364.11 L231.4,363.92 L231.8,363.55 L232.2,363.4 L232.6,363.55 L233,363.83 L233.4,363.68 L233.8,362.94 L234.2,363.31 L234.6,363.17 L235,362.83 L235.4,362.35 L235.8,362.17 L236.2,362.14 L236.6,361.45 L237,360.7 L237.4,360.71 L237.8,359.79 L238.2,358.35 L238.6,357.67 L239,355.42 L239.4,353.06 L239.8,349.95 L240.2,345.28 L240.6,338.57 L241,328.11 L241.4,315.88 L241.8,305.47 L242.2,303.47 L242.6,312.46 L243,324.82 L243.4,335.76 L243.8,343.89 L244.2,348.82 L244.6,352.75 L245,355.09 L245.4,357.41 L245.8,358.89 L246.2,360.09 L246.6,360.99 L247,361.4 L247.4,362.17 L247.8,361.91 L248.2,362.37 L248.6,362.21 L249,362.76 L249.4,363.21 L249.8,363.09 L250.2,363.64 L250.6,363.55 L251,363.35 L251.4,363.3 L251.8,363.71 L252.2,363.74 L252.6,363.45 L253,363.61 L253.4,364.38 L253.8,364.25 L254.2,364.42 L254.6,364.27 L255,363.86 L255.4,364.23 L255.8,364.02 L256.2,363.85 L256.6,364.28 L257,364.54 L257.4,364.01 L257.8,364.71 L258.2,364.12 L258.6,364 L259,364.12 L259.4,364.65 L259.8,364.84 L260.2,364.93 L260.6,364.67 L261,365.04 L261.4,364.43 L261.8,364.99 L262.2,364.34 L262.6,364.15 L263,364.67 L263.4,364.92 L263.8,364.94 L264.2,364.53 L264.6,364.97 L265,364.82 L265.4,364.44 L265.8,364.17 L266.2,364.94 L266.6,364.35 L267,364.26 L267.4,364.35 L267.8,364.93 L268.2,365.14 L268.6,365.24 L269,365.08 L269.4,364.38 L269.8,364.8 L270.2,364.44 L270.6,365.04 L271,365.33 L271.4,364.56 L271.8,364.88 L272.2,364.53 L272.6,364.24" fill="none" stroke="#f9a443" stroke-width="1.45" stroke-linejoin="round" stroke-linecap="round" />
<path d="M17,395.06 L17.4,395.47 L17.8,395.6 L18.2,395.94 L18.6,395.41 L19,395.16 L19.4,395.51 L19.8,395.59 L20.2,395.26 L20.6,395.49 L21,395.29 L21.4,395.57 L21.8,395.03 L22.2,394.88 L22.6,395.48 L23,395.2 L23.4,394.96 L23.8,395.39 L24.2,395.39 L24.6,394.89 L25,395.06 L25.4,395.23 L25.8,394.78 L26.2,395.05 L26.6,394.62 L27,394.62 L27.4,394.34 L27.8,394.31 L28.2,395.03 L28.6,394.75 L29,395.18 L29.4,394.78 L29.8,394.72 L30.2,394.91 L30.6,394.75 L31,394.03 L31.4,394.11 L31.8,394.09 L32.2,393.51 L32.6,393.01 L33,393.38 L33.4,392.94 L33.8,392.11 L34.2,391.59 L34.6,390.61 L35,390.11 L35.4,388.78 L35.8,386.82 L36.2,385.51 L36.6,382.86 L37,380.38 L37.4,377.4 L37.8,375.08 L38.2,371.73 L38.6,369.07 L39,366.14 L39.4,364.31 L39.8,363.34 L40.2,363.02 L40.6,363.64 L41,365.25 L41.4,367.52 L41.8,370.41 L42.2,372.93 L42.6,376.08 L43,378.76 L43.4,381.93 L43.8,384.59 L44.2,385.88 L44.6,387.34 L45,389.2 L45.4,390.41 L45.8,390.8 L46.2,391.96 L46.6,392.96 L47,393.07 L47.4,393.19 L47.8,393.57 L48.2,394.21 L48.6,393.89 L49,393.85 L49.4,393.78 L49.8,394.23 L50.2,394.32 L50.6,394.18 L51,394.29 L51.4,394.01 L51.8,394.19 L52.2,394.97 L52.6,394.95 L53,394.65 L53.4,395.19 L53.8,394.88 L54.2,394.64 L54.6,394.34 L55,394.32 L55.4,394.38 L55.8,394.45 L56.2,395.13 L56.6,394.84 L57,394.71 L57.4,395.01 L57.8,395.46 L58.2,395.05 L58.6,395.34 L59,395.09 L59.4,395.17 L59.8,395.25 L60.2,395.63 L60.6,395.63 L61,395.38 L61.4,395.6 L61.8,395.23 L62.2,395.09 L62.6,395.6 L63,395.42 L63.4,395.57 L63.8,395.18 L64.2,395.61 L64.6,395.5 L65,395.09 L65.4,395.59 L65.8,395.35 L66.2,395.12 L66.6,394.94 L67,394.7 L67.4,394.69 L67.8,395.18 L68.2,394.84 L68.6,394.81 L69,394.99 L69.4,395.17 L69.8,395.08 L70.2,395.45 L70.6,395.09 L71,395.03 L71.4,395.07 L71.8,394.79 L72.2,394.75 L72.6,394.66 L73,395.2 L73.4,394.86 L73.8,395.23 L74.2,394.95 L74.6,395.25 L75,395.39 L75.4,395.15 L75.8,395.62 L76.2,395.56 L76.6,395.43 L77,394.86 L77.4,394.96 L77.8,394.87 L78.2,395.03 L78.6,395.56 L79,395.73 L79.4,395.01 L79.8,395.3 L80.2,395.68 L80.6,395.46 L81,394.91 L81.4,395.43 L81.8,395.23 L82.2,395.69 L82.6,395.79 L83,395.79 L83.4,395.88 L83.8,395.06 L84.2,395.42 L84.6,395.09 L85,394.77 L85.4,394.87 L85.8,395.12 L86.2,394.65 L86.6,394.88 L87,395.31 L87.4,395.22 L87.8,395.21 L88.2,394.97 L88.6,395.53 L89,395.06 L89.4,395.28 L89.8,395.34 L90.2,394.72 L90.6,395.43 L91,394.99 L91.4,395.54 L91.8,395.73 L92.2,395.78 L92.6,395.76 L93,395.29 L93.4,395.12 L93.8,394.94 L94.2,395.45 L94.6,394.77 L95,394.57 L95.4,395.29 L95.8,395.46 L96.2,395.44 L96.6,395.68 L97,395.35 L97.4,395.5 L97.8,395.18 L98.2,395.49 L98.6,394.79 L99,394.84 L99.4,395 L99.8,395.28 L100.2,395.03 L100.6,395.18 L101,395.52 L101.4,395.12 L101.8,394.72 L102.2,394.36 L102.6,395.03 L103,394.94 L103.4,394.81 L103.8,394.87 L104.2,394.49 L104.6,394.42 L105,394.4 L105.4,394.4 L105.8,395 L106.2,394.64 L106.6,394.32 L107,394.95 L107.4,394.91 L107.8,394.36 L108.2,394.75 L108.6,394.92 L109,394.96 L109.4,395.09 L109.8,394.79 L110.2,394.44 L110.6,394.8 L111,394.82 L111.4,394.9 L111.8,394.41 L112.2,394.36 L112.6,394.64 L113,394.45 L113.4,394.56 L113.8,394.47 L114.2,394.69 L114.6,394.37 L115,394.35 L115.4,394.66 L115.8,394.26 L116.2,393.92 L116.6,394.2 L117,393.8 L117.4,394.31 L117.8,393.94 L118.2,394.36 L118.6,394.15 L119,393.64 L119.4,393.73 L119.8,393.9 L120.2,393.73 L120.6,393.75 L121,393.43 L121.4,393.82 L121.8,393.15 L122.2,393.39 L122.6,392.65 L123,392.71 L123.4,392.19 L123.8,391.91 L124.2,392.12 L124.6,392.39 L125,391.75 L125.4,391.37 L125.8,391.05 L126.2,390.79 L126.6,390.11 L127,389.45 L127.4,389.23 L127.8,388.32 L128.2,387.09 L128.6,386.26 L129,385.17 L129.4,383.05 L129.8,380.43 L130.2,378.08 L130.6,375.95 L131,372.44 L131.4,368.97 L131.8,366.15 L132.2,362.64 L132.6,360.82 L133,359.22 L133.4,359.39 L133.8,361.12 L134.2,363.28 L134.6,366.91 L135,370.12 L135.4,373.62 L135.8,376.68 L136.2,378.66 L136.6,381.36 L137,383.48 L137.4,384.59 L137.8,386.06 L138.2,386.84 L138.6,387.93 L139,388.98 L139.4,389.36 L139.8,389.93 L140.2,389.98 L140.6,390.91 L141,391.23 L141.4,391.7 L141.8,391.27 L142.2,391.83 L142.6,391.51 L143,391.9 L143.4,391.8 L143.8,392.48 L144.2,392.03 L144.6,392.23 L145,392.34 L145.4,392.33 L145.8,392.01 L146.2,392.48 L146.6,393 L147,392.62 L147.4,392.98 L147.8,392.57 L148.2,392.3 L148.6,392.34 L149,392.84 L149.4,392.84 L149.8,392.65 L150.2,391.92 L150.6,391.94 L151,391.45 L151.4,391.19 L151.8,391.31 L152.2,391.12 L152.6,390.78 L153,390.9 L153.4,391.06 L153.8,391.1 L154.2,390.88 L154.6,390.04 L155,389.11 L155.4,389.1 L155.8,388.11 L156.2,387.05 L156.6,386.4 L157,385.05 L157.4,383.89 L157.8,382.01 L158.2,380.1 L158.6,376.96 L159,374.71 L159.4,371.59 L159.8,368.72 L160.2,365.73 L160.6,363.59 L161,362.72 L161.4,362.99 L161.8,365.23 L162.2,366.99 L162.6,369.48 L163,372.43 L163.4,374.54 L163.8,376.49 L164.2,378.18 L164.6,379.48 L165,380.21 L165.4,381.46 L165.8,381.95 L166.2,381.64 L166.6,381.7 L167,380.76 L167.4,379.08 L167.8,377.81 L168.2,374.82 L168.6,371.88 L169,367.86 L169.4,362.01 L169.8,356.64 L170.2,350.33 L170.6,345 L171,342.09 L171.4,340.93 L171.8,341.56 L172.2,342.62 L172.6,343.98 L173,343.34 L173.4,342.14 L173.8,340.99 L174.2,341.89 L174.6,345.22 L175,350.75 L175.4,356.82 L175.8,363.37 L176.2,368.42 L176.6,372.61 L177,376.63 L177.4,379.06 L177.8,382.04 L178.2,383.47 L178.6,384.78 L179,385.69 L179.4,386.49 L179.8,387.35 L180.2,388.24 L180.6,388.05 L181,388.44 L181.4,388.64 L181.8,389.53 L182.2,389.47 L182.6,389.48 L183,389.98 L183.4,389.64 L183.8,389.43 L184.2,389.26 L184.6,388.9 L185,389.04 L185.4,388.46 L185.8,388.12 L186.2,387.65 L186.6,387.16 L187,386.31 L187.4,384.93 L187.8,383.88 L188.2,382.34 L188.6,380.44 L189,378.08 L189.4,375.51 L189.8,373.28 L190.2,372.28 L190.6,371.59 L191,372.28 L191.4,373.28 L191.8,374.78 L192.2,376.06 L192.6,378.07 L193,379.01 L193.4,379.87 L193.8,380.46 L194.2,380.56 L194.6,380.17 L195,378.89 L195.4,376.77 L195.8,375.08 L196.2,371.71 L196.6,368.54 L197,365.44 L197.4,361.78 L197.8,358.05 L198.2,355.58 L198.6,353.81 L199,354.09 L199.4,356.55 L199.8,360.76 L200.2,364.24 L200.6,368.35 L201,372.32 L201.4,375.44 L201.8,378.87 L202.2,380.76 L202.6,382.5 L203,384.94 L203.4,385.65 L203.8,386.67 L204.2,387.73 L204.6,389.01 L205,389.33 L205.4,389.95 L205.8,390.67 L206.2,390.99 L206.6,391.5 L207,391.06 L207.4,391.5 L207.8,391.3 L208.2,392.13 L208.6,391.77 L209,391.75 L209.4,392.15 L209.8,392.59 L210.2,392.24 L210.6,392.76 L211,392.51 L211.4,392.66 L211.8,392.49 L212.2,393.14 L212.6,393.57 L213,393.74 L213.4,393.39 L213.8,393.19 L214.2,393.84 L214.6,394.01 L215,394.26 L215.4,393.85 L215.8,394.14 L216.2,394.09 L216.6,394.19 L217,393.98 L217.4,394.17 L217.8,393.98 L218.2,393.69 L218.6,393.77 L219,393.38 L219.4,393.85 L219.8,393.73 L220.2,393.53 L220.6,394.06 L221,394.04 L221.4,393.83 L221.8,394.34 L222.2,394.59 L222.6,394.2 L223,394.15 L223.4,393.58 L223.8,393.68 L224.2,394.36 L224.6,394.19 L225,394.6 L225.4,393.82 L225.8,393.46 L226.2,393.33 L226.6,393.29 L227,393.95 L227.4,394.47 L227.8,394.48 L228.2,394.32 L228.6,394.01 L229,393.87 L229.4,393.54 L229.8,393.65 L230.2,393.41 L230.6,393.97 L231,393.94 L231.4,393.74 L231.8,394.1 L232.2,393.69 L232.6,394.04 L233,394.01 L233.4,393.87 L233.8,393.72 L234.2,393.64 L234.6,393.8 L235,393.89 L235.4,393.4 L235.8,393.46 L236.2,392.64 L236.6,392.77 L237,392.57 L237.4,391.96 L237.8,390.8 L238.2,390.58 L238.6,389.31 L239,387.75 L239.4,386.22 L239.8,382.37 L240.2,377.52 L240.6,369.26 L241,358.31 L241.4,344.45 L241.8,335.93 L242.2,340.9 L242.6,353.89 L243,366.64 L243.4,375.31 L243.8,381.06 L244.2,384.72 L244.6,387.31 L245,388.55 L245.4,389.93 L245.8,391.12 L246.2,391.76 L246.6,391.82 L247,392.22 L247.4,392.15 L247.8,392.6 L248.2,393.18 L248.6,392.76 L249,393.28 L249.4,393.85 L249.8,393.51 L250.2,393.44 L250.6,393.81 L251,393.48 L251.4,393.47 L251.8,393.84 L252.2,393.93 L252.6,393.64 L253,393.56 L253.4,393.84 L253.8,394.35 L254.2,393.93 L254.6,394.23 L255,394.23 L255.4,393.98 L255.8,394.02 L256.2,394.45 L256.6,393.94 L257,394.15 L257.4,394.19 L257.8,393.85 L258.2,394 L258.6,393.83 L259,393.99 L259.4,393.7 L259.8,394.11 L260.2,394.53 L260.6,394.8 L261,394.98 L261.4,394.38 L261.8,394.66 L262.2,394.35 L262.6,394.57 L263,394.43 L263.4,394.64 L263.8,394.39 L264.2,394.84 L264.6,394.56 L265,394.76 L265.4,394.24 L265.8,394.55 L266.2,394.17 L266.6,394.2 L267,394.19 L267.4,394.47 L267.8,394.51 L268.2,394.23 L268.6,394.76 L269,394.11 L269.4,394.25 L269.8,393.97 L270.2,393.82 L270.6,393.87 L271,394.61 L271.4,394.03 L271.8,394.46 L272.2,394.51 L272.6,394.8" fill="none" stroke="#3b1b1c" stroke-width="1.45" stroke-linejoin="round" stroke-linecap="round" />
<rect x="16.6" y="243.2" width="256.6" height="153.6" fill="none" stroke="#202020" stroke-width="1.35"/>
<rect x="59.4" y="301.0" width="39.2" height="80.6" fill="#fff" stroke="#202020" stroke-width="1.1"/>
<path d="M60,375.43 L60.45,376.47 L60.9,376.35 L61.35,376.03 L61.8,375.5 L62.25,376.64 L62.7,376.66 L63.15,376.06 L63.6,376.04 L64.05,375.49 L64.5,375.02 L64.95,375.74 L65.4,376.16 L65.85,375.12 L66.3,376.56 L66.75,375.43 L67.2,375.42 L67.65,375.03 L68.1,376.93 L68.55,376.41 L69,376.67 L69.45,376.14 L69.9,374.97 L70.35,375.55 L70.8,375.87 L71.25,375.09 L71.7,376.74 L72.15,375.54 L72.6,375.07 L73.05,376.32 L73.5,374.84 L73.95,376.31 L74.4,375.18 L74.85,375.16 L75.3,374.48 L75.75,374.44 L76.2,373.44 L76.65,372.62 L77.1,373.55 L77.55,371.23 L78,370.78 L78.45,367.41 L78.9,365.84 L79.35,361.55 L79.8,356 L80.25,349.63 L80.7,341.94 L81.15,334.3 L81.6,325.05 L82.05,318.22 L82.5,312.55 L82.95,306.71 L83.4,305.8 L83.85,305.86 L84.3,307.52 L84.75,312.25 L85.2,318.99 L85.65,326.6 L86.1,336.16 L86.55,343.35 L87,350.67 L87.45,358.05 L87.9,365.33 L88.35,370.39 L88.8,372.28 L89.25,373.71 L89.7,374.14 L90.15,374.1 L90.6,372.31 L91.05,372.63 L91.5,372.75 L91.95,373.69 L92.4,373.72 L92.85,374.33 L93.3,374.98 L93.75,376.24 L94.2,375.1 L94.65,375.6 L95.1,375.01 L95.55,374.6 L96,374.51 L96.45,376 L96.9,375.92 L97.35,375.1 L97.8,375.71" fill="none" stroke="#ea4046" stroke-width="1.3" stroke-linejoin="round" stroke-linecap="round" />
<path d="M60,377.02 L60.45,375.37 L60.9,375.13 L61.35,377.07 L61.8,375.43 L62.25,375.3 L62.7,376.35 L63.15,375.73 L63.6,376.81 L64.05,375.48 L64.5,376.93 L64.95,375.64 L65.4,376.19 L65.85,376.85 L66.3,376.34 L66.75,376.81 L67.2,376.37 L67.65,375.04 L68.1,376.7 L68.55,376.1 L69,375.52 L69.45,375.26 L69.9,376.54 L70.35,375.95 L70.8,376.57 L71.25,376.11 L71.7,376.29 L72.15,375.25 L72.6,375.18 L73.05,374.6 L73.5,373.42 L73.95,374.31 L74.4,372.52 L74.85,372.99 L75.3,372.95 L75.75,372.04 L76.2,370.79 L76.65,371.94 L77.1,371.31 L77.55,369.79 L78,368.51 L78.45,367.8 L78.9,364.23 L79.35,362.37 L79.8,356.7 L80.25,350.72 L80.7,343.47 L81.15,336.27 L81.6,328.89 L82.05,320.23 L82.5,314.03 L82.95,309.87 L83.4,306.95 L83.85,307.68 L84.3,310.19 L84.75,314.77 L85.2,321.75 L85.65,329.03 L86.1,336.11 L86.55,345.7 L87,351.52 L87.45,357.8 L87.9,362.76 L88.35,367.73 L88.8,370.68 L89.25,371.87 L89.7,373.04 L90.15,373.35 L90.6,375.51 L91.05,374.4 L91.5,375.34 L91.95,375.04 L92.4,375.05 L92.85,375.13 L93.3,374.8 L93.75,374.49 L94.2,375.48 L94.65,376 L95.1,375.69 L95.55,374.79 L96,375.77 L96.45,374.48 L96.9,375.18 L97.35,376.01 L97.8,376.19" fill="none" stroke="#42a0dc" stroke-width="1.3" stroke-linejoin="round" stroke-linecap="round" />
<path d="M60,376.95 L60.45,376.99 L60.9,376.87 L61.35,375.24 L61.8,376.25 L62.25,375.9 L62.7,376.11 L63.15,375.3 L63.6,375.41 L64.05,375.91 L64.5,375.45 L64.95,375.91 L65.4,375.04 L65.85,375.15 L66.3,376.39 L66.75,375.81 L67.2,375.98 L67.65,376.42 L68.1,375.66 L68.55,375.04 L69,376.49 L69.45,376.09 L69.9,376.22 L70.35,376.13 L70.8,376.83 L71.25,375.6 L71.7,376.39 L72.15,375.59 L72.6,375.99 L73.05,376.16 L73.5,375.46 L73.95,374.99 L74.4,375.75 L74.85,376.21 L75.3,375.91 L75.75,375.55 L76.2,375.8 L76.65,374.63 L77.1,374.21 L77.55,373.81 L78,373.72 L78.45,370.84 L78.9,368.33 L79.35,365.05 L79.8,360.69 L80.25,355.88 L80.7,350.27 L81.15,343.9 L81.6,335.83 L82.05,329.15 L82.5,323.2 L82.95,319.02 L83.4,317.79 L83.85,317.45 L84.3,319.27 L84.75,323.37 L85.2,330.63 L85.65,337.28 L86.1,344.6 L86.55,350.21 L87,356.92 L87.45,362.81 L87.9,366.28 L88.35,370.1 L88.8,370.79 L89.25,373.95 L89.7,373.13 L90.15,374.48 L90.6,374.07 L91.05,375.85 L91.5,375.72 L91.95,376.35 L92.4,376.03 L92.85,376.33 L93.3,375.51 L93.75,376.4 L94.2,375.91 L94.65,375.1 L95.1,376.35 L95.55,375.14 L96,374.77 L96.45,374.52 L96.9,375.29 L97.35,374.75 L97.8,376.21" fill="none" stroke="#f9a443" stroke-width="1.3" stroke-linejoin="round" stroke-linecap="round" />
<path d="M60,376.52 L60.45,376.77 L60.9,375.45 L61.35,377.07 L61.8,375.45 L62.25,376.4 L62.7,375.23 L63.15,376.55 L63.6,375.33 L64.05,376.43 L64.5,376.46 L64.95,376.53 L65.4,375.87 L65.85,376.71 L66.3,376.95 L66.75,375.2 L67.2,375.99 L67.65,376.86 L68.1,376.42 L68.55,375.82 L69,375.53 L69.45,376.82 L69.9,375.07 L70.35,376.41 L70.8,376.57 L71.25,375.19 L71.7,375.52 L72.15,375.47 L72.6,375.93 L73.05,375.57 L73.5,376.62 L73.95,376.67 L74.4,375.43 L74.85,376.57 L75.3,374.88 L75.75,374.87 L76.2,375.9 L76.65,375.96 L77.1,375.64 L77.55,375.38 L78,374.14 L78.45,371.46 L78.9,370.21 L79.35,367.5 L79.8,361.76 L80.25,357.42 L80.7,350.62 L81.15,343.77 L81.6,337.32 L82.05,330.88 L82.5,325.61 L82.95,319.62 L83.4,318.15 L83.85,319.26 L84.3,321.24 L84.75,325.26 L85.2,330.68 L85.65,338.33 L86.1,344.69 L86.55,352.21 L87,358.21 L87.45,362.71 L87.9,367.46 L88.35,369.63 L88.8,371.85 L89.25,373.99 L89.7,373.74 L90.15,374.16 L90.6,375.26 L91.05,375.15 L91.5,376.12 L91.95,374.91 L92.4,375.17 L92.85,374.55 L93.3,375.33 L93.75,375.05 L94.2,375.31 L94.65,375.93 L95.1,374.47 L95.55,376.37 L96,375.8 L96.45,375.99 L96.9,375.44 L97.35,375.51 L97.8,375.16" fill="none" stroke="#3b1b1c" stroke-width="1.8" stroke-linejoin="round" stroke-linecap="round" />
<path d="M73.2,358.9 L73.2,364.5" stroke="#111" stroke-width="1.8"/>
<polygon points="70.8,364 75.6,364 73.2,368" fill="#111"/>
<line x1="271.1" y1="396.8" x2="271.1" y2="400.5" stroke="#202020" stroke-width="1.1"/>
<line x1="244.51" y1="396.8" x2="244.51" y2="400.5" stroke="#202020" stroke-width="1.1"/>
<line x1="217.91" y1="396.8" x2="217.91" y2="400.5" stroke="#202020" stroke-width="1.1"/>
<line x1="191.32" y1="396.8" x2="191.32" y2="400.5" stroke="#202020" stroke-width="1.1"/>
<line x1="164.72" y1="396.8" x2="164.72" y2="400.5" stroke="#202020" stroke-width="1.1"/>
<line x1="138.13" y1="396.8" x2="138.13" y2="400.5" stroke="#202020" stroke-width="1.1"/>
<line x1="111.54" y1="396.8" x2="111.54" y2="400.5" stroke="#202020" stroke-width="1.1"/>
<line x1="84.94" y1="396.8" x2="84.94" y2="400.5" stroke="#202020" stroke-width="1.1"/>
<line x1="58.35" y1="396.8" x2="58.35" y2="400.5" stroke="#202020" stroke-width="1.1"/>
<line x1="31.75" y1="396.8" x2="31.75" y2="400.5" stroke="#202020" stroke-width="1.1"/>
<text x="24.39" y="413.1" font-size="13.6" fill="#111" textLength="22.43" lengthAdjust="spacingAndGlyphs" stroke="#111" stroke-width="0.2">180</text>
<text x="52.85" y="413.1" font-size="13.6" fill="#111" textLength="23.39" lengthAdjust="spacingAndGlyphs" stroke="#111" stroke-width="0.2">160</text>
<text x="79.5" y="413.1" font-size="13.6" fill="#111" textLength="22.32" lengthAdjust="spacingAndGlyphs" stroke="#111" stroke-width="0.2">140</text>
<text x="104.72" y="413.1" font-size="13.6" fill="#111" textLength="21.78" lengthAdjust="spacingAndGlyphs" stroke="#111" stroke-width="0.2">120</text>
<text x="131.02" y="413.1" font-size="13.6" fill="#111" textLength="21.78" lengthAdjust="spacingAndGlyphs" stroke="#111" stroke-width="0.2">100</text>
<text x="159.77" y="413.1" font-size="13.6" fill="#111" textLength="15.66" lengthAdjust="spacingAndGlyphs" stroke="#111" stroke-width="0.2">80</text>
<text x="187.31" y="413.1" font-size="13.6" fill="#111" textLength="15.41" lengthAdjust="spacingAndGlyphs" stroke="#111" stroke-width="0.2">60</text>
<text x="213.33" y="413.1" font-size="13.6" fill="#111" textLength="14.97" lengthAdjust="spacingAndGlyphs" stroke="#111" stroke-width="0.2">40</text>
<text x="239.99" y="413.1" font-size="13.6" fill="#111" textLength="15.84" lengthAdjust="spacingAndGlyphs" stroke="#111" stroke-width="0.2">20</text>
<text x="268.94" y="413.1" font-size="13.6" fill="#111" textLength="7.76" lengthAdjust="spacingAndGlyphs" stroke="#111" stroke-width="0.2">0</text>
<text x="148.35" y="430.1" font-size="13.9" fill="#111" textLength="28.51" lengthAdjust="spacingAndGlyphs" stroke="#111" stroke-width="0.2">ppm</text>
<text transform="translate(9.7,360.7) rotate(-90)" x="-1.28" y="0" font-size="14.2" fill="#111" stroke="#111" stroke-width="0.2" textLength="85.87" lengthAdjust="spacingAndGlyphs">Intensity (a.u)</text>
<text x="6.11" y="230.4" font-size="19" fill="#111" textLength="9.89" lengthAdjust="spacingAndGlyphs" stroke="#111" stroke-width="0.2">c</text>
<text x="27.14" y="269.2" font-size="14" fill="#111" textLength="27.4" lengthAdjust="spacingAndGlyphs" stroke="#111" stroke-width="0.4">C=O</text>
<text x="126.62" y="275.7" font-size="13.51" fill="#111" textLength="8.42" lengthAdjust="spacingAndGlyphs" stroke="#111" stroke-width="0.4">C</text>
<text x="134.85" y="275.7" font-size="8.17" fill="#111" textLength="3.32" lengthAdjust="spacingAndGlyphs" stroke="#111" stroke-width="0.4">1</text>
<text x="154.2" y="277.2" font-size="13.24" fill="#111" textLength="8.64" lengthAdjust="spacingAndGlyphs" stroke="#111" stroke-width="0.4">C</text>
<text x="162.83" y="277.2" font-size="8.17" fill="#111" textLength="4.63" lengthAdjust="spacingAndGlyphs" stroke="#111" stroke-width="0.4">4</text>
<text x="157.7" y="255.7" font-size="12.97" fill="#111" textLength="8.64" lengthAdjust="spacingAndGlyphs" stroke="#111" stroke-width="0.4">C</text>
<text x="166.27" y="255.7" font-size="7.46" fill="#111" textLength="4.57" lengthAdjust="spacingAndGlyphs" stroke="#111" stroke-width="0.4">5</text>
<text x="174.1" y="254.7" font-size="13.11" fill="#111" textLength="8.64" lengthAdjust="spacingAndGlyphs" stroke="#111" stroke-width="0.4">C</text>
<text x="182.7" y="254.7" font-size="7.18" fill="#111" textLength="4.22" lengthAdjust="spacingAndGlyphs" stroke="#111" stroke-width="0.4">3</text>
<text x="183" y="285.2" font-size="12.43" fill="#111" textLength="8.64" lengthAdjust="spacingAndGlyphs" stroke="#111" stroke-width="0.4">C</text>
<text x="191.46" y="285.2" font-size="7.32" fill="#111" textLength="4.9" lengthAdjust="spacingAndGlyphs" stroke="#111" stroke-width="0.4">6</text>
<text x="192.2" y="266" font-size="12.16" fill="#111" textLength="8.64" lengthAdjust="spacingAndGlyphs" stroke="#111" stroke-width="0.4">C</text>
<text x="200.56" y="266" font-size="7.32" fill="#111" textLength="3.79" lengthAdjust="spacingAndGlyphs" stroke="#111" stroke-width="0.4">2</text>
<text x="245.76" y="259.6" font-size="14" fill="#111" textLength="18.52" lengthAdjust="spacingAndGlyphs" stroke="#111" stroke-width="0.4">CH</text>
<text x="263.26" y="259.6" font-size="8" fill="#111" textLength="4.68" lengthAdjust="spacingAndGlyphs" stroke="#111" stroke-width="0.4">3</text>
<polyline points="61.6,251.8 59.9,251.8 59.9,290.2 61.6,290.2" fill="none" stroke="#777" stroke-width="0.6" stroke-linejoin="round"/>
<polyline points="119,251.8 120.7,251.8 120.7,290.2 119,290.2" fill="none" stroke="#777" stroke-width="0.6" stroke-linejoin="round"/>
<text x="121.6" y="291.6" font-size="5.6" fill="#444">n</text>
<polyline points="57.8,264.8 60.6,266.6 62,268" fill="none" stroke="#555" stroke-width="0.45" stroke-linejoin="round"/>
<polyline points="67.6,267.7 72.5,273.7" fill="none" stroke="#222" stroke-width="1.0" stroke-linejoin="round"/>
<polyline points="72.5,273.7 80.7,272.6" fill="none" stroke="#222" stroke-width="1.0" stroke-linejoin="round"/>
<polyline points="80.7,272.6 86.8,273.7 84.6,268.2" fill="none" stroke="#555" stroke-width="0.45" stroke-linejoin="round"/>
<polyline points="83,267.6 76.4,268.8 67.6,267.7" fill="none" stroke="#555" stroke-width="0.45" stroke-linejoin="round"/>
<text x="82.6" y="269" font-size="3.4" fill="#444">O</text>
<polyline points="67.6,267.7 65,268.4" fill="none" stroke="#555" stroke-width="0.45" stroke-linejoin="round"/>
<text x="61.8" y="269.8" font-size="3.4" fill="#444">O</text>
<polyline points="72.5,273.7 68,272.6" fill="none" stroke="#555" stroke-width="0.45" stroke-linejoin="round"/>
<text x="62.8" y="273.8" font-size="3.3" fill="#444">HO</text>
<polyline points="76.4,268.8 72,264.6 74.5,262.4" fill="none" stroke="#555" stroke-width="0.45" stroke-linejoin="round"/>
<text x="74.6" y="263.4" font-size="3.3" fill="#444">OH</text>
<polyline points="80.7,272.6 82,276.2" fill="none" stroke="#555" stroke-width="0.45" stroke-linejoin="round"/>
<text x="81.4" y="279.6" font-size="3.2" fill="#444">NH</text>
<polyline points="83.6,280.4 80.6,283.2 76.8,283.2" fill="none" stroke="#555" stroke-width="0.45" stroke-linejoin="round"/>
<polyline points="80.6,282.6 76.8,282.6" fill="none" stroke="#555" stroke-width="0.45" stroke-linejoin="round"/>
<text x="73.4" y="284.4" font-size="3.4" fill="#444">O</text>
<polyline points="80.6,283.2 83.4,286" fill="none" stroke="#555" stroke-width="0.45" stroke-linejoin="round"/>
<text x="83" y="288.6" font-size="3" fill="#444">CH3</text>
<polyline points="86.8,273.7 90.6,272.3" fill="none" stroke="#555" stroke-width="0.45" stroke-linejoin="round"/>
<text x="90.6" y="273.6" font-size="3.4" fill="#444">O</text>
<polyline points="94,272 97.6,270.2" fill="none" stroke="#555" stroke-width="0.45" stroke-linejoin="round"/>
<polyline points="103.4,273.5 110.6,273.4" fill="none" stroke="#222" stroke-width="1.0" stroke-linejoin="round"/>
<polyline points="110.6,273.4 113.2,273.8" fill="none" stroke="#222" stroke-width="1.0" stroke-linejoin="round"/>
<polyline points="98.8,268.3 103.4,273.5" fill="none" stroke="#555" stroke-width="0.45" stroke-linejoin="round"/>
<polyline points="114.6,273.6 116.9,268.2 109.4,268 98.8,268.3" fill="none" stroke="#555" stroke-width="0.45" stroke-linejoin="round"/>
<text x="112" y="275.2" font-size="3.4" fill="#444">O</text>
<text x="93" y="269.8" font-size="3.3" fill="#444">HO</text>
<polyline points="103.4,273.5 103,277 104.6,279.6" fill="none" stroke="#555" stroke-width="0.45" stroke-linejoin="round"/>
<text x="104" y="282" font-size="3.3" fill="#444">OH</text>
<polyline points="109.4,268 111.4,264.4" fill="none" stroke="#555" stroke-width="0.45" stroke-linejoin="round"/>
<text x="111" y="264.4" font-size="3.2" fill="#444">NH</text>
<polyline points="111.8,261.4 109.4,258.2 104.8,258.2" fill="none" stroke="#555" stroke-width="0.45" stroke-linejoin="round"/>
<polyline points="109.4,258.8 104.8,258.8" fill="none" stroke="#555" stroke-width="0.45" stroke-linejoin="round"/>
<text x="101.4" y="259.8" font-size="3.4" fill="#444">O</text>
<polyline points="109.4,258.2 112.4,255.6" fill="none" stroke="#555" stroke-width="0.45" stroke-linejoin="round"/>
<text x="112.2" y="256.2" font-size="3" fill="#444">CH3</text>
<polyline points="116.9,268.2 120.4,268.6" fill="none" stroke="#555" stroke-width="0.45" stroke-linejoin="round"/>
<text x="65.8" y="266" font-size="3" fill="#e8434b">4</text>
<text x="70.3" y="264.9" font-size="3" fill="#e8434b">6</text>
<text x="75.9" y="268" font-size="3" fill="#e8434b">5</text>
<text x="79" y="271" font-size="3" fill="#e8434b">2</text>
<text x="86.2" y="271.4" font-size="3" fill="#e8434b">1</text>
<text x="71.4" y="277.6" font-size="3" fill="#e8434b">3</text>
<path d="M350.5,257.3 C350.92,257.67 352.15,258.88 353,259.5 C353.85,260.12 354.6,261.03 355.6,261 C356.6,260.97 357.62,260.27 359,259.3 C360.38,258.33 362.28,256.12 363.9,255.2 C365.52,254.28 365.6,254.1 368.7,253.8 C371.8,253.5 378.32,253.43 382.5,253.4 C386.68,253.37 390.77,253.38 393.8,253.6 C396.83,253.82 398.98,254.07 400.7,254.7 C402.42,255.33 403.07,256.25 404.1,257.4 C405.13,258.55 405.97,259.87 406.9,261.6 C407.83,263.33 408.78,265.62 409.7,267.8 C410.62,269.98 411.48,272.4 412.4,274.7 C413.32,277 414.28,279.2 415.2,281.6 C416.12,284 416.98,286.23 417.9,289.1 C418.82,291.97 419.95,295.32 420.7,298.8 C421.45,302.28 421.85,304.8 422.4,310 C422.95,315.2 423.43,323.33 424,330 C424.57,336.67 425.27,343.33 425.8,350 C426.33,356.67 426.75,363.67 427.2,370 C427.65,376.33 428.13,387.17 428.5,388 C428.87,388.83 429.08,379.67 429.4,375 C429.72,370.33 430.03,365.83 430.4,360 C430.77,354.17 431.2,346.67 431.6,340 C432,333.33 432.38,326.67 432.8,320 C433.22,313.33 433.8,306.67 434.1,300 C434.4,293.33 434.47,285.83 434.6,280 C434.73,274.17 434.78,268.5 434.9,265 C435.02,261.5 434.95,260.38 435.3,259 C435.65,257.62 435.38,257.23 437,256.7 C438.62,256.17 441.17,256.08 445,255.8 C448.83,255.52 454.17,255.2 460,255 C465.83,254.8 470.67,254.68 480,254.6 C489.33,254.52 510,254.52 516,254.5" fill="none" stroke="#3b1b1c" stroke-width="1.35" stroke-linejoin="round" stroke-linecap="round" />
<path d="M350.5,256.8 C350.92,257.27 352.15,259 353,259.6 C353.85,260.2 354.6,260.58 355.6,260.4 C356.6,260.22 357.77,259.48 359,258.5 C360.23,257.52 361.5,255.32 363,254.5 C364.5,253.68 364.33,253.75 368,253.6 C371.67,253.45 380.47,253.53 385,253.6 C389.53,253.67 392.93,253.48 395.2,254 C397.47,254.52 397.57,255.67 398.6,256.7 C399.63,257.73 400.6,259.05 401.4,260.2 C402.2,261.35 402.72,262.42 403.4,263.6 C404.08,264.78 404.57,265.8 405.5,267.3 C406.43,268.8 407.73,270.45 409,272.6 C410.27,274.75 411.83,277.45 413.1,280.2 C414.37,282.95 415.57,286 416.6,289.1 C417.63,292.2 418.57,294.98 419.3,298.8 C420.03,302.62 420.38,306.3 421,312 C421.62,317.7 422.33,326.33 423,333 C423.67,339.67 424.43,346.73 425,352 C425.57,357.27 425.97,363.6 426.4,364.6 C426.83,365.6 427.17,362.1 427.6,358 C428.03,353.9 428.52,346.33 429,340 C429.48,333.67 429.98,326.67 430.5,320 C431.02,313.33 431.75,306.67 432.1,300 C432.45,293.33 432.47,285.67 432.6,280 C432.73,274.33 432.78,269.5 432.9,266 C433.02,262.5 432.95,260.5 433.3,259 C433.65,257.5 433.88,257.47 435,257 C436.12,256.53 435.83,256.5 440,256.2 C444.17,255.9 453.33,255.43 460,255.2 C466.67,254.97 470.67,254.93 480,254.8 C489.33,254.67 510,254.47 516,254.4" fill="none" stroke="#f9a443" stroke-width="1.35" stroke-linejoin="round" stroke-linecap="round" />
<path d="M350.5,256 C351,256.33 352.58,257.62 353.5,258 C354.42,258.38 354.62,258.72 356,258.3 C357.38,257.88 360.13,256 361.8,255.5 C363.47,255 363.8,255.05 366,255.3 C368.2,255.55 372.67,256.53 375,257 C377.33,257.47 378.25,257.45 380,258.1 C381.75,258.75 383.67,260.22 385.5,260.9 C387.33,261.58 389.15,261.87 391,262.2 C392.85,262.53 394.75,262.2 396.6,262.9 C398.45,263.6 400.27,264.78 402.1,266.4 C403.93,268.02 406,270.42 407.6,272.6 C409.2,274.78 410.43,276.97 411.7,279.5 C412.97,282.03 414.17,284.82 415.2,287.8 C416.23,290.78 417.18,294.03 417.9,297.4 C418.62,300.77 418.93,304.23 419.5,308 C420.07,311.77 420.72,316.17 421.3,320 C421.88,323.83 422.48,328.08 423,331 C423.52,333.92 424.07,336.2 424.4,337.5 C424.73,338.8 424.78,338.8 425,338.8 C425.22,338.8 425.43,338.97 425.7,337.5 C425.97,336.03 426.32,333.25 426.6,330 C426.88,326.75 427.12,323 427.4,318 C427.68,313 428.05,306 428.3,300 C428.55,294 428.7,287.33 428.9,282 C429.1,276.67 429.28,271.67 429.5,268 C429.72,264.33 429.95,261.75 430.2,260 C430.45,258.25 430.53,258.07 431,257.5 C431.47,256.93 431.5,256.85 433,256.6 C434.5,256.35 435.5,256.18 440,256 C444.5,255.82 453.33,255.62 460,255.5 C466.67,255.38 473.33,255.3 480,255.3 C486.67,255.3 494,255.15 500,255.5 C506,255.85 513.33,257.08 516,257.4" fill="none" stroke="#42a0dc" stroke-width="1.35" stroke-linejoin="round" stroke-linecap="round" />
<path d="M350.5,256.6 C351,256.93 352.58,258.37 353.5,258.6 C354.42,258.83 354.62,258.57 356,258 C357.38,257.43 360.13,255.72 361.8,255.2 C363.47,254.68 363.7,254.67 366,254.9 C368.3,255.13 373.27,256.18 375.6,256.6 C377.93,257.02 378.35,256.92 380,257.4 C381.65,257.88 383.67,259 385.5,259.5 C387.33,260 389.15,260.05 391,260.4 C392.85,260.75 394.98,261.18 396.6,261.6 C398.22,262.02 399.33,261.98 400.7,262.9 C402.07,263.82 403.42,265.48 404.8,267.1 C406.18,268.72 407.62,270.42 409,272.6 C410.38,274.78 411.83,277.45 413.1,280.2 C414.37,282.95 415.57,286 416.6,289.1 C417.63,292.2 418.65,295.32 419.3,298.8 C419.95,302.28 420.05,304.8 420.5,310 C420.95,315.2 421.48,324.17 422,330 C422.52,335.83 423.17,340.92 423.6,345 C424.03,349.08 424.23,354 424.6,354.5 C424.97,355 425.4,351.25 425.8,348 C426.2,344.75 426.6,339.67 427,335 C427.4,330.33 427.78,325.83 428.2,320 C428.62,314.17 429.22,306.67 429.5,300 C429.78,293.33 429.77,285.67 429.9,280 C430.03,274.33 430.13,269.5 430.3,266 C430.47,262.5 430.63,260.53 430.9,259 C431.17,257.47 431.38,257.25 431.9,256.8 C432.42,256.35 432.65,256.43 434,256.3 C435.35,256.17 435.67,256.13 440,256 C444.33,255.87 453.33,255.58 460,255.5 C466.67,255.42 473.33,255.28 480,255.5 C486.67,255.72 494,256.15 500,256.8 C506,257.45 513.33,258.97 516,259.4" fill="none" stroke="#ea4046" stroke-width="1.35" stroke-linejoin="round" stroke-linecap="round" />
<rect x="350.4" y="243.9" width="165.8" height="153.7" fill="none" stroke="#202020" stroke-width="1.35"/>
<line x1="346.2" y1="253.3" x2="350.4" y2="253.3" stroke="#202020" stroke-width="1.1"/>
<line x1="346.2" y1="271.8" x2="350.4" y2="271.8" stroke="#202020" stroke-width="1.1"/>
<line x1="346.2" y1="290.3" x2="350.4" y2="290.3" stroke="#202020" stroke-width="1.1"/>
<line x1="346.2" y1="308.8" x2="350.4" y2="308.8" stroke="#202020" stroke-width="1.1"/>
<line x1="346.2" y1="327.3" x2="350.4" y2="327.3" stroke="#202020" stroke-width="1.1"/>
<line x1="346.2" y1="345.8" x2="350.4" y2="345.8" stroke="#202020" stroke-width="1.1"/>
<line x1="346.2" y1="364.3" x2="350.4" y2="364.3" stroke="#202020" stroke-width="1.1"/>
<line x1="346.2" y1="382.8" x2="350.4" y2="382.8" stroke="#202020" stroke-width="1.1"/>
<text x="303.08" y="255.2" font-size="14" fill="#111" textLength="38.49" lengthAdjust="spacingAndGlyphs" stroke="#111" stroke-width="0.2">0.000</text>
<text x="301.41" y="272.4" font-size="14" fill="#111" textLength="43.46" lengthAdjust="spacingAndGlyphs" stroke="#111" stroke-width="0.2">-0.002</text>
<text x="301.42" y="291.2" font-size="14" fill="#111" textLength="42.74" lengthAdjust="spacingAndGlyphs" stroke="#111" stroke-width="0.2">-0.004</text>
<text x="301.42" y="310.2" font-size="14" fill="#111" textLength="43.1" lengthAdjust="spacingAndGlyphs" stroke="#111" stroke-width="0.2">-0.006</text>
<text x="301.21" y="329.8" font-size="14" fill="#111" textLength="43.51" lengthAdjust="spacingAndGlyphs" stroke="#111" stroke-width="0.2">-0.008</text>
<text x="303.01" y="345.7" font-size="14" fill="#111" textLength="43.64" lengthAdjust="spacingAndGlyphs" stroke="#111" stroke-width="0.2">-0.010</text>
<text x="301.09" y="364.4" font-size="14" fill="#111" textLength="44.5" lengthAdjust="spacingAndGlyphs" stroke="#111" stroke-width="0.2">-0.012</text>
<text x="301.11" y="383.1" font-size="14" fill="#111" textLength="43.56" lengthAdjust="spacingAndGlyphs" stroke="#111" stroke-width="0.2">-0.014</text>
<line x1="365.4" y1="397.6" x2="365.4" y2="400.8" stroke="#202020" stroke-width="1.1"/>
<line x1="387.05" y1="397.6" x2="387.05" y2="400.8" stroke="#202020" stroke-width="1.1"/>
<line x1="408.7" y1="397.6" x2="408.7" y2="400.8" stroke="#202020" stroke-width="1.1"/>
<line x1="430.35" y1="397.6" x2="430.35" y2="400.8" stroke="#202020" stroke-width="1.1"/>
<line x1="452" y1="397.6" x2="452" y2="400.8" stroke="#202020" stroke-width="1.1"/>
<line x1="473.65" y1="397.6" x2="473.65" y2="400.8" stroke="#202020" stroke-width="1.1"/>
<line x1="495.3" y1="397.6" x2="495.3" y2="400.8" stroke="#202020" stroke-width="1.1"/>
<text x="350.75" y="414.2" font-size="13.6" fill="#111" textLength="25.64" lengthAdjust="spacingAndGlyphs" stroke="#111" stroke-width="0.2">100</text>
<text x="398.77" y="414.2" font-size="13.6" fill="#111" textLength="26.23" lengthAdjust="spacingAndGlyphs" stroke="#111" stroke-width="0.2">300</text>
<text x="439.59" y="414.2" font-size="13.6" fill="#111" textLength="25.29" lengthAdjust="spacingAndGlyphs" stroke="#111" stroke-width="0.2">500</text>
<text x="482.25" y="414.2" font-size="13.6" fill="#111" textLength="25.13" lengthAdjust="spacingAndGlyphs" stroke="#111" stroke-width="0.2">700</text>
<text x="384.42" y="430.4" font-size="13.4" fill="#111" textLength="106.59" lengthAdjust="spacingAndGlyphs" stroke="#111" stroke-width="0.2">Temperature (ºC)</text>
<text transform="translate(297.1,340.7) rotate(-90)" x="-1.05" y="0" font-size="14.2" fill="#111" stroke="#111" stroke-width="0.2" textLength="70" lengthAdjust="spacingAndGlyphs">DTG (%/ºC)</text>
<text x="328.98" y="231.2" font-size="19" fill="#111" textLength="11.37" lengthAdjust="spacingAndGlyphs" stroke="#111" stroke-width="0.2">d</text>
<rect x="457.9" y="274.8" width="56.6" height="76.4" fill="#fff" stroke="#202020" stroke-width="1.1"/>
<path d="M458.2,275 C458.5,275.26 460.01,276.83 460.8,277.2 C461.59,277.57 463.95,277.97 465,278.2 C466.05,278.43 468.84,278.79 469.8,279.2 C470.76,279.61 472.39,280.93 473.2,281.7 C474,282.47 475.98,284.68 476.7,285.8 C477.42,286.92 478.84,289.69 479.4,291.3 C479.96,292.91 481.17,297.42 481.5,299.6 C481.83,301.78 482,307.62 482.2,310 C482.4,312.38 482.95,318.07 483.2,320 C483.44,321.93 484,325.5 484.3,326.5 C484.6,327.5 485.13,328.22 485.8,328.6 C486.47,328.99 488.34,329.36 490,329.8 C491.66,330.24 497.2,331.49 500,332.4 C502.8,333.31 512.37,336.99 514,337.6" fill="none" stroke="#42a0dc" stroke-width="1.1" stroke-linejoin="round" stroke-linecap="round" />
<path d="M458.2,275 C458.5,275.26 460.01,276.83 460.8,277.2 C461.59,277.57 464.11,278 465,278.2 C465.89,278.4 467.68,278.57 468.4,278.9 C469.12,279.23 470.48,280.36 471.2,281 C471.92,281.64 473.88,283.44 474.6,284.4 C475.32,285.36 476.84,287.99 477.4,289.2 C477.96,290.41 479,293.42 479.4,294.8 C479.8,296.18 480.54,299.23 480.8,301 C481.06,302.77 481.39,307.78 481.6,310 C481.81,312.22 482.33,318.23 482.6,320 C482.87,321.77 483.56,324.38 483.9,325.2 C484.24,326.02 484.79,326.64 485.5,327 C486.21,327.36 488.31,327.86 490,328.3 C491.69,328.74 497.2,329.96 500,330.8 C502.8,331.64 512.37,334.95 514,335.5" fill="none" stroke="#ea4046" stroke-width="1.1" stroke-linejoin="round" stroke-linecap="round" />
<path d="M458.2,275 C458.5,275.26 460.01,276.86 460.8,277.2 C461.59,277.54 463.55,277.82 465,277.9 C466.45,277.98 471.92,277.82 473.2,277.9 C474.48,277.98 475.43,278.24 476,278.6 C476.57,278.96 477.66,280.16 478.1,281 C478.54,281.84 479.4,284.44 479.8,285.8 C480.2,287.17 481.14,290.93 481.5,292.7 C481.86,294.47 482.67,298.98 482.9,301 C483.13,303.02 483.35,307.78 483.5,310 C483.65,312.22 484.04,317.67 484.2,320 C484.36,322.33 484.74,328.16 484.9,330 C485.06,331.84 485.3,334.95 485.6,335.8 C485.9,336.65 485.82,336.83 487.5,337.3 C489.18,337.77 496.91,339.24 500,339.8 C503.09,340.36 512.37,341.83 514,342.1" fill="none" stroke="#f9a443" stroke-width="1.1" stroke-linejoin="round" stroke-linecap="round" />
<path d="M458.2,275 C458.5,275.26 460.01,276.85 460.8,277.2 C461.59,277.55 463.55,277.91 465,278 C466.45,278.09 471.83,277.96 473.2,278 C474.56,278.04 476.05,278.03 476.7,278.3 C477.35,278.57 478.36,279.51 478.8,280.3 C479.24,281.09 480.1,283.65 480.5,285.1 C480.9,286.55 481.84,290.84 482.2,292.7 C482.56,294.56 483.36,298.98 483.6,301 C483.85,303.02 484.16,307.78 484.3,310 C484.44,312.22 484.69,317.67 484.8,320 C484.91,322.33 485.08,328.23 485.2,330 C485.32,331.77 485.53,334.43 485.8,335.2 C486.07,335.97 485.84,336.16 487.5,336.6 C489.16,337.04 496.91,338.57 500,339 C503.09,339.43 512.37,340.15 514,340.3" fill="none" stroke="#3b1b1c" stroke-width="1.1" stroke-linejoin="round" stroke-linecap="round" />
<line x1="456.2" y1="274.8" x2="457.9" y2="274.8" stroke="#202020" stroke-width="0.9"/>
<line x1="456.2" y1="290" x2="457.9" y2="290" stroke="#202020" stroke-width="0.9"/>
<line x1="456.2" y1="305.2" x2="457.9" y2="305.2" stroke="#202020" stroke-width="0.9"/>
<line x1="456.2" y1="320.4" x2="457.9" y2="320.4" stroke="#202020" stroke-width="0.9"/>
<line x1="456.2" y1="335.6" x2="457.9" y2="335.6" stroke="#202020" stroke-width="0.9"/>
<line x1="456.2" y1="350.8" x2="457.9" y2="350.8" stroke="#202020" stroke-width="0.9"/>
<text x="442.85" y="275.7" font-size="7.6" fill="#111" textLength="14.49" lengthAdjust="spacingAndGlyphs" stroke="#111" stroke-width="0.2">100</text>
<text x="446.61" y="290.8" font-size="7.6" fill="#111" textLength="9.61" lengthAdjust="spacingAndGlyphs" stroke="#111" stroke-width="0.2">80</text>
<text x="446.43" y="306" font-size="7.6" fill="#111" textLength="10.53" lengthAdjust="spacingAndGlyphs" stroke="#111" stroke-width="0.2">60</text>
<text x="446.72" y="321" font-size="7.6" fill="#111" textLength="10.23" lengthAdjust="spacingAndGlyphs" stroke="#111" stroke-width="0.2">40</text>
<text x="446.43" y="336.2" font-size="7.6" fill="#111" textLength="10.53" lengthAdjust="spacingAndGlyphs" stroke="#111" stroke-width="0.2">20</text>
<text x="451.96" y="351.6" font-size="7.6" fill="#111" textLength="4.75" lengthAdjust="spacingAndGlyphs" stroke="#111" stroke-width="0.2">0</text>
<line x1="463.3" y1="351.2" x2="463.3" y2="353.2" stroke="#202020" stroke-width="0.9"/>
<line x1="470.6" y1="351.2" x2="470.6" y2="353.2" stroke="#202020" stroke-width="0.9"/>
<line x1="477.9" y1="351.2" x2="477.9" y2="353.2" stroke="#202020" stroke-width="0.9"/>
<line x1="485.2" y1="351.2" x2="485.2" y2="353.2" stroke="#202020" stroke-width="0.9"/>
<line x1="492.5" y1="351.2" x2="492.5" y2="353.2" stroke="#202020" stroke-width="0.9"/>
<line x1="499.8" y1="351.2" x2="499.8" y2="353.2" stroke="#202020" stroke-width="0.9"/>
<line x1="507.1" y1="351.2" x2="507.1" y2="353.2" stroke="#202020" stroke-width="0.9"/>
<text x="453.48" y="361.2" font-size="8.2" fill="#111" textLength="13.73" lengthAdjust="spacingAndGlyphs" stroke="#111" stroke-width="0.2">100</text>
<text x="469.07" y="361.2" font-size="8.2" fill="#111" textLength="13.96" lengthAdjust="spacingAndGlyphs" stroke="#111" stroke-width="0.2">300</text>
<text x="484.87" y="361.2" font-size="8.2" fill="#111" textLength="13.96" lengthAdjust="spacingAndGlyphs" stroke="#111" stroke-width="0.2">500</text>
<text x="501.18" y="361.2" font-size="8.2" fill="#111" textLength="14.05" lengthAdjust="spacingAndGlyphs" stroke="#111" stroke-width="0.2">700</text>
<text x="471.34" y="369.9" font-size="8.1" fill="#111" textLength="21.08" lengthAdjust="spacingAndGlyphs" stroke="#111" stroke-width="0.2">T (ºC)</text>
<text transform="translate(443.9,330.2) rotate(-90)" x="-0.05" y="0" font-size="8.4" fill="#111" stroke="#111" stroke-width="0.2" textLength="46.84" lengthAdjust="spacingAndGlyphs">Weight (%)</text>
<path d="M542.1,396.86 L542.43,396.87 L542.83,397.02 L543.29,397.17 L543.8,396.55 L544.37,396.38 L544.97,396.34 L545.6,396.65 L546.26,395.94 L546.94,396.3 L547.63,396.06 L548.32,395.41 L549.01,395.6 L549.69,395.34 L550.36,395.14 L551,395.5 L551.6,394.53 L552.17,394.31 L552.7,395 L553.44,394.33 L554.17,394 L554.87,394.01 L555.56,393.94 L556.22,394.37 L556.86,393.6 L557.48,393.48 L558.06,393.65 L558.62,393.42 L559.15,393.53 L559.64,393.1 L560.1,392.27 L560.46,391.71 L560.79,391.79 L561.08,391.36 L561.35,389.89 L561.6,389.87 L561.82,389.31 L562.03,388.42 L562.23,387.34 L562.41,387.17 L562.59,386.44 L562.76,385.32 L562.94,385.13 L563.12,384.21 L563.3,383.59 L563.7,382.83 L564.04,381.83 L564.35,381.03 L564.66,380.63 L565,380.52 L565.4,380.82 L565.58,381.07 L565.77,381.44 L565.97,381.72 L566.17,381.83 L566.39,382.32 L566.6,383.4 L566.82,384.04 L567.04,384.89 L567.27,385.11 L567.49,385.94 L567.72,387.32 L567.94,387.71 L568.16,388.43 L568.38,388.45 L568.6,389.21 L568.97,390.44 L569.3,390.89 L569.62,391.8 L569.94,391.61 L570.29,392.32 L570.7,393.05 L571.2,393.11 L571.8,393.76 L572.28,393.76 L572.83,393.55 L573.43,393.69 L574.07,394.63 L574.75,393.97 L575.44,394.13 L576.13,394.33 L576.81,394.73 L577.48,394.9 L578.1,394.58 L578.68,394.61 L579.2,394.86 L579.97,394.3 L580.63,394.16 L581.22,394.08 L581.77,393.79 L582.29,392.97 L582.83,392.83 L583.4,392.77 L583.92,393.38 L584.32,393.56 L584.7,394.1 L585.13,394.22 L585.7,394.05 L586.5,394.73 L587.6,395.04 L588.01,394.47 L588.47,394.17 L588.97,394.5 L589.5,394.41 L590.06,394.3 L590.65,394.17 L591.26,394.22 L591.9,394.86 L592.55,394.1 L593.22,394.57 L593.89,394.16 L594.57,394.11 L595.26,394.62 L595.94,394.1 L596.61,393.93 L597.28,394.11 L597.94,394.25 L598.58,394.02 L599.19,394.23 L599.79,393.73 L600.36,393.74 L600.9,393.81 L601.4,393.47 L602.13,393.53 L602.82,393.16 L603.49,392.73 L604.13,392.6 L604.75,393.06 L605.34,392.88 L605.91,392.89 L606.46,392.46 L606.99,392.12 L607.51,391.46 L608.01,391.74 L608.5,390.67 L608.97,390.46 L609.44,389.63 L609.9,389.19 L610.13,388.75 L610.36,388.47 L610.58,388.32 L610.8,387.74 L611.01,387.03 L611.22,387.06 L611.42,386.55 L611.62,386.15 L611.81,384.93 L612,384.94 L612.18,384.66 L612.37,383.54 L612.54,382.92 L612.72,382.9 L612.89,381.9 L613.06,381.33 L613.23,381.08 L613.39,380.06 L613.55,379.24 L613.71,378.59 L613.87,378.04 L614.03,377.66 L614.18,376.66 L614.34,376.31 L614.49,374.95 L614.64,374.37 L614.8,373.96 L614.95,373.06 L615.1,372.3 L615.19,372.19 L615.29,371.08 L615.38,370.44 L615.47,369.73 L615.55,369.54 L615.64,368.75 L615.73,368.27 L615.82,367.2 L615.9,366.52 L615.99,366.17 L616.07,365.81 L616.15,364.68 L616.23,364.51 L616.31,363.48 L616.4,362.58 L616.47,362.17 L616.55,360.92 L616.63,360.5 L616.71,359.96 L616.79,358.93 L616.86,357.98 L616.94,357.02 L617.01,356.7 L617.09,355.61 L617.16,355.04 L617.23,354.47 L617.31,354.11 L617.38,353.16 L617.45,352.33 L617.52,351.96 L617.59,350.8 L617.67,350.23 L617.74,349.86 L617.81,349.15 L617.88,348.27 L617.95,347.88 L618.02,347.72 L618.08,346.69 L618.15,346.62 L618.22,345.58 L618.29,345.98 L618.36,345.35 L618.43,344.68 L618.5,344.95 L618.56,344.51 L618.63,343.61 L618.7,343.57 L618.87,343.45 L619.03,343.75 L619.18,343 L619.33,343.09 L619.48,343.66 L619.63,343.87 L619.77,344.77 L619.91,345.56 L620.06,346.23 L620.19,346.79 L620.33,347.58 L620.47,349.21 L620.61,349.84 L620.75,350.85 L620.9,351.82 L621.04,352.96 L621.19,354.07 L621.34,354.88 L621.5,355.6 L621.6,355.76 L621.7,356.15 L621.81,356.65 L621.92,357.93 L622.02,357.83 L622.13,358.92 L622.24,359.88 L622.35,360.02 L622.47,360.76 L622.58,361.48 L622.69,362.65 L622.8,363.12 L622.92,363.96 L623.03,363.94 L623.14,365.26 L623.26,365.71 L623.37,366.35 L623.48,367.39 L623.59,367.98 L623.7,368.78 L623.81,369.26 L623.92,370.01 L624.02,370.16 L624.12,370.83 L624.23,371.56 L624.33,371.76 L624.42,371.93 L624.52,372.75 L624.61,373.39 L624.7,373.73 L625.48,374.61 L626.14,374.5 L626.8,374.26 L627.13,374.71 L627.42,375.64 L627.72,375.59 L628.04,376.01 L628.43,376.61 L628.9,377.55 L629.13,378.16 L629.37,378.34 L629.62,378.73 L629.88,379.34 L630.15,379.97 L630.44,381.17 L630.73,381.13 L631.04,382.27 L631.35,382.29 L631.68,383.48 L632.02,383.54 L632.37,384.49 L632.73,384.59 L633.1,384.62 L633.67,385.01 L634.29,385.93 L634.96,385.9 L635.66,385.99 L636.36,385.95 L637.06,386.29 L637.75,386.11 L638.39,385.73 L638.98,386.2 L639.5,385.93 L640.31,386.23 L640.91,385.56 L641.42,385.33 L641.98,384.5 L642.7,385.19 L643.07,385.34 L643.47,385.91 L643.9,386.39 L644.35,386.61 L644.82,387.21 L645.29,387.95 L645.76,388.08 L646.24,388.88 L646.7,389.6 L647.16,389.86 L647.59,390.14 L648,390.62 L648.66,390.84 L649.28,390.12 L649.88,389.7 L650.46,389.81 L651.03,388.93 L651.61,389.16 L652.2,388.18 L652.59,387.83 L652.98,387.56 L653.37,387 L653.77,385.69 L654.17,385.31 L654.56,384.41 L654.95,384.06 L655.33,383.26 L655.7,383.53 L656.06,382.82 L656.4,382.8 L656.72,383.43 L657.01,383.74 L657.29,383.86 L657.55,384.68 L657.8,385.59 L658.06,385.96 L658.32,386.71 L658.6,388.1 L658.9,388.13 L659.23,389.14 L659.6,389.51 L660.11,389.59 L660.7,389.42 L661.33,389.81 L661.99,389.58 L662.65,388.71 L663.29,389.19 L663.9,388.7 L664.44,388.17 L664.9,387.9 L665.84,387.37 L666.42,387.55 L667,387.51 L667.35,387.37 L667.63,387.75 L667.95,388.28 L668.4,389.19 L669.1,389.52 L669.57,389.42 L670.12,389.72 L670.74,390.24 L671.4,389.58 L672.1,389.89 L672.81,390.01 L673.53,389.71 L674.22,389.65 L674.89,389.78 L675.5,389.98 L676.17,390.96 L676.85,391.15 L677.54,391.36 L678.22,391.91 L678.87,391.77 L679.47,392.07 L680,392.96 L680.45,393 L680.8,393.48" fill="none" stroke="#3b1b1c" stroke-width="1.7" stroke-linejoin="round" stroke-linecap="round" />
<path d="M541.9,365.62 L542.24,365.68 L542.64,365.68 L543.1,366.13 L543.62,365.67 L544.18,365.77 L544.79,365.1 L545.42,365.34 L546.09,365.52 L546.77,365.1 L547.47,365.35 L548.17,365.16 L548.87,364.56 L549.57,364.09 L550.25,364.64 L550.91,363.94 L551.54,363.7 L552.14,364.23 L552.7,364.21 L553.39,364.06 L554.09,364.03 L554.79,363.23 L555.48,363 L556.16,362.92 L556.83,363.57 L557.48,362.67 L558.11,362.58 L558.72,362.32 L559.29,362.19 L559.83,362.01 L560.33,362.11 L560.79,361.73 L561.2,361.63 L561.79,361.73 L562.22,360.53 L562.53,360.56 L562.76,359.89 L562.94,359.1 L563.1,358.45 L563.27,357.94 L563.5,357.08 L563.69,356.18 L563.87,355.61 L564.06,354.79 L564.23,354.17 L564.41,353.92 L564.58,352.67 L564.75,351.66 L564.91,351.43 L565.08,351.26 L565.24,350.6 L565.4,350.68 L565.59,350.21 L565.78,350.52 L565.96,351.58 L566.13,351.7 L566.31,352.7 L566.48,353.6 L566.65,354.25 L566.82,354.89 L567,355.56 L567.12,356.98 L567.19,357.34 L567.23,358.19 L567.26,358.39 L567.31,359.42 L567.39,359.94 L567.54,360.3 L567.77,360.79 L568.12,361.31 L568.6,361.55 L568.96,361.97 L569.38,362.58 L569.86,362.39 L570.38,363.27 L570.94,363.26 L571.54,363.62 L572.16,364.1 L572.8,364.2 L573.44,364 L574.09,364.34 L574.74,364.33 L575.37,364.56 L575.99,365.57 L576.57,365.4 L577.13,365.86 L577.64,365.79 L578.1,365.43 L578.88,366.02 L579.58,365.81 L580.22,365.11 L580.8,364.42 L581.35,364.24 L581.87,363.73 L582.38,363.59 L582.88,363.11 L583.4,363.59 L583.96,363.95 L584.34,363.56 L584.66,364.49 L585.04,364.78 L585.58,365.11 L586.4,365.82 L587.6,365.49 L588.01,365.9 L588.46,365.2 L588.95,366.04 L589.48,365.34 L590.03,365.17 L590.62,365.96 L591.24,365.8 L591.87,365.74 L592.53,365.81 L593.2,365.43 L593.89,365.16 L594.58,365.3 L595.28,365.83 L595.99,365.8 L596.69,365.06 L597.39,365.17 L598.09,365.1 L598.77,365.42 L599.44,364.5 L600.1,365.13 L600.73,364.49 L601.34,364.62 L601.93,364.09 L602.49,363.89 L603.01,364.43 L603.5,363.9 L604.1,364.06 L604.67,363.69 L605.22,363.3 L605.74,362.39 L606.25,362.53 L606.73,362.56 L607.19,361.76 L607.64,361 L608.07,360.72 L608.48,361.04 L608.88,360.6 L609.26,359.5 L609.64,359.1 L610,358.98 L610.35,358.28 L610.69,357.46 L611.03,357.63 L611.36,356.73 L611.68,355.9 L612,354.97 L612.21,354.96 L612.42,354.73 L612.62,353.74 L612.81,353.18 L612.99,353.26 L613.17,352.93 L613.34,351.92 L613.51,351.48 L613.66,351.09 L613.82,350.44 L613.97,349.53 L614.11,349.09 L614.25,348.45 L614.38,347.86 L614.52,347.17 L614.64,346.84 L614.77,346.07 L614.89,346.02 L615.02,344.92 L615.14,344.87 L615.25,344.09 L615.37,342.96 L615.49,342.21 L615.61,341.92 L615.72,341.17 L615.84,340.56 L615.96,339.52 L616.08,339.21 L616.2,338.73 L616.29,337.91 L616.38,337.16 L616.47,337.15 L616.56,335.94 L616.64,335.89 L616.72,334.91 L616.81,333.57 L616.89,333.22 L616.96,332.19 L617.04,331.99 L617.12,330.87 L617.19,329.77 L617.27,329.74 L617.34,328.8 L617.41,327.82 L617.48,326.97 L617.55,325.73 L617.62,325.76 L617.69,324.37 L617.76,323.8 L617.83,323.02 L617.9,322.28 L617.97,321.17 L618.04,321.28 L618.11,320.27 L618.18,319.56 L618.26,319.4 L618.33,318.85 L618.4,318.22 L618.47,317.93 L618.55,317.01 L618.62,316.43 L618.7,316.34 L618.78,316.31 L618.85,316.28 L618.93,316.09 L619.02,315.92 L619.1,315.89 L619.18,316.01 L619.26,316.05 L619.34,315.73 L619.42,316.45 L619.5,316.51 L619.58,316.68 L619.67,317.57 L619.75,318.23 L619.84,318.22 L619.92,319.11 L620.01,319.64 L620.09,320.3 L620.18,321.12 L620.27,321.64 L620.35,321.79 L620.44,323 L620.53,323.5 L620.62,324.33 L620.7,325.35 L620.79,325.69 L620.88,326.91 L620.97,328 L621.06,328.04 L621.15,329.56 L621.24,330.25 L621.32,330.79 L621.41,331.92 L621.5,332.1 L621.59,332.95 L621.67,334.47 L621.76,334.88 L621.85,335.2 L621.93,335.87 L622.02,336.83 L622.1,337.56 L622.19,338.58 L622.27,338.43 L622.35,339.37 L622.44,339.69 L622.52,340.25 L622.6,341 L622.9,341.54 L623.19,343.21 L623.47,343.94 L623.75,344.17 L624.03,344.55 L624.31,345.51 L624.58,345.93 L624.86,345.77 L625.14,345.87 L625.42,346.56 L625.7,347.05 L626.14,347.36 L626.58,347.87 L627.01,347.96 L627.45,348.34 L627.91,348.79 L628.39,349.73 L628.9,349.76 L629.2,350.27 L629.5,351.01 L629.8,351.34 L630.1,351.96 L630.41,353.03 L630.73,353.2 L631.07,354.11 L631.42,354.27 L631.79,355.22 L632.2,355.89 L632.63,356.1 L633.1,356.22 L633.61,356.34 L634.16,356.73 L634.75,356.95 L635.36,356.71 L636,357.02 L636.65,357.08 L637.31,356.66 L637.99,357.2 L638.65,357.48 L639.32,357.33 L639.97,357.24 L640.6,357.8 L641.09,358.15 L641.58,358.48 L642.07,358.86 L642.55,359.12 L643.04,359.74 L643.52,360.05 L644,360.15 L644.49,360.45 L644.97,361.23 L645.46,361.84 L645.96,361.83 L646.46,362.22 L646.96,362.22 L647.48,362.33 L648,362.58 L648.5,363.06 L649.02,362.18 L649.56,362.01 L650.1,361.9 L650.66,362.03 L651.21,360.91 L651.77,360.29 L652.33,359.81 L652.89,359.58 L653.43,358.81 L653.97,358.96 L654.49,358 L655,357.77 L655.49,357.39 L655.96,357.38 L656.4,357.13 L657.01,357.25 L657.58,357.48 L658.13,357.86 L658.64,358.67 L659.14,358.95 L659.61,359.35 L660.06,359.73 L660.49,361.03 L660.91,361.49 L661.31,361.95 L661.7,361.99 L662.52,362.05 L663.27,362.08 L663.92,361.9 L664.47,361.88 L664.9,361.43 L665.08,361.42 L665.17,360.05 L665.2,359.65 L665.2,358.8 L665.19,357.9 L665.18,357.17 L665.21,356.2 L665.3,356.18 L665.4,356.71 L665.5,357.22 L665.61,358.16 L665.72,358.74 L665.86,359.05 L666.01,359.83 L666.18,361.22 L666.39,361.28 L666.63,362.72 L666.9,362.43 L667.33,363.26 L667.78,363.64 L668.28,362.98 L668.84,362.94 L669.51,363.37 L670.28,363.46 L671.2,362.96 L671.67,363.48 L672.21,363.91 L672.81,364.05 L673.45,363.87 L674.13,363.71 L674.83,364.45 L675.55,364.57 L676.27,364.67 L676.98,365.02 L677.67,365.2 L678.33,365.3 L678.95,365.53 L679.52,365.7 L680.02,366.03 L680.45,366.17 L680.8,365.57" fill="none" stroke="#f9a443" stroke-width="1.7" stroke-linejoin="round" stroke-linecap="round" />
<path d="M541.9,335.16 L542.14,334.97 L542.42,334.85 L542.74,334.02 L543.1,333.98 L543.48,333.79 L543.9,333.36 L544.34,332.24 L544.8,332.17 L545.28,331.63 L545.77,331.01 L546.27,330.89 L546.78,329.97 L547.29,329.37 L547.8,329.29 L548.31,328.51 L548.82,327.71 L549.31,327.24 L549.79,326.96 L550.25,326.14 L550.69,326.25 L551.11,326.02 L551.5,325.43 L552.18,325.34 L552.86,325.02 L553.52,324.37 L554.16,324.22 L554.78,323.5 L555.39,323.27 L555.97,323.95 L556.52,323.18 L557.04,322.98 L557.53,323.44 L557.98,323.13 L558.4,322.36 L559.08,322.13 L559.57,321.71 L559.94,321.4 L560.26,320.76 L560.59,320.71 L561,319.82 L561.24,319.44 L561.49,318.69 L561.75,317.97 L562.01,317.19 L562.27,317.21 L562.54,316.35 L562.8,315.47 L563.06,314.42 L563.31,313.86 L563.55,313.37 L563.78,313.21 L564,312.8 L564.3,313.02 L564.57,313.25 L564.82,313.76 L565.06,314.84 L565.29,315.45 L565.52,316.31 L565.75,317.06 L566,318.04 L566.16,318.79 L566.3,318.93 L566.44,319.31 L566.57,320.31 L566.7,320.86 L566.83,321.87 L566.98,321.93 L567.14,323.28 L567.33,323.17 L567.55,324.29 L567.81,324.84 L568.1,325.33 L568.39,326.37 L568.71,326.75 L569.05,326.81 L569.42,327.67 L569.81,328.34 L570.22,328.37 L570.64,328.96 L571.06,329.95 L571.5,330.57 L571.93,330.81 L572.36,331.23 L572.78,331.71 L573.2,331.86 L573.6,332.74 L574.22,333.24 L574.85,333.15 L575.49,333 L576.12,333.54 L576.75,334.04 L577.37,333.69 L577.97,333.52 L578.55,333.58 L579.1,333.99 L579.68,333.72 L580.22,333.05 L580.74,332.89 L581.23,332.5 L581.72,332.19 L582.2,331.65 L582.69,331.01 L583.2,331.28 L583.59,331.52 L583.89,331.77 L584.14,332.08 L584.38,332.44 L584.68,332.91 L585.09,333.74 L585.64,334.03 L586.39,334.52 L587.4,334.36 L587.81,334.3 L588.26,334.52 L588.75,334.86 L589.27,334.91 L589.83,334.62 L590.42,334.66 L591.04,335.39 L591.68,334.63 L592.34,335.44 L593.02,335.33 L593.71,335.17 L594.42,335.57 L595.13,335.3 L595.84,334.7 L596.55,335.54 L597.26,335.06 L597.96,335.5 L598.66,335.39 L599.34,334.75 L600,334.63 L600.64,334.57 L601.26,335.21 L601.86,335.16 L602.42,334.59 L602.95,334.42 L603.45,334.57 L603.9,334.87 L604.69,334.64 L605.41,334.58 L606.06,334.49 L606.65,334.1 L607.18,333.96 L607.67,332.98 L608.12,332.69 L608.54,333.14 L608.93,332.55 L609.31,331.86 L609.67,331.19 L610.04,330.81 L610.41,330.18 L610.8,329.6 L611,329.17 L611.19,328.54 L611.37,328.02 L611.55,327.7 L611.72,327.19 L611.89,326.71 L612.06,326.53 L612.22,325.79 L612.38,325.9 L612.54,325.16 L612.69,324.56 L612.84,324.18 L612.98,323.26 L613.12,322.5 L613.27,321.96 L613.4,321.59 L613.54,321 L613.68,320.26 L613.81,319.65 L613.94,319.46 L614.08,318.02 L614.21,317.71 L614.34,316.92 L614.47,316.09 L614.6,315.72 L614.73,314.48 L614.87,313.51 L615,312.79 L615.07,313.05 L615.15,311.97 L615.22,311.22 L615.29,311.42 L615.37,310.54 L615.44,310.2 L615.51,309 L615.58,308.78 L615.65,307.41 L615.71,306.89 L615.78,306.69 L615.85,305.71 L615.92,305.22 L615.98,304.11 L616.05,303.8 L616.12,302.32 L616.18,302.04 L616.25,300.87 L616.31,300.1 L616.38,299.94 L616.44,298.75 L616.5,298.31 L616.57,297.06 L616.63,296.69 L616.69,296.08 L616.76,295.07 L616.82,293.96 L616.88,293.61 L616.95,293.13 L617.01,292.28 L617.07,291.26 L617.13,290.53 L617.2,289.59 L617.26,289.55 L617.32,288.37 L617.39,287.82 L617.45,287.07 L617.51,286.63 L617.58,286.3 L617.64,285.89 L617.71,285.14 L617.77,284.93 L617.84,284.82 L617.9,283.86 L617.97,283.56 L618.03,283.61 L618.1,283.69 L618.17,283.48 L618.23,282.99 L618.3,282.43 L618.41,283.02 L618.51,283.11 L618.62,283.1 L618.72,282.93 L618.83,283.05 L618.93,283.57 L619.04,284.15 L619.14,284.81 L619.25,284.89 L619.36,285.5 L619.46,285.97 L619.57,286.87 L619.67,287.6 L619.78,288.14 L619.89,289.09 L619.99,290.33 L620.1,290.56 L620.21,291.44 L620.32,292.35 L620.43,293.72 L620.54,294.08 L620.65,295.41 L620.76,296.35 L620.87,297.13 L620.98,297.87 L621.1,298.1 L621.21,299.07 L621.33,300.1 L621.44,300.24 L621.56,301.16 L621.68,301.95 L621.8,302.49 L622.03,302.78 L622.25,303.32 L622.48,303.93 L622.71,304.83 L622.94,305.63 L623.18,305.95 L623.41,306.97 L623.65,307.31 L623.9,307.77 L624.14,308.43 L624.39,308.44 L624.65,309.21 L624.91,309.42 L625.17,309.86 L625.44,310.22 L625.72,311.37 L626,312.06 L626.24,311.8 L626.48,312.97 L626.73,312.95 L626.97,313.85 L627.22,314.35 L627.47,315.47 L627.72,315.66 L627.97,316.34 L628.23,316.8 L628.49,317.32 L628.76,317.9 L629.04,318.33 L629.32,318.86 L629.6,319.9 L629.9,320.61 L630.2,321.07 L630.51,321.19 L630.83,322.31 L631.16,321.92 L631.5,322.64 L631.97,323.03 L632.47,323.31 L632.98,324.39 L633.52,324.5 L634.06,324.28 L634.62,324.58 L635.19,325.4 L635.77,325.23 L636.35,325.37 L636.94,325.58 L637.52,325.81 L638.1,326.26 L638.68,326.23 L639.24,326.72 L639.8,326.51 L640.36,327.22 L640.93,327.59 L641.51,327.7 L642.1,328.55 L642.69,328.96 L643.28,329.08 L643.87,329.22 L644.44,329.34 L645.01,330.07 L645.57,330.05 L646.1,330.2 L646.62,330.74 L647.11,330.59 L647.57,331.09 L648,331.23 L648.64,330.47 L649.2,330.79 L649.7,330.01 L650.15,329.67 L650.56,329.47 L650.96,329.09 L651.35,327.9 L651.76,327.69 L652.2,326.76 L652.58,326.8 L652.95,325.51 L653.33,325.28 L653.7,324.05 L654.07,323.78 L654.44,323.27 L654.81,322.82 L655.18,322.19 L655.56,321.63 L655.93,321.3 L656.3,321.52 L656.57,321.7 L656.85,321.96 L657.12,322.46 L657.39,323 L657.66,323.76 L657.94,324.13 L658.21,325.05 L658.48,325.65 L658.75,326.04 L659.03,327.14 L659.3,327.42 L659.57,328.47 L659.85,329.08 L660.12,329.58 L660.4,329.97 L661.03,330.51 L661.69,331.1 L662.38,331.57 L663.04,332.33 L663.65,332.66 L664.18,331.82 L664.6,330.74 L664.67,330.91 L664.74,330.66 L664.8,329.57 L664.85,328.99 L664.9,328.39 L664.95,328.16 L664.99,327.74 L665.02,326.5 L665.05,326.24 L665.08,324.79 L665.1,324.14 L665.12,323.62 L665.14,322.98 L665.15,321.91 L665.16,321.24 L665.17,320.1 L665.18,319.29 L665.18,318.61 L665.19,317.34 L665.19,316.75 L665.2,316.15 L665.2,315.72 L665.2,314.64 L665.21,314.07 L665.21,314.17 L665.22,313.36 L665.23,312.7 L665.24,312.66 L665.25,312.3 L665.26,312.17 L665.28,311.8 L665.3,311.8 L665.32,311.38 L665.33,311.81 L665.34,312 L665.35,312.17 L665.35,312.63 L665.34,313.53 L665.34,313.43 L665.33,313.88 L665.32,314.68 L665.31,315.18 L665.3,315.74 L665.29,317.27 L665.28,317.7 L665.27,318.01 L665.27,319.27 L665.26,319.76 L665.26,320.87 L665.26,322.12 L665.27,322.98 L665.28,323.29 L665.3,324.45 L665.32,324.99 L665.35,325.4 L665.39,326.44 L665.43,327.53 L665.49,328.19 L665.55,328.78 L665.62,329.62 L665.7,329.62 L665.79,330.4 L665.89,330.93 L666,331.38 L666.39,332.13 L666.86,332.65 L667.4,332.48 L668,332.64 L668.65,332.85 L669.33,332.3 L670.04,332.33 L670.76,332.25 L671.49,332.01 L672.2,331.99 L672.9,332.54 L673.46,332.41 L674.07,332.4 L674.7,333.31 L675.36,333.7 L676.04,333.33 L676.71,334.02 L677.38,333.76 L678.03,334.17 L678.66,334.38 L679.24,335.07 L679.78,335.23 L680.26,335.67 L680.67,335.71 L681,335.93" fill="none" stroke="#42a0dc" stroke-width="1.7" stroke-linejoin="round" stroke-linecap="round" />
<path d="M541.5,296.63 L541.68,296.38 L541.9,296.24 L542.15,295.86 L542.43,295.36 L542.73,294.36 L543.06,294.32 L543.4,293.26 L543.76,292.54 L544.13,291.72 L544.5,291.47 L544.87,290.52 L545.24,290.01 L545.6,289.72 L545.96,289.3 L546.29,288.75 L546.61,287.66 L546.9,287.21 L547.36,286.71 L547.8,286.36 L548.22,286.05 L548.63,285.48 L549.02,285.12 L549.42,284.35 L549.8,283.98 L550.19,283.29 L550.59,282.96 L551,282.54 L551.58,282.43 L552.15,282.19 L552.72,281.92 L553.3,281.58 L553.9,281.48 L554.53,281.23 L555.2,281.68 L555.77,281.47 L556.41,281.69 L557.07,281.86 L557.76,281.52 L558.44,281.52 L559.09,281.8 L559.7,282.46 L560.24,282.4 L560.7,282.01 L561.4,282.08 L561.81,281.25 L562.12,281.11 L562.5,279.63 L562.74,279.65 L562.98,279.1 L563.23,277.72 L563.48,276.87 L563.73,275.78 L564,275.29 L564.29,274.92 L564.6,275.02 L564.77,275.02 L564.96,275.54 L565.15,275.79 L565.34,276.69 L565.54,277.17 L565.74,277.66 L565.95,279 L566.16,279.17 L566.37,280.12 L566.58,281.2 L566.79,281.82 L567,282.73 L567.2,283.1 L567.4,283.97 L567.6,283.81 L567.83,285.07 L568.05,285.36 L568.25,285.98 L568.45,287 L568.64,287.58 L568.84,287.81 L569.05,288.41 L569.27,288.89 L569.51,290.01 L569.78,290.24 L570.07,290.41 L570.4,291.13 L570.8,291.19 L571.25,291.85 L571.74,292.51 L572.26,293.37 L572.79,293.67 L573.34,293.77 L573.88,294.31 L574.42,294.18 L574.94,294.87 L575.44,295.41 L575.9,294.89 L576.58,295.9 L577.22,296.19 L577.83,295.8 L578.42,296.31 L579,296.49 L579.55,295.7 L580.1,295.87 L580.63,295.71 L581.13,295.44 L581.61,294.4 L582.08,294.27 L582.54,293.73 L583.02,293.52 L583.5,293.31 L583.9,293.58 L584.26,293.7 L584.6,294.13 L584.95,294.62 L585.34,295.15 L585.79,295.76 L586.34,296.26 L587,296.5 L587.48,296.42 L588,296.76 L588.57,297.34 L589.17,296.83 L589.81,297.48 L590.46,297.38 L591.14,297.05 L591.82,296.84 L592.52,297.43 L593.2,297.48 L593.89,296.88 L594.55,297.18 L595.2,297.23 L595.84,297.08 L596.5,296.61 L597.16,296.69 L597.83,297.09 L598.51,296.98 L599.18,296.96 L599.84,296.54 L600.5,297 L601.14,296.81 L601.77,296.42 L602.37,296.61 L602.95,295.93 L603.5,295.93 L604.07,295.67 L604.61,295.8 L605.12,295.49 L605.62,294.64 L606.1,294.7 L606.56,293.9 L607.01,294.03 L607.44,293.6 L607.87,292.94 L608.28,291.85 L608.69,291.53 L609.1,290.8 L609.37,290.67 L609.62,289.81 L609.88,289.37 L610.12,288.92 L610.36,289.12 L610.6,288.37 L610.83,288.08 L611.06,287.6 L611.28,286.7 L611.5,286.37 L611.72,285.39 L611.93,284.93 L612.15,283.89 L612.36,283.49 L612.57,282.49 L612.78,282.12 L612.99,281.86 L613.2,281.14 L613.34,280.43 L613.47,279.27 L613.61,279.58 L613.75,278.6 L613.88,278.15 L614.02,277.3 L614.16,277.02 L614.3,275.97 L614.43,275.15 L614.57,274.81 L614.7,273.91 L614.84,273.28 L614.97,272.6 L615.1,272.39 L615.23,271.71 L615.36,270.64 L615.48,270.41 L615.61,269.17 L615.73,269.36 L615.85,268.11 L615.97,267.75 L616.08,267.04 L616.19,266.9 L616.3,265.98 L616.4,265.21 L616.51,265.34 L616.61,264.62 L616.7,263.89 L616.9,263.29 L617.07,262.44 L617.22,261.3 L617.35,260.39 L617.47,259.11 L617.58,258.2 L617.68,257.35 L617.8,257.55 L617.92,256.56 L618.06,256.47 L618.22,256.85 L618.4,256.45 L618.49,257.39 L618.59,257.33 L618.69,257.33 L618.8,258.33 L618.9,258.68 L619.01,258.66 L619.12,259.63 L619.24,260.45 L619.35,260.72 L619.47,261.47 L619.59,262.66 L619.71,262.76 L619.84,263.61 L619.96,264.26 L620.09,265.36 L620.21,266.09 L620.34,266.69 L620.47,267.27 L620.6,268.02 L620.73,269.29 L620.86,269.8 L620.99,270.63 L621.12,270.6 L621.24,271.9 L621.37,272.14 L621.5,272.47 L621.83,273.63 L622.18,273.72 L622.52,274.82 L622.88,275.06 L623.23,275.23 L623.59,276.24 L623.94,275.91 L624.3,276.84 L624.65,276.75 L625,277.61 L625.5,277.38 L626.02,278.15 L626.53,278.92 L627.04,278.83 L627.53,279.23 L627.98,279.53 L628.4,280.08 L628.68,280.37 L628.91,280.76 L629.11,281.34 L629.3,282.41 L629.49,282.54 L629.69,283.48 L629.91,284.29 L630.18,284.85 L630.5,285.31 L630.84,285.84 L631.2,286.11 L631.6,286.51 L632.02,286.62 L632.46,287.08 L632.91,287.74 L633.37,288.33 L633.85,288.72 L634.32,288.61 L634.8,289.38 L635.42,289.36 L636.08,289.45 L636.76,289.13 L637.46,289.66 L638.14,289.57 L638.81,289.44 L639.43,288.86 L640,288.87 L640.56,289.94 L641.05,289.94 L641.49,290.59 L641.91,290.51 L642.35,291.29 L642.84,291.12 L643.4,291.52 L643.85,292.41 L644.34,292.82 L644.86,293 L645.39,293.64 L645.94,294.2 L646.5,294.27 L647.05,294.43 L647.59,295.12 L648.11,295.09 L648.6,295.71 L649.03,294.88 L649.45,294.94 L649.86,294.32 L650.26,294.08 L650.66,293.39 L651.05,292.87 L651.43,292.76 L651.81,292.17 L652.18,291.5 L652.54,291.21 L652.9,290.61 L653.22,289.67 L653.54,289.36 L653.85,288.5 L654.16,287.87 L654.46,286.66 L654.76,286.55 L655.05,285.65 L655.33,284.5 L655.61,283.83 L655.88,283.7 L656.14,283.63 L656.4,283.15 L656.77,283.2 L657.11,283.86 L657.44,283.94 L657.76,284.44 L658.06,285.55 L658.37,286.25 L658.68,287.2 L659,287.24 L659.43,288.46 L659.87,289.06 L660.3,289.29 L660.73,289.48 L661.17,289.58 L661.6,289.79 L662.15,291.17 L662.73,292.58 L663.29,292.95 L663.8,293.52 L664.2,292.32 L664.24,291.88 L664.28,291.24 L664.32,290.98 L664.35,290.16 L664.39,289.78 L664.42,288.96 L664.45,288.86 L664.48,287.72 L664.5,287.56 L664.53,286.74 L664.55,285.54 L664.57,284.65 L664.59,284.39 L664.61,283.28 L664.63,282.7 L664.65,282.09 L664.67,280.73 L664.68,279.76 L664.7,279.3 L664.71,278.57 L664.73,277.61 L664.74,276.31 L664.75,275.9 L664.77,275.26 L664.78,274.75 L664.79,273.43 L664.8,272.77 L664.82,272.11 L664.83,271.79 L664.84,270.79 L664.86,270.66 L664.87,269.93 L664.88,269.52 L664.9,268.64 L664.91,268.97 L664.93,268.31 L664.94,268.05 L664.96,267.83 L664.98,268.21 L665,268.19 L665.02,268.1 L665.03,268.39 L665.05,268.02 L665.06,268.83 L665.07,268.92 L665.08,269.31 L665.08,269.82 L665.09,269.66 L665.09,270.04 L665.1,270.69 L665.1,272.02 L665.1,272.26 L665.1,272.48 L665.1,273.77 L665.11,274.63 L665.11,274.88 L665.11,275.89 L665.11,276.47 L665.12,277.52 L665.12,278.14 L665.13,279.01 L665.14,280.12 L665.14,281.05 L665.16,282.13 L665.17,282.3 L665.18,283.78 L665.2,284.04 L665.22,284.91 L665.24,285.7 L665.27,286.37 L665.3,287.28 L665.33,288.3 L665.37,289.07 L665.41,289.78 L665.45,289.89 L665.5,290.4 L665.55,290.82 L665.6,291.69 L665.66,291.91 L665.73,292.07 L665.8,292.62 L666.24,294.32 L666.79,294.87 L667.43,294.97 L668.12,294.54 L668.86,294.66 L669.6,293.93 L670.32,293.5 L671,293.39 L671.65,293.61 L672.31,293.72 L672.97,293.74 L673.63,293.95 L674.28,294.06 L674.93,294.09 L675.57,294.08 L676.2,294.29 L676.85,294.63 L677.54,295.35 L678.24,294.71 L678.93,295.83 L679.57,295.65 L680.15,295.44 L680.63,296 L681,296" fill="none" stroke="#ea4046" stroke-width="1.7" stroke-linejoin="round" stroke-linecap="round" />
<rect x="541.7" y="244.5" width="139.4" height="153.7" fill="none" stroke="#202020" stroke-width="1.35"/>
<line x1="568.3" y1="398.2" x2="568.3" y2="401.6" stroke="#202020" stroke-width="1.1"/>
<line x1="622.9" y1="398.2" x2="622.9" y2="401.6" stroke="#202020" stroke-width="1.1"/>
<line x1="677.5" y1="398.2" x2="677.5" y2="401.6" stroke="#202020" stroke-width="1.1"/>
<text x="562.96" y="415" font-size="13.2" fill="#111" textLength="15.46" lengthAdjust="spacingAndGlyphs" stroke="#111" stroke-width="0.2">10</text>
<text x="616.79" y="415" font-size="13.2" fill="#111" textLength="15.84" lengthAdjust="spacingAndGlyphs" stroke="#111" stroke-width="0.2">20</text>
<text x="669.86" y="415" font-size="13.2" fill="#111" textLength="14.94" lengthAdjust="spacingAndGlyphs" stroke="#111" stroke-width="0.2">30</text>
<text x="568.2" y="431.4" font-size="12.9" fill="#111" textLength="93.12" lengthAdjust="spacingAndGlyphs" stroke="#111" stroke-width="0.2">Angle (2 theta)</text>
<text transform="translate(536.1,358.1) rotate(-90)" x="-1.28" y="0" font-size="14" fill="#111" stroke="#111" stroke-width="0.2" textLength="86.18" lengthAdjust="spacingAndGlyphs">Intensity (a.u)</text>
<text x="532.47" y="232.4" font-size="19" fill="#111" textLength="11.6" lengthAdjust="spacingAndGlyphs" stroke="#111" stroke-width="0.2">e</text>
<text x="550.16" y="272" font-size="10.8" fill="#111" textLength="24.72" lengthAdjust="spacingAndGlyphs" stroke="#111" stroke-width="0.2">(020)</text>
<text x="605.34" y="255" font-size="10.8" fill="#111" textLength="24.77" lengthAdjust="spacingAndGlyphs" stroke="#111" stroke-width="0.2">(110)</text>
<text x="621.88" y="268.6" font-size="10.8" fill="#111" textLength="24.3" lengthAdjust="spacingAndGlyphs" stroke="#111" stroke-width="0.2">(120)</text>
<text x="644.88" y="262" font-size="10.8" fill="#111" textLength="24.3" lengthAdjust="spacingAndGlyphs" stroke="#111" stroke-width="0.2">(013)</text>
<text x="630.06" y="283.4" font-size="10.8" fill="#111" textLength="24.83" lengthAdjust="spacingAndGlyphs" stroke="#111" stroke-width="0.2">(130)</text>
<path d="M654.7,264.3 L656.2,276.5" stroke="#111" stroke-width="0.9"/>
<polygon points="654.3,276 658.0,275.6 656.4,279.6" fill="#111"/>
</svg>
</body></html>
